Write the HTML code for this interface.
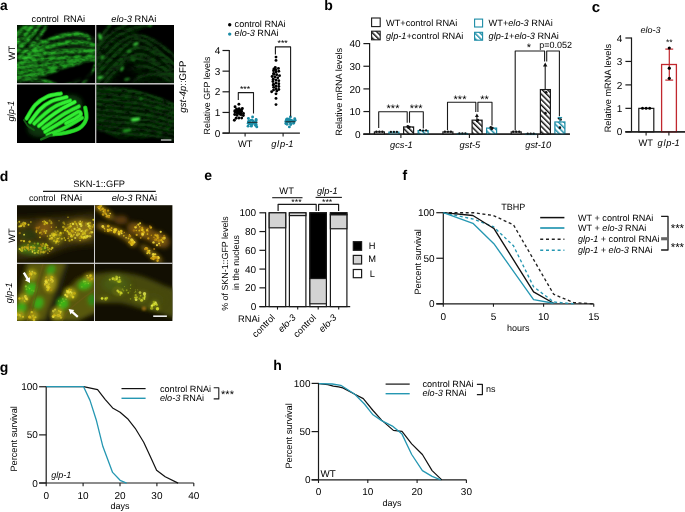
<!DOCTYPE html>
<html><head><meta charset="utf-8"><style>
html,body{margin:0;padding:0;width:685px;height:512px;overflow:hidden}
svg{display:block;will-change:transform}
text{font-family:"Liberation Sans", sans-serif;text-rendering:geometricPrecision}
</style></head><body>
<svg width="685" height="512" viewBox="0 0 685 512">
<rect x="0" y="0" width="685" height="512" fill="#fff"/>
<defs>
<pattern id="hatchK" patternUnits="userSpaceOnUse" width="3.8" height="3.8" patternTransform="rotate(-45)">
<rect width="3.8" height="3.8" fill="#fff"/><rect x="0" y="0" width="1.45" height="3.8" fill="#111"/></pattern>
<pattern id="hatchT" patternUnits="userSpaceOnUse" width="3.8" height="3.8" patternTransform="rotate(-45)">
<rect width="3.8" height="3.8" fill="#fff"/><rect x="0" y="0" width="1.45" height="3.8" fill="#1b8ca6"/></pattern>

<filter id="bl03" x="-20%" y="-20%" width="140%" height="140%"><feGaussianBlur stdDeviation="0.3"/></filter>
<filter id="speck" x="0" y="0" width="100%" height="100%" filterUnits="userSpaceOnUse">
<feTurbulence type="fractalNoise" baseFrequency="0.16 0.3" numOctaves="2" seed="5" result="n"/>
<feColorMatrix in="n" type="matrix" values="0 0 0 0 0  0 0 0 0 0  0 0 0 0 0  1.5 0 0 0 0.05" result="m"/>
<feComposite in="SourceGraphic" in2="m" operator="in" result="s"/>
<feGaussianBlur in="s" stdDeviation="0.35"/>
</filter>
<filter id="bl06" x="-20%" y="-20%" width="140%" height="140%"><feGaussianBlur stdDeviation="0.6"/></filter>
<filter id="bl08" x="-20%" y="-20%" width="140%" height="140%"><feGaussianBlur stdDeviation="0.75"/></filter>
<filter id="bl1" x="-20%" y="-20%" width="140%" height="140%"><feGaussianBlur stdDeviation="0.9"/></filter>
<filter id="bl2" x="-20%" y="-20%" width="140%" height="140%"><feGaussianBlur stdDeviation="2"/></filter>
<filter id="bl3" x="-30%" y="-30%" width="160%" height="160%"><feGaussianBlur stdDeviation="3"/></filter>
<clipPath id="cA1"><rect x="17" y="25" width="78.3" height="58.2"/></clipPath>
<clipPath id="cA2"><rect x="96.2" y="25" width="77.8" height="58.2"/></clipPath>
<clipPath id="cA3"><rect x="17" y="84.5" width="78.3" height="58.5"/></clipPath>
<clipPath id="cA4"><rect x="96.2" y="84.5" width="77.8" height="58.5"/></clipPath>
<clipPath id="cD1"><rect x="17" y="205.2" width="77.3" height="57.5"/></clipPath>
<clipPath id="cD2"><rect x="95" y="205.2" width="77.4" height="57.5"/></clipPath>
<clipPath id="cD3"><rect x="17" y="263.8" width="77.3" height="57.2"/></clipPath>
<clipPath id="cD4"><rect x="95" y="263.8" width="77.4" height="57.2"/></clipPath>

</defs>
<text x="0.10" y="10.10" font-size="13.8" font-weight="bold">a</text>
<text x="324.30" y="10.30" font-size="14" font-weight="bold">b</text>
<text x="591.80" y="11.50" font-size="15" font-weight="bold">c</text>
<text x="-0.30" y="180.60" font-size="14" font-weight="bold">d</text>
<text x="204.20" y="180.40" font-size="14" font-weight="bold">e</text>
<text x="402.40" y="180.20" font-size="14" font-weight="bold">f</text>
<text x="-0.20" y="371.60" font-size="14" font-weight="bold">g</text>
<text x="273.30" y="370.30" font-size="14" font-weight="bold">h</text>
<g id="micro_a"><rect x="17" y="25" width="157" height="118" fill="#000"/>
<g clip-path="url(#cA1)"><g filter="url(#speck)"><g filter="url(#bl1)">
<path d="M14,52 C30,46 45,36 70,33 C85,32 92,35 96,38 L96,60 C85,63 72,67 60,71 C50,74 40,78 30,80 L14,80 Z" fill="#072807"/>
<path d="M14,25 L44,25 C37,35 28,45 14,57 Z" fill="#062406"/>
<path d="M15.0,36.0 C16.2,35.0 19.8,31.8 22.0,30.0 C24.2,28.2 27.0,25.8 28.0,25.0" fill="none" stroke="#26a826" stroke-width="2.8" stroke-linecap="round" stroke-linejoin="round" opacity="1.0"/>
<path d="M15.0,44.0 C16.7,42.5 22.0,38.2 25.0,35.0 C28.0,31.8 31.7,26.7 33.0,25.0" fill="none" stroke="#26a826" stroke-width="2.8" stroke-linecap="round" stroke-linejoin="round" opacity="1.0"/>
<path d="M16.0,51.0 C17.8,49.3 23.7,44.5 27.0,41.0 C30.3,37.5 33.8,32.7 36.0,30.0 C38.2,27.3 39.3,25.8 40.0,25.0" fill="none" stroke="#26a826" stroke-width="2.8" stroke-linecap="round" stroke-linejoin="round" opacity="1.0"/>
<path d="M19.0,57.0 C20.8,55.3 26.7,50.3 30.0,47.0 C33.3,43.7 36.3,40.3 39.0,37.0 C41.7,33.7 44.8,28.7 46.0,27.0" fill="none" stroke="#26a826" stroke-width="2.8" stroke-linecap="round" stroke-linejoin="round" opacity="1.0"/>
<path d="M24.0,58.0 C25.7,56.7 31.0,52.8 34.0,50.0 C37.0,47.2 40.7,42.5 42.0,41.0" fill="none" stroke="#26a826" stroke-width="2.8" stroke-linecap="round" stroke-linejoin="round" opacity="1.0"/>
<path d="M33.0,52.0 C34.8,50.5 40.2,45.5 44.0,43.0 C47.8,40.5 51.7,38.5 56.0,37.0 C60.3,35.5 65.5,34.5 70.0,34.0 C74.5,33.5 79.8,33.3 83.0,34.0 C86.2,34.7 88.0,37.3 89.0,38.0" fill="none" stroke="#2cc02c" stroke-width="2.8" stroke-linecap="round" stroke-linejoin="round" opacity="1.0"/>
<path d="M26.0,56.0 C28.3,55.0 35.2,51.8 40.0,50.0 C44.8,48.2 49.7,46.3 55.0,45.0 C60.3,43.7 66.5,42.2 72.0,42.0 C77.5,41.8 83.8,43.3 88.0,44.0 C92.2,44.7 95.5,45.7 97.0,46.0" fill="none" stroke="#28b428" stroke-width="2.8" stroke-linecap="round" stroke-linejoin="round" opacity="1.0"/>
<path d="M21.0,60.0 C23.8,59.2 32.3,56.3 38.0,55.0 C43.7,53.7 48.8,52.7 55.0,52.0 C61.2,51.3 68.0,51.2 75.0,51.0 C82.0,50.8 93.3,51.0 97.0,51.0" fill="none" stroke="#2ec42e" stroke-width="2.8" stroke-linecap="round" stroke-linejoin="round" opacity="1.0"/>
<path d="M17.0,64.0 C20.5,63.3 31.2,61.0 38.0,60.0 C44.8,59.0 51.0,58.5 58.0,58.0 C65.0,57.5 73.5,57.3 80.0,57.0 C86.5,56.7 94.2,56.2 97.0,56.0" fill="none" stroke="#27b027" stroke-width="2.8" stroke-linecap="round" stroke-linejoin="round" opacity="1.0"/>
<path d="M17.0,68.0 C20.8,67.5 32.8,65.8 40.0,65.0 C47.2,64.2 53.7,63.8 60.0,63.0 C66.3,62.2 71.8,60.5 78.0,60.0 C84.2,59.5 93.8,60.0 97.0,60.0" fill="none" stroke="#25aa25" stroke-width="2.8" stroke-linecap="round" stroke-linejoin="round" opacity="1.0"/>
<path d="M17.0,72.0 C20.2,71.7 30.2,70.7 36.0,70.0 C41.8,69.3 47.0,68.7 52.0,68.0 C57.0,67.3 61.3,66.8 66.0,66.0 C70.7,65.2 77.7,63.5 80.0,63.0" fill="none" stroke="#24a624" stroke-width="2.8" stroke-linecap="round" stroke-linejoin="round" opacity="1.0"/>
<path d="M17.0,76.0 C19.5,75.8 27.2,75.5 32.0,75.0 C36.8,74.5 42.0,73.7 46.0,73.0 C50.0,72.3 54.3,71.3 56.0,71.0" fill="none" stroke="#26ac26" stroke-width="2.8" stroke-linecap="round" stroke-linejoin="round" opacity="1.0"/>
<path d="M17.0,80.0 C19.2,80.0 25.5,79.8 30.0,80.0 C34.5,80.2 39.7,80.3 44.0,81.0 C48.3,81.7 54.0,83.5 56.0,84.0" fill="none" stroke="#219e21" stroke-width="2.8" stroke-linecap="round" stroke-linejoin="round" opacity="1.0"/>
<path d="M97.0,63.0 C96.2,64.3 93.7,68.5 92.0,71.0 C90.3,73.5 88.7,75.5 87.0,78.0 C85.3,80.5 82.8,84.7 82.0,86.0" fill="none" stroke="#24a824" stroke-width="2.8" stroke-linecap="round" stroke-linejoin="round" opacity="1.0"/>
<path d="M64.0,86.0 C65.3,85.3 69.3,83.2 72.0,82.0 C74.7,80.8 78.7,79.5 80.0,79.0" fill="none" stroke="#1b801b" stroke-width="2.8" stroke-linecap="round" stroke-linejoin="round" opacity="1.0"/>
<circle cx="56.2" cy="35.5" r="1.03" fill="#2cb82c" opacity="0.9"/>
<circle cx="81.2" cy="33.4" r="0.83" fill="#2cb82c" opacity="0.9"/>
<circle cx="57.8" cy="36.3" r="1.01" fill="#3ee03e" opacity="0.9"/>
<circle cx="37.2" cy="48.2" r="1.27" fill="#2cb82c" opacity="0.9"/>
<circle cx="67.4" cy="34.0" r="1.02" fill="#2cb82c" opacity="0.9"/>
<circle cx="66.3" cy="34.4" r="0.81" fill="#3ee03e" opacity="0.9"/>
<circle cx="79.8" cy="34.2" r="1.32" fill="#2cb82c" opacity="0.9"/>
<circle cx="28.1" cy="55.2" r="1.02" fill="#34cc34" opacity="0.9"/>
<circle cx="67.3" cy="43.0" r="0.91" fill="#3ee03e" opacity="0.9"/>
<circle cx="72.4" cy="42.5" r="1.02" fill="#34cc34" opacity="0.9"/>
<circle cx="53.5" cy="43.9" r="0.76" fill="#34cc34" opacity="0.9"/>
<circle cx="47.4" cy="47.0" r="0.86" fill="#34cc34" opacity="0.9"/>
<circle cx="27.9" cy="54.9" r="0.78" fill="#34cc34" opacity="0.9"/>
<circle cx="52.5" cy="45.7" r="1.37" fill="#2cb82c" opacity="0.9"/>
<circle cx="21.1" cy="60.4" r="1.03" fill="#2cb82c" opacity="0.9"/>
<circle cx="50.9" cy="54.2" r="0.75" fill="#2cb82c" opacity="0.9"/>
<circle cx="35.6" cy="55.4" r="0.92" fill="#3ee03e" opacity="0.9"/>
<circle cx="94.2" cy="50.4" r="1.23" fill="#3ee03e" opacity="0.9"/>
<circle cx="30.9" cy="57.0" r="1.03" fill="#34cc34" opacity="0.9"/>
<circle cx="34.1" cy="56.0" r="1.09" fill="#34cc34" opacity="0.9"/>
<circle cx="59.3" cy="53.0" r="0.99" fill="#34cc34" opacity="0.9"/>
<circle cx="26.2" cy="62.1" r="0.99" fill="#3ee03e" opacity="0.9"/>
<circle cx="17.3" cy="65.2" r="1.11" fill="#3ee03e" opacity="0.9"/>
<circle cx="33.4" cy="59.4" r="0.98" fill="#2cb82c" opacity="0.9"/>
<circle cx="68.3" cy="59.2" r="0.85" fill="#34cc34" opacity="0.9"/>
<circle cx="18.0" cy="65.1" r="1.13" fill="#34cc34" opacity="0.9"/>
<circle cx="47.7" cy="59.5" r="1.15" fill="#3ee03e" opacity="0.9"/>
<circle cx="64.9" cy="57.9" r="0.96" fill="#34cc34" opacity="0.9"/>
<circle cx="27.0" cy="65.6" r="0.80" fill="#34cc34" opacity="0.9"/>
<circle cx="31.5" cy="65.4" r="0.81" fill="#3ee03e" opacity="0.9"/>
<circle cx="82.3" cy="60.0" r="1.22" fill="#2cb82c" opacity="0.9"/>
<circle cx="32.8" cy="66.4" r="1.37" fill="#34cc34" opacity="0.9"/>
<circle cx="65.2" cy="61.8" r="0.73" fill="#34cc34" opacity="0.9"/>
<circle cx="36.1" cy="65.7" r="1.19" fill="#34cc34" opacity="0.9"/>
<circle cx="50.7" cy="64.6" r="1.06" fill="#2cb82c" opacity="0.9"/>
<circle cx="78.5" cy="62.9" r="0.79" fill="#34cc34" opacity="0.9"/>
<circle cx="52.5" cy="68.5" r="0.90" fill="#3ee03e" opacity="0.9"/>
<circle cx="64.2" cy="65.5" r="0.75" fill="#34cc34" opacity="0.9"/>
<circle cx="45.3" cy="69.3" r="0.96" fill="#2cb82c" opacity="0.9"/>
<circle cx="78.4" cy="63.5" r="0.76" fill="#3ee03e" opacity="0.9"/>
<circle cx="73.4" cy="65.4" r="1.18" fill="#2cb82c" opacity="0.9"/>
<circle cx="76.7" cy="63.6" r="1.11" fill="#3ee03e" opacity="0.9"/>
<circle cx="35.6" cy="74.1" r="0.72" fill="#2cb82c" opacity="0.9"/>
<circle cx="42.0" cy="74.1" r="1.04" fill="#2cb82c" opacity="0.9"/>
<circle cx="29.2" cy="75.4" r="1.02" fill="#34cc34" opacity="0.9"/>
<circle cx="45.9" cy="73.2" r="1.33" fill="#2cb82c" opacity="0.9"/>
<circle cx="46.0" cy="74.2" r="0.94" fill="#3ee03e" opacity="0.9"/>
<circle cx="44.0" cy="74.6" r="1.33" fill="#34cc34" opacity="0.9"/>
<circle cx="54.0" cy="72.2" r="0.71" fill="#2cb82c" opacity="0.9"/>
<circle cx="32.0" cy="80.3" r="1.11" fill="#2cb82c" opacity="0.9"/>
<circle cx="19.8" cy="80.3" r="0.88" fill="#34cc34" opacity="0.9"/>
<circle cx="45.6" cy="81.6" r="0.97" fill="#2cb82c" opacity="0.9"/>
<circle cx="44.5" cy="80.3" r="1.08" fill="#2cb82c" opacity="0.9"/>
<circle cx="46.4" cy="81.8" r="0.72" fill="#2cb82c" opacity="0.9"/>
<circle cx="20.5" cy="81.7" r="0.78" fill="#2cb82c" opacity="0.9"/>
<circle cx="43.0" cy="81.2" r="1.04" fill="#3ee03e" opacity="0.9"/>
<circle cx="91.1" cy="71.2" r="1.06" fill="#34cc34" opacity="0.9"/>
<circle cx="86.3" cy="77.7" r="1.01" fill="#3ee03e" opacity="0.9"/>
<circle cx="92.4" cy="70.7" r="1.00" fill="#3ee03e" opacity="0.9"/>
<circle cx="84.1" cy="83.4" r="0.97" fill="#2cb82c" opacity="0.9"/>
<circle cx="83.1" cy="84.1" r="0.95" fill="#3ee03e" opacity="0.9"/>
<circle cx="85.9" cy="79.1" r="1.37" fill="#34cc34" opacity="0.9"/>
<circle cx="84.1" cy="81.5" r="1.35" fill="#34cc34" opacity="0.9"/>
<circle cx="20.3" cy="32.2" r="1.06" fill="#2cb82c" opacity="0.9"/>
<circle cx="19.8" cy="33.3" r="1.02" fill="#3ee03e" opacity="0.9"/>
<circle cx="24.7" cy="25.6" r="0.89" fill="#2cb82c" opacity="0.9"/>
<circle cx="15.4" cy="35.4" r="0.92" fill="#2cb82c" opacity="0.9"/>
<circle cx="14.7" cy="35.1" r="0.80" fill="#34cc34" opacity="0.9"/>
<circle cx="17.5" cy="33.9" r="1.25" fill="#3ee03e" opacity="0.9"/>
<circle cx="27.4" cy="24.8" r="0.78" fill="#3ee03e" opacity="0.9"/>
<circle cx="26.4" cy="32.1" r="1.37" fill="#2cb82c" opacity="0.9"/>
<circle cx="18.2" cy="39.7" r="1.28" fill="#34cc34" opacity="0.9"/>
<circle cx="19.0" cy="41.4" r="1.20" fill="#3ee03e" opacity="0.9"/>
<circle cx="19.5" cy="40.1" r="1.25" fill="#2cb82c" opacity="0.9"/>
<circle cx="27.3" cy="30.6" r="1.23" fill="#34cc34" opacity="0.9"/>
<circle cx="30.4" cy="28.0" r="1.19" fill="#3ee03e" opacity="0.9"/>
<circle cx="17.4" cy="43.2" r="0.79" fill="#34cc34" opacity="0.9"/>
<circle cx="20.9" cy="46.0" r="1.32" fill="#3ee03e" opacity="0.9"/>
<circle cx="25.0" cy="41.0" r="1.26" fill="#34cc34" opacity="0.9"/>
<circle cx="27.5" cy="39.4" r="1.16" fill="#3ee03e" opacity="0.9"/>
<circle cx="19.2" cy="49.3" r="1.35" fill="#3ee03e" opacity="0.9"/>
<circle cx="21.0" cy="45.2" r="1.33" fill="#3ee03e" opacity="0.9"/>
<circle cx="38.6" cy="24.9" r="0.92" fill="#2cb82c" opacity="0.9"/>
<circle cx="36.6" cy="28.8" r="0.94" fill="#3ee03e" opacity="0.9"/>
<circle cx="19.8" cy="55.7" r="0.89" fill="#3ee03e" opacity="0.9"/>
<circle cx="26.0" cy="51.5" r="1.31" fill="#34cc34" opacity="0.9"/>
<circle cx="41.6" cy="33.8" r="1.25" fill="#3ee03e" opacity="0.9"/>
<circle cx="33.2" cy="44.2" r="1.40" fill="#2cb82c" opacity="0.9"/>
<circle cx="33.9" cy="42.2" r="1.32" fill="#2cb82c" opacity="0.9"/>
<circle cx="44.3" cy="28.3" r="0.76" fill="#3ee03e" opacity="0.9"/>
<circle cx="31.1" cy="44.0" r="1.09" fill="#3ee03e" opacity="0.9"/>
<circle cx="33.8" cy="49.5" r="1.29" fill="#2cb82c" opacity="0.9"/>
<circle cx="28.5" cy="53.4" r="1.31" fill="#2cb82c" opacity="0.9"/>
<circle cx="27.1" cy="53.6" r="1.30" fill="#2cb82c" opacity="0.9"/>
<circle cx="33.8" cy="49.6" r="1.08" fill="#2cb82c" opacity="0.9"/>
<circle cx="24.0" cy="57.8" r="0.96" fill="#2cb82c" opacity="0.9"/>
<circle cx="41.0" cy="41.1" r="1.26" fill="#2cb82c" opacity="0.9"/>
<circle cx="26.3" cy="56.1" r="0.77" fill="#3ee03e" opacity="0.9"/>
</g></g>
<path d="M52,75 C65,70 80,66 92,63 L92,80 C85,81 70,82 58,84 Z" fill="#000" opacity="0.85" filter="url(#bl1)"/>
</g>
<g clip-path="url(#cA2)"><g filter="url(#speck)"><g filter="url(#bl1)">
<path d="M94,86 L94,40 C105,32 120,27 140,25 L152,25 C135,32 125,38 120,45 C132,40 145,48 160,60 C168,66 175,72 176,80 L176,86 Z" fill="#031403"/>
<path d="M94.0,78.0 C96.3,75.3 103.3,67.0 108.0,62.0 C112.7,57.0 117.7,51.7 122.0,48.0 C126.3,44.3 130.0,41.0 134.0,40.0 C138.0,39.0 141.7,40.0 146.0,42.0 C150.3,44.0 155.0,48.0 160.0,52.0 C165.0,56.0 173.3,63.7 176.0,66.0" fill="none" stroke="#0d480d" stroke-width="3.1" stroke-linecap="round" stroke-linejoin="round" opacity="1.0"/>
<path d="M94.0,72.0 C96.0,69.3 102.0,60.7 106.0,56.0 C110.0,51.3 113.7,47.3 118.0,44.0 C122.3,40.7 127.3,37.2 132.0,36.0 C136.7,34.8 141.0,35.3 146.0,37.0 C151.0,38.7 157.0,42.5 162.0,46.0 C167.0,49.5 173.7,56.0 176.0,58.0" fill="none" stroke="#0b420b" stroke-width="3.1" stroke-linecap="round" stroke-linejoin="round" opacity="1.0"/>
<path d="M96.0,84.0 C98.7,81.3 107.0,73.0 112.0,68.0 C117.0,63.0 121.7,57.5 126.0,54.0 C130.3,50.5 134.0,47.7 138.0,47.0 C142.0,46.3 145.7,47.8 150.0,50.0 C154.3,52.2 159.7,56.0 164.0,60.0 C168.3,64.0 174.0,71.7 176.0,74.0" fill="none" stroke="#0d460d" stroke-width="3.1" stroke-linecap="round" stroke-linejoin="round" opacity="1.0"/>
<path d="M102.0,86.0 C104.3,83.3 111.7,74.7 116.0,70.0 C120.3,65.3 124.0,60.7 128.0,58.0 C132.0,55.3 135.7,53.7 140.0,54.0 C144.3,54.3 149.7,57.3 154.0,60.0 C158.3,62.7 162.3,66.7 166.0,70.0 C169.7,73.3 174.3,78.3 176.0,80.0" fill="none" stroke="#0a3c0a" stroke-width="3.1" stroke-linecap="round" stroke-linejoin="round" opacity="1.0"/>
<path d="M94.0,64.0 C95.7,61.3 100.0,52.7 104.0,48.0 C108.0,43.3 113.0,39.3 118.0,36.0 C123.0,32.7 128.7,29.8 134.0,28.0 C139.3,26.2 147.3,25.5 150.0,25.0" fill="none" stroke="#0b400b" stroke-width="3.1" stroke-linecap="round" stroke-linejoin="round" opacity="1.0"/>
<path d="M94.0,56.0 C95.3,53.7 98.7,46.2 102.0,42.0 C105.3,37.8 110.0,33.8 114.0,31.0 C118.0,28.2 124.0,26.0 126.0,25.0" fill="none" stroke="#0a3a0a" stroke-width="3.1" stroke-linecap="round" stroke-linejoin="round" opacity="1.0"/>
<path d="M98.0,45.0 C99.0,43.0 102.0,36.3 104.0,33.0 C106.0,29.7 109.0,26.3 110.0,25.0" fill="none" stroke="#0c440c" stroke-width="3.1" stroke-linecap="round" stroke-linejoin="round" opacity="1.0"/>
<path d="M126.0,86.0 C128.0,84.7 134.0,80.0 138.0,78.0 C142.0,76.0 146.0,74.3 150.0,74.0 C154.0,73.7 157.7,74.3 162.0,76.0 C166.3,77.7 173.7,82.7 176.0,84.0" fill="none" stroke="#093409" stroke-width="3.1" stroke-linecap="round" stroke-linejoin="round" opacity="1.0"/>
<path d="M122.0,62.0 C124.7,61.3 132.3,57.7 138.0,58.0 C143.7,58.3 149.7,61.0 156.0,64.0 C162.3,67.0 172.7,74.0 176.0,76.0" fill="none" stroke="#0b400b" stroke-width="3.1" stroke-linecap="round" stroke-linejoin="round" opacity="1.0"/>
<path d="M128.0,70.0 C130.7,69.3 138.7,65.7 144.0,66.0 C149.3,66.3 154.7,69.3 160.0,72.0 C165.3,74.7 173.3,80.3 176.0,82.0" fill="none" stroke="#0a3a0a" stroke-width="3.1" stroke-linecap="round" stroke-linejoin="round" opacity="1.0"/>
<circle cx="98.2" cy="72.3" r="1.08" fill="#155a15" opacity="0.8"/>
<circle cx="113.1" cy="56.7" r="0.84" fill="#124f12" opacity="0.8"/>
<circle cx="119.3" cy="52.4" r="1.06" fill="#155a15" opacity="0.8"/>
<circle cx="101.0" cy="68.8" r="0.81" fill="#124f12" opacity="0.8"/>
<circle cx="169.6" cy="53.5" r="0.61" fill="#124f12" opacity="0.8"/>
<circle cx="104.3" cy="59.5" r="0.61" fill="#155a15" opacity="0.8"/>
<circle cx="115.2" cy="46.1" r="0.65" fill="#124f12" opacity="0.8"/>
<circle cx="163.9" cy="48.5" r="0.91" fill="#124f12" opacity="0.8"/>
<circle cx="153.6" cy="52.7" r="0.92" fill="#124f12" opacity="0.8"/>
<circle cx="137.8" cy="47.0" r="1.03" fill="#124f12" opacity="0.8"/>
<circle cx="137.3" cy="48.0" r="1.03" fill="#124f12" opacity="0.8"/>
<circle cx="170.7" cy="66.8" r="0.91" fill="#155a15" opacity="0.8"/>
<circle cx="169.6" cy="73.3" r="1.06" fill="#124f12" opacity="0.8"/>
<circle cx="160.2" cy="65.8" r="0.70" fill="#124f12" opacity="0.8"/>
<circle cx="110.5" cy="76.4" r="0.73" fill="#124f12" opacity="0.8"/>
<circle cx="131.6" cy="57.8" r="1.07" fill="#124f12" opacity="0.8"/>
<circle cx="101.0" cy="51.4" r="0.65" fill="#155a15" opacity="0.8"/>
<circle cx="143.6" cy="25.4" r="1.08" fill="#124f12" opacity="0.8"/>
<circle cx="129.5" cy="29.8" r="1.10" fill="#124f12" opacity="0.8"/>
<circle cx="136.1" cy="27.2" r="0.84" fill="#124f12" opacity="0.8"/>
<circle cx="94.3" cy="54.2" r="0.88" fill="#124f12" opacity="0.8"/>
<circle cx="98.1" cy="48.3" r="0.66" fill="#124f12" opacity="0.8"/>
<circle cx="120.1" cy="29.5" r="0.65" fill="#124f12" opacity="0.8"/>
<circle cx="97.0" cy="50.6" r="0.94" fill="#124f12" opacity="0.8"/>
<circle cx="106.4" cy="29.2" r="0.86" fill="#155a15" opacity="0.8"/>
<circle cx="100.7" cy="40.9" r="0.79" fill="#124f12" opacity="0.8"/>
<circle cx="108.0" cy="28.1" r="0.97" fill="#155a15" opacity="0.8"/>
<circle cx="109.4" cy="26.8" r="0.90" fill="#124f12" opacity="0.8"/>
<circle cx="151.1" cy="75.5" r="1.00" fill="#155a15" opacity="0.8"/>
<circle cx="154.4" cy="74.9" r="0.70" fill="#155a15" opacity="0.8"/>
<circle cx="166.7" cy="78.6" r="0.97" fill="#124f12" opacity="0.8"/>
<circle cx="166.4" cy="80.1" r="0.80" fill="#155a15" opacity="0.8"/>
<circle cx="170.1" cy="72.1" r="0.98" fill="#155a15" opacity="0.8"/>
<circle cx="133.6" cy="58.1" r="0.69" fill="#155a15" opacity="0.8"/>
<circle cx="138.9" cy="59.4" r="1.10" fill="#124f12" opacity="0.8"/>
<circle cx="135.4" cy="59.4" r="1.07" fill="#155a15" opacity="0.8"/>
<circle cx="145.3" cy="66.0" r="0.87" fill="#155a15" opacity="0.8"/>
<circle cx="154.1" cy="69.1" r="0.85" fill="#124f12" opacity="0.8"/>
<circle cx="162.6" cy="73.8" r="0.61" fill="#124f12" opacity="0.8"/>
<circle cx="165.3" cy="73.3" r="0.73" fill="#155a15" opacity="0.8"/>
</g></g>
<path d="M112,86 C118,75 124,66 130,62 C134,68 136,76 134,86 Z" fill="#000" opacity="0.8" filter="url(#bl2)"/>
<g filter="url(#bl1)">
<ellipse cx="100" cy="36.5" rx="1.5" ry="3.4" transform="rotate(-15 100 36.5)" fill="#3cd03c"/>
<ellipse cx="135.8" cy="44" rx="3.2" ry="1.5" transform="rotate(-20 135.8 44)" fill="#3ac83a"/>
<ellipse cx="129" cy="51" rx="2.4" ry="1.3" transform="rotate(-25 129 51)" fill="#2a9e2a"/>
<ellipse cx="102.3" cy="57.3" rx="1.6" ry="2.4" transform="rotate(30 102.3 57.3)" fill="#289a28"/>
<ellipse cx="122" cy="68.8" rx="1.3" ry="2.8" transform="rotate(30 122 68.8)" fill="#34b834"/>
<ellipse cx="100" cy="77.5" rx="2.8" ry="1.6" transform="rotate(-10 100 77.5)" fill="#3ac43a"/>
<ellipse cx="127" cy="79.2" rx="3" ry="1.3" transform="rotate(-10 127 79.2)" fill="#228822"/>
<ellipse cx="150.2" cy="25.6" rx="2" ry="1" transform="rotate(0 150.2 25.6)" fill="#289a28"/>
<ellipse cx="133" cy="60" rx="2" ry="1.3" transform="rotate(20 133 60)" fill="#1d701d"/>
</g></g>
<g clip-path="url(#cA3)">
<ellipse cx="55" cy="116" rx="31" ry="16" transform="rotate(-32 55 116)" fill="#0a360a" filter="url(#bl2)"/>
<g filter="url(#bl06)">
<path d="M26.5,118.6 C28.0,116.3 32.1,108.4 35.5,104.8 C38.9,101.2 42.8,98.6 47.0,96.7 C51.2,94.8 58.5,94.1 60.8,93.6" fill="none" stroke="#1aa81a" stroke-width="4.4" stroke-linecap="round" stroke-linejoin="round" opacity="1.0"/>
<path d="M30.0,122.1 C31.7,120.0 36.5,112.9 40.1,109.4 C43.7,105.9 47.2,103.3 51.6,101.3 C56.0,99.3 64.1,97.9 66.6,97.2" fill="none" stroke="#1aa81a" stroke-width="4.4" stroke-linecap="round" stroke-linejoin="round" opacity="1.0"/>
<path d="M34.3,123.6 C36.0,122.0 41.1,117.0 44.7,114.0 C48.4,111.0 52.0,108.1 56.2,105.9 C60.4,103.7 67.8,101.5 70.1,100.6" fill="none" stroke="#1aa81a" stroke-width="4.4" stroke-linecap="round" stroke-linejoin="round" opacity="1.0"/>
<path d="M38.9,126.0 C40.6,124.6 45.6,120.2 49.3,117.4 C52.9,114.6 56.6,112.0 60.8,109.4 C65.0,106.8 72.4,103.2 74.7,102.0" fill="none" stroke="#1aa81a" stroke-width="4.4" stroke-linecap="round" stroke-linejoin="round" opacity="1.0"/>
<path d="M43.2,128.4 C45.0,127.2 50.2,123.4 53.9,120.9 C57.6,118.4 61.3,115.6 65.4,113.2 C69.6,110.8 76.6,107.5 78.8,106.4" fill="none" stroke="#1aa81a" stroke-width="4.4" stroke-linecap="round" stroke-linejoin="round" opacity="1.0"/>
<path d="M45.2,131.8 C47.2,130.6 53.2,127.1 57.4,124.6 C61.5,122.1 66.6,118.7 70.1,116.6 C73.6,114.5 76.8,112.1 78.6,111.8 C80.3,111.5 81.2,113.4 80.6,114.6 C80.0,115.8 77.6,117.3 75.2,118.8 C72.8,120.3 67.5,122.6 66.0,123.4" fill="none" stroke="#1aa81a" stroke-width="4.4" stroke-linecap="round" stroke-linejoin="round" opacity="1.0"/>
<path d="M47.5,135.0 C49.5,134.2 55.6,132.2 59.7,130.3 C63.9,128.4 68.7,125.7 72.4,123.6 C76.1,121.5 80.4,118.8 82.0,117.8" fill="none" stroke="#1aa81a" stroke-width="4.4" stroke-linecap="round" stroke-linejoin="round" opacity="1.0"/>
<path d="M52.0,134.4 C54.2,134.1 60.9,133.8 65.4,132.8 C70.0,131.8 75.8,130.5 79.3,128.2 C82.8,125.9 85.2,122.4 86.2,119.0 C87.2,115.6 85.4,109.5 85.2,107.6" fill="none" stroke="#1aa81a" stroke-width="4.4" stroke-linecap="round" stroke-linejoin="round" opacity="1.0"/>
<path d="M26.5,118.6 C28.0,116.3 32.1,108.4 35.5,104.8 C38.9,101.2 42.8,98.6 47.0,96.7 C51.2,94.8 58.5,94.1 60.8,93.6" fill="none" stroke="#34f034" stroke-width="2.9" stroke-linecap="round" stroke-linejoin="round" opacity="1.0"/>
<path d="M30.0,122.1 C31.7,120.0 36.5,112.9 40.1,109.4 C43.7,105.9 47.2,103.3 51.6,101.3 C56.0,99.3 64.1,97.9 66.6,97.2" fill="none" stroke="#38f438" stroke-width="2.9" stroke-linecap="round" stroke-linejoin="round" opacity="1.0"/>
<path d="M34.3,123.6 C36.0,122.0 41.1,117.0 44.7,114.0 C48.4,111.0 52.0,108.1 56.2,105.9 C60.4,103.7 67.8,101.5 70.1,100.6" fill="none" stroke="#32ec32" stroke-width="2.9" stroke-linecap="round" stroke-linejoin="round" opacity="1.0"/>
<path d="M38.9,126.0 C40.6,124.6 45.6,120.2 49.3,117.4 C52.9,114.6 56.6,112.0 60.8,109.4 C65.0,106.8 72.4,103.2 74.7,102.0" fill="none" stroke="#38f638" stroke-width="2.9" stroke-linecap="round" stroke-linejoin="round" opacity="1.0"/>
<path d="M43.2,128.4 C45.0,127.2 50.2,123.4 53.9,120.9 C57.6,118.4 61.3,115.6 65.4,113.2 C69.6,110.8 76.6,107.5 78.8,106.4" fill="none" stroke="#30e830" stroke-width="2.9" stroke-linecap="round" stroke-linejoin="round" opacity="1.0"/>
<path d="M45.2,131.8 C47.2,130.6 53.2,127.1 57.4,124.6 C61.5,122.1 66.6,118.7 70.1,116.6 C73.6,114.5 76.8,112.1 78.6,111.8 C80.3,111.5 81.2,113.4 80.6,114.6 C80.0,115.8 77.6,117.3 75.2,118.8 C72.8,120.3 67.5,122.6 66.0,123.4" fill="none" stroke="#33ec33" stroke-width="2.9" stroke-linecap="round" stroke-linejoin="round" opacity="1.0"/>
<path d="M47.5,135.0 C49.5,134.2 55.6,132.2 59.7,130.3 C63.9,128.4 68.7,125.7 72.4,123.6 C76.1,121.5 80.4,118.8 82.0,117.8" fill="none" stroke="#2ee22e" stroke-width="2.9" stroke-linecap="round" stroke-linejoin="round" opacity="1.0"/>
<path d="M52.0,134.4 C54.2,134.1 60.9,133.8 65.4,132.8 C70.0,131.8 75.8,130.5 79.3,128.2 C82.8,125.9 85.2,122.4 86.2,119.0 C87.2,115.6 85.4,109.5 85.2,107.6" fill="none" stroke="#2cde2c" stroke-width="2.9" stroke-linecap="round" stroke-linejoin="round" opacity="1.0"/>
<path d="M41.2,139.4 L51.6,134.9" fill="none" stroke="#166a16" stroke-width="2.6" stroke-linecap="round" stroke-linejoin="round" opacity="1.0"/>
<path d="M24.0,120.0 C24.7,121.0 26.3,124.3 28.0,126.0 C29.7,127.7 33.0,129.3 34.0,130.0" fill="none" stroke="#125a12" stroke-width="2.0" stroke-linecap="round" stroke-linejoin="round" opacity="1.0"/>
</g></g>
<g clip-path="url(#cA4)"><g filter="url(#speck)"><g filter="url(#bl1)">
<path d="M94,85 L130,88 C145,92 160,98 176,106 L176,128 C165,135 150,138 140,139 L120,139 C112,137 104,132 94,127 Z" fill="#041e04"/>
<path d="M94.0,88.0 C97.5,88.2 108.2,88.8 115.0,89.5 C121.8,90.2 128.3,90.8 135.0,92.0 C141.7,93.2 148.2,94.8 155.0,97.0 C161.8,99.2 172.5,103.7 176.0,105.0" fill="none" stroke="#0d480d" stroke-width="2.5" stroke-linecap="round" stroke-linejoin="round" opacity="1.0"/>
<path d="M94.0,93.2 C97.5,93.5 108.2,94.2 115.0,94.9 C121.8,95.6 128.3,96.1 135.0,97.3 C141.7,98.5 148.2,99.9 155.0,101.9 C161.8,103.9 172.5,108.1 176.0,109.3" fill="none" stroke="#0b400b" stroke-width="2.5" stroke-linecap="round" stroke-linejoin="round" opacity="1.0"/>
<path d="M94.0,98.4 C97.5,98.7 108.2,99.6 115.0,100.3 C121.8,101.0 128.3,101.5 135.0,102.6 C141.7,103.7 148.2,105.0 155.0,106.8 C161.8,108.6 172.5,112.5 176.0,113.6" fill="none" stroke="#0e4a0e" stroke-width="2.5" stroke-linecap="round" stroke-linejoin="round" opacity="1.0"/>
<path d="M94.0,103.6 C97.5,103.9 108.2,105.0 115.0,105.7 C121.8,106.4 128.3,106.9 135.0,107.9 C141.7,108.9 148.2,110.0 155.0,111.7 C161.8,113.4 172.5,116.9 176.0,117.9" fill="none" stroke="#0a3a0a" stroke-width="2.5" stroke-linecap="round" stroke-linejoin="round" opacity="1.0"/>
<path d="M94.0,108.8 C97.5,109.2 108.2,110.4 115.0,111.1 C121.8,111.8 128.3,112.3 135.0,113.2 C141.7,114.1 148.2,115.1 155.0,116.6 C161.8,118.1 172.5,121.3 176.0,122.2" fill="none" stroke="#0d460d" stroke-width="2.5" stroke-linecap="round" stroke-linejoin="round" opacity="1.0"/>
<path d="M94.0,114.0 C97.5,114.4 108.2,115.8 115.0,116.5 C121.8,117.2 128.3,117.7 135.0,118.5 C141.7,119.3 148.2,120.2 155.0,121.5 C161.8,122.8 172.5,125.7 176.0,126.5" fill="none" stroke="#0b400b" stroke-width="2.5" stroke-linecap="round" stroke-linejoin="round" opacity="1.0"/>
<path d="M94.0,119.2 C97.5,119.7 108.2,121.1 115.0,121.9 C121.8,122.7 128.3,123.0 135.0,123.8 C141.7,124.5 148.2,125.2 155.0,126.4 C161.8,127.6 172.5,130.1 176.0,130.8" fill="none" stroke="#0c440c" stroke-width="2.5" stroke-linecap="round" stroke-linejoin="round" opacity="1.0"/>
<path d="M94.0,124.4 C97.5,124.9 108.2,126.5 115.0,127.3 C121.8,128.1 128.3,128.4 135.0,129.1 C141.7,129.8 148.2,130.3 155.0,131.3 C161.8,132.3 172.5,134.5 176.0,135.1" fill="none" stroke="#093609" stroke-width="2.5" stroke-linecap="round" stroke-linejoin="round" opacity="1.0"/>
<path d="M94.0,129.6 C97.5,130.1 108.2,131.9 115.0,132.7 C121.8,133.5 128.3,133.8 135.0,134.4 C141.7,135.0 148.2,135.4 155.0,136.2 C161.8,137.0 172.5,138.9 176.0,139.4" fill="none" stroke="#0b400b" stroke-width="2.5" stroke-linecap="round" stroke-linejoin="round" opacity="1.0"/>
<circle cx="136.3" cy="92.4" r="0.61" fill="#1c6c1c" opacity="0.8"/>
<circle cx="115.2" cy="88.7" r="1.23" fill="#1c6c1c" opacity="0.8"/>
<circle cx="174.0" cy="102.3" r="1.05" fill="#186218" opacity="0.8"/>
<circle cx="140.1" cy="92.5" r="1.07" fill="#186218" opacity="0.8"/>
<circle cx="126.2" cy="96.8" r="1.28" fill="#1c6c1c" opacity="0.8"/>
<circle cx="139.3" cy="98.0" r="1.02" fill="#1c6c1c" opacity="0.8"/>
<circle cx="171.9" cy="107.2" r="1.02" fill="#1c6c1c" opacity="0.8"/>
<circle cx="138.2" cy="98.4" r="0.94" fill="#1c6c1c" opacity="0.8"/>
<circle cx="140.6" cy="103.6" r="0.81" fill="#186218" opacity="0.8"/>
<circle cx="157.6" cy="108.6" r="1.01" fill="#186218" opacity="0.8"/>
<circle cx="128.1" cy="101.7" r="0.82" fill="#1c6c1c" opacity="0.8"/>
<circle cx="98.2" cy="98.6" r="1.29" fill="#1c6c1c" opacity="0.8"/>
<circle cx="100.1" cy="104.7" r="0.93" fill="#186218" opacity="0.8"/>
<circle cx="97.8" cy="103.6" r="0.67" fill="#1c6c1c" opacity="0.8"/>
<circle cx="105.9" cy="105.2" r="1.09" fill="#186218" opacity="0.8"/>
<circle cx="145.7" cy="109.8" r="0.92" fill="#186218" opacity="0.8"/>
<circle cx="164.9" cy="119.0" r="0.85" fill="#186218" opacity="0.8"/>
<circle cx="149.1" cy="115.9" r="0.92" fill="#1c6c1c" opacity="0.8"/>
<circle cx="146.9" cy="115.0" r="1.12" fill="#186218" opacity="0.8"/>
<circle cx="172.3" cy="120.7" r="1.11" fill="#186218" opacity="0.8"/>
<circle cx="133.8" cy="117.9" r="0.96" fill="#1c6c1c" opacity="0.8"/>
<circle cx="116.7" cy="116.7" r="1.03" fill="#186218" opacity="0.8"/>
<circle cx="146.2" cy="120.2" r="0.77" fill="#186218" opacity="0.8"/>
<circle cx="166.3" cy="123.8" r="0.63" fill="#186218" opacity="0.8"/>
<circle cx="94.8" cy="119.3" r="0.63" fill="#186218" opacity="0.8"/>
<circle cx="138.6" cy="124.4" r="0.65" fill="#186218" opacity="0.8"/>
<circle cx="168.9" cy="129.5" r="1.29" fill="#1c6c1c" opacity="0.8"/>
<circle cx="133.4" cy="124.0" r="0.75" fill="#1c6c1c" opacity="0.8"/>
<circle cx="134.6" cy="129.9" r="1.16" fill="#1c6c1c" opacity="0.8"/>
<circle cx="160.3" cy="133.2" r="1.04" fill="#186218" opacity="0.8"/>
<circle cx="130.5" cy="128.7" r="0.71" fill="#186218" opacity="0.8"/>
<circle cx="147.8" cy="129.9" r="1.29" fill="#1c6c1c" opacity="0.8"/>
<circle cx="117.8" cy="133.0" r="0.73" fill="#1c6c1c" opacity="0.8"/>
<circle cx="141.7" cy="133.9" r="0.92" fill="#1c6c1c" opacity="0.8"/>
<circle cx="100.3" cy="131.2" r="0.94" fill="#1c6c1c" opacity="0.8"/>
<circle cx="118.4" cy="133.4" r="1.14" fill="#186218" opacity="0.8"/>
</g></g><g filter="url(#bl1)">
<ellipse cx="135.5" cy="119.5" rx="5" ry="1.7" transform="rotate(-8 135.5 119.5)" fill="#46f046"/>
<ellipse cx="127" cy="130.5" rx="4.5" ry="1.5" transform="rotate(-8 127 130.5)" fill="#24a024"/>
<ellipse cx="141" cy="99" rx="1.6" ry="1.2" fill="#1f8a1f"/>
</g></g>
<g clip-path="url(#cA4)"><path d="M140,84 L176,84 L176,104 C165,97 152,91 140,86 Z" fill="#000" filter="url(#bl1)"/>
<path d="M94,128 C104,134 112,139 122,142 L94,144 Z" fill="#000" filter="url(#bl1)"/></g>
<rect x="95.1" y="25" width="1.2" height="118" fill="#d2d2d2"/>
<rect x="17" y="83.1" width="157" height="1.4" fill="#d2d2d2"/>
<rect x="160.9" y="139.3" width="10.5" height="1.4" fill="#c4c4c4"/></g>
<g id="micro_d"><rect x="17" y="205.2" width="155.4" height="115.8" fill="#120f02"/>
<g clip-path="url(#cD1)">
<path d="M14,219 C35,218 60,217 97,213 L97,244 C80,245 68,246 58,251 C45,257 30,259 14,260 Z" fill="#3a300a" filter="url(#bl3)"/>
<ellipse cx="45" cy="228" rx="9" ry="7" fill="#8a5a14" opacity="0.8" filter="url(#bl3)"/>
<ellipse cx="80" cy="230" rx="15" ry="10" fill="#8a6a14" opacity="0.85" filter="url(#bl3)"/>
<ellipse cx="32" cy="249" rx="14" ry="6" fill="#3a6a14" opacity="0.9" filter="url(#bl2)"/>
<ellipse cx="56" cy="238" rx="7" ry="7" fill="#7a7414" opacity="0.8" filter="url(#bl2)"/>
<ellipse cx="28" cy="235" rx="9" ry="5" fill="#2a3a0c" opacity="0.8" filter="url(#bl2)"/>
<g filter="url(#bl2)" opacity="0.55">
<circle cx="19.1" cy="226.5" r="1.02" fill="#d0c020" opacity="0.76"/>
<circle cx="23.6" cy="223.0" r="1.22" fill="#e8e040" opacity="0.71"/>
<circle cx="23.3" cy="223.2" r="0.68" fill="#a08812" opacity="0.79"/>
<circle cx="25.1" cy="223.6" r="1.16" fill="#d0c020" opacity="0.74"/>
<circle cx="23.3" cy="224.1" r="0.66" fill="#d8b818" opacity="0.58"/>
<circle cx="22.8" cy="224.5" r="1.16" fill="#d8b818" opacity="0.87"/>
<circle cx="21.4" cy="226.0" r="0.99" fill="#c8b010" opacity="0.60"/>
<circle cx="20.5" cy="226.1" r="1.17" fill="#e8e040" opacity="0.77"/>
<circle cx="21.4" cy="224.4" r="1.28" fill="#b09a14" opacity="0.59"/>
<circle cx="21.5" cy="225.7" r="0.66" fill="#d8c818" opacity="0.67"/>
<circle cx="17.1" cy="222.9" r="0.62" fill="#c8b010" opacity="0.61"/>
<circle cx="24.2" cy="223.5" r="1.10" fill="#a08812" opacity="0.86"/>
<circle cx="21.2" cy="225.6" r="0.88" fill="#d8b818" opacity="0.88"/>
<circle cx="19.3" cy="221.8" r="0.94" fill="#d8c818" opacity="0.84"/>
<circle cx="25.1" cy="223.5" r="1.18" fill="#d8b818" opacity="0.89"/>
<circle cx="24.1" cy="226.0" r="1.22" fill="#c0a818" opacity="0.81"/>
<circle cx="47.2" cy="223.4" r="1.08" fill="#b09a14" opacity="0.92"/>
<circle cx="51.2" cy="221.4" r="0.70" fill="#b09a14" opacity="0.83"/>
<circle cx="45.2" cy="222.0" r="0.92" fill="#d0c020" opacity="0.94"/>
<circle cx="42.6" cy="221.7" r="0.67" fill="#c8b010" opacity="0.86"/>
<circle cx="46.6" cy="222.9" r="1.15" fill="#e0d020" opacity="0.69"/>
<circle cx="44.0" cy="221.9" r="0.95" fill="#a08812" opacity="0.80"/>
<circle cx="44.2" cy="221.1" r="0.77" fill="#c8b010" opacity="0.92"/>
<circle cx="51.4" cy="223.1" r="1.17" fill="#c0a818" opacity="0.75"/>
<circle cx="44.6" cy="224.2" r="1.15" fill="#d8b818" opacity="0.82"/>
<circle cx="49.7" cy="220.7" r="1.12" fill="#b09a14" opacity="0.59"/>
<circle cx="76.8" cy="230.5" r="1.06" fill="#d0c020" opacity="0.87"/>
<circle cx="91.3" cy="229.1" r="0.82" fill="#b09a14" opacity="0.80"/>
<circle cx="70.4" cy="223.8" r="0.89" fill="#d0c020" opacity="0.92"/>
<circle cx="88.7" cy="223.4" r="1.27" fill="#e8e040" opacity="0.67"/>
<circle cx="81.0" cy="223.7" r="1.29" fill="#e0d020" opacity="0.65"/>
<circle cx="69.6" cy="227.3" r="1.15" fill="#c0a818" opacity="0.61"/>
<circle cx="79.4" cy="229.4" r="1.46" fill="#e8e040" opacity="0.78"/>
<circle cx="80.2" cy="221.3" r="0.77" fill="#e8e040" opacity="0.92"/>
<circle cx="71.8" cy="230.8" r="1.07" fill="#c8b010" opacity="0.93"/>
<circle cx="93.0" cy="226.7" r="0.96" fill="#c0a818" opacity="0.69"/>
<circle cx="79.1" cy="233.9" r="0.92" fill="#f0e848" opacity="0.62"/>
<circle cx="84.7" cy="233.2" r="1.27" fill="#d8c818" opacity="0.82"/>
<circle cx="85.9" cy="225.3" r="1.11" fill="#a08812" opacity="0.86"/>
<circle cx="90.0" cy="236.2" r="1.25" fill="#e8e040" opacity="0.63"/>
<circle cx="83.6" cy="237.9" r="1.27" fill="#d8b818" opacity="0.86"/>
<circle cx="81.6" cy="222.6" r="0.77" fill="#b09a14" opacity="0.85"/>
<circle cx="75.2" cy="238.0" r="1.11" fill="#f0e848" opacity="0.70"/>
<circle cx="85.0" cy="233.7" r="0.76" fill="#b09a14" opacity="0.58"/>
<circle cx="79.0" cy="233.7" r="0.69" fill="#e0d020" opacity="0.63"/>
<circle cx="69.5" cy="228.3" r="0.67" fill="#b09a14" opacity="0.92"/>
<circle cx="69.9" cy="224.7" r="0.73" fill="#b09a14" opacity="0.75"/>
<circle cx="91.8" cy="232.2" r="1.25" fill="#e8e040" opacity="0.84"/>
<circle cx="84.5" cy="232.0" r="0.62" fill="#d8b818" opacity="0.64"/>
<circle cx="74.6" cy="228.9" r="1.10" fill="#e8e040" opacity="0.76"/>
<circle cx="88.1" cy="235.9" r="1.15" fill="#c8b010" opacity="0.67"/>
<circle cx="81.1" cy="226.4" r="0.81" fill="#e8e040" opacity="0.76"/>
<circle cx="70.0" cy="233.8" r="1.49" fill="#c0a818" opacity="0.95"/>
<circle cx="85.8" cy="237.8" r="1.11" fill="#e0d020" opacity="0.81"/>
<circle cx="72.8" cy="231.4" r="1.23" fill="#d8b818" opacity="0.60"/>
<circle cx="90.4" cy="225.8" r="1.39" fill="#a08812" opacity="0.94"/>
<circle cx="81.2" cy="231.1" r="1.10" fill="#d0c020" opacity="0.63"/>
<circle cx="86.9" cy="237.1" r="0.90" fill="#c8b010" opacity="0.62"/>
<circle cx="89.1" cy="226.2" r="1.41" fill="#e8e040" opacity="0.86"/>
<circle cx="76.2" cy="224.0" r="1.14" fill="#d8c818" opacity="0.74"/>
<circle cx="77.3" cy="235.1" r="1.44" fill="#f0e848" opacity="0.62"/>
<circle cx="87.2" cy="236.3" r="1.42" fill="#e8e040" opacity="0.79"/>
<circle cx="71.6" cy="229.4" r="0.73" fill="#b09a14" opacity="0.61"/>
<circle cx="77.4" cy="227.1" r="0.72" fill="#e8e040" opacity="0.79"/>
<circle cx="75.3" cy="232.6" r="0.63" fill="#f0e848" opacity="0.87"/>
<circle cx="77.3" cy="230.0" r="0.69" fill="#d8b818" opacity="0.73"/>
<circle cx="83.5" cy="233.4" r="1.28" fill="#d0c020" opacity="0.75"/>
<circle cx="89.9" cy="228.4" r="0.99" fill="#e8e040" opacity="0.61"/>
<circle cx="92.3" cy="226.9" r="1.07" fill="#b09a14" opacity="0.91"/>
<circle cx="75.0" cy="222.0" r="1.25" fill="#b09a14" opacity="0.85"/>
<circle cx="82.7" cy="234.5" r="0.87" fill="#e8e040" opacity="0.90"/>
<circle cx="72.8" cy="236.2" r="0.82" fill="#b09a14" opacity="0.94"/>
<circle cx="79.3" cy="222.9" r="1.42" fill="#c0a818" opacity="0.69"/>
<circle cx="77.1" cy="225.2" r="0.66" fill="#f0e848" opacity="0.71"/>
<circle cx="81.3" cy="231.2" r="0.75" fill="#f0e848" opacity="0.85"/>
<circle cx="81.9" cy="237.3" r="0.69" fill="#c8b010" opacity="0.62"/>
<circle cx="81.1" cy="238.1" r="0.60" fill="#e8e040" opacity="0.85"/>
<circle cx="78.3" cy="229.1" r="1.08" fill="#c8b010" opacity="0.71"/>
<circle cx="82.4" cy="221.8" r="0.63" fill="#d8b818" opacity="0.69"/>
<circle cx="80.0" cy="237.8" r="1.48" fill="#a08812" opacity="0.90"/>
<circle cx="71.7" cy="236.5" r="1.22" fill="#e0d020" opacity="0.64"/>
<circle cx="89.5" cy="227.4" r="1.03" fill="#c8b010" opacity="0.81"/>
<circle cx="85.5" cy="231.1" r="1.08" fill="#e8e040" opacity="0.64"/>
<circle cx="69.0" cy="234.1" r="0.88" fill="#d0c020" opacity="0.90"/>
<circle cx="86.0" cy="223.4" r="1.23" fill="#a08812" opacity="0.73"/>
<circle cx="70.7" cy="236.5" r="0.71" fill="#e8e040" opacity="0.67"/>
<circle cx="86.2" cy="230.0" r="0.87" fill="#d0c020" opacity="0.71"/>
<circle cx="84.5" cy="236.9" r="1.13" fill="#e8e040" opacity="0.94"/>
<circle cx="72.3" cy="223.4" r="1.20" fill="#a08812" opacity="0.94"/>
<circle cx="78.3" cy="230.5" r="1.08" fill="#e0d020" opacity="0.57"/>
<circle cx="82.4" cy="230.7" r="0.98" fill="#e8e040" opacity="0.60"/>
<circle cx="74.0" cy="234.6" r="0.82" fill="#d0c020" opacity="0.85"/>
<circle cx="83.4" cy="237.5" r="1.13" fill="#e0d020" opacity="0.92"/>
<circle cx="80.0" cy="224.2" r="1.10" fill="#f0e848" opacity="0.92"/>
<circle cx="75.0" cy="229.7" r="0.63" fill="#d0c020" opacity="0.76"/>
<circle cx="89.7" cy="233.3" r="1.07" fill="#c0a818" opacity="0.64"/>
<circle cx="87.8" cy="224.0" r="1.15" fill="#e8e040" opacity="0.82"/>
<circle cx="81.3" cy="225.6" r="1.24" fill="#e8e040" opacity="0.67"/>
<circle cx="81.2" cy="236.3" r="1.14" fill="#d0c020" opacity="0.58"/>
<circle cx="82.7" cy="233.9" r="1.12" fill="#c8b010" opacity="0.69"/>
<circle cx="83.0" cy="232.0" r="1.33" fill="#c0a818" opacity="0.74"/>
<circle cx="73.4" cy="235.4" r="0.67" fill="#c8b010" opacity="0.79"/>
<circle cx="81.2" cy="235.2" r="0.81" fill="#c8b010" opacity="0.59"/>
<circle cx="77.9" cy="233.5" r="1.34" fill="#c0a818" opacity="0.87"/>
<circle cx="87.4" cy="230.0" r="1.19" fill="#c0a818" opacity="0.64"/>
<circle cx="73.1" cy="223.9" r="1.22" fill="#e8e040" opacity="0.87"/>
<circle cx="50.3" cy="235.7" r="0.93" fill="#e8e040" opacity="0.84"/>
<circle cx="59.3" cy="238.4" r="0.72" fill="#a08812" opacity="0.77"/>
<circle cx="54.8" cy="237.4" r="0.68" fill="#c0a818" opacity="0.68"/>
<circle cx="55.0" cy="231.1" r="0.63" fill="#e8e040" opacity="0.66"/>
<circle cx="52.8" cy="237.7" r="0.82" fill="#a08812" opacity="0.60"/>
<circle cx="52.5" cy="234.3" r="1.45" fill="#e8e040" opacity="0.65"/>
<circle cx="51.6" cy="238.2" r="1.50" fill="#d8b818" opacity="0.79"/>
<circle cx="52.3" cy="235.3" r="0.64" fill="#b09a14" opacity="0.70"/>
<circle cx="51.9" cy="237.7" r="0.75" fill="#e8e040" opacity="0.72"/>
<circle cx="57.2" cy="240.6" r="1.03" fill="#a08812" opacity="0.95"/>
<circle cx="58.3" cy="242.1" r="0.78" fill="#b09a14" opacity="0.73"/>
<circle cx="61.8" cy="238.7" r="1.07" fill="#d0c020" opacity="0.76"/>
<circle cx="56.9" cy="239.1" r="0.80" fill="#d8c818" opacity="0.71"/>
<circle cx="54.2" cy="240.7" r="1.25" fill="#d8c818" opacity="0.58"/>
<circle cx="53.7" cy="235.4" r="0.67" fill="#b09a14" opacity="0.69"/>
<circle cx="59.5" cy="237.3" r="0.65" fill="#b09a14" opacity="0.80"/>
<circle cx="55.8" cy="232.6" r="1.06" fill="#c8b010" opacity="0.58"/>
<circle cx="53.6" cy="235.9" r="1.09" fill="#c8b010" opacity="0.77"/>
<circle cx="56.6" cy="234.4" r="1.01" fill="#b09a14" opacity="0.63"/>
<circle cx="52.2" cy="233.9" r="1.24" fill="#b09a14" opacity="0.62"/>
<circle cx="56.2" cy="235.0" r="0.69" fill="#d8b818" opacity="0.70"/>
<circle cx="49.8" cy="238.8" r="1.11" fill="#d0c020" opacity="0.82"/>
<circle cx="56.8" cy="234.9" r="0.71" fill="#d8b818" opacity="0.66"/>
<circle cx="57.7" cy="231.3" r="0.98" fill="#b09a14" opacity="0.76"/>
<circle cx="55.9" cy="243.0" r="0.86" fill="#d0c020" opacity="0.65"/>
<circle cx="59.5" cy="234.9" r="1.24" fill="#c0a818" opacity="0.61"/>
<circle cx="53.9" cy="235.9" r="0.74" fill="#e8e040" opacity="0.67"/>
<circle cx="60.6" cy="234.3" r="1.42" fill="#b09a14" opacity="0.62"/>
<circle cx="53.0" cy="235.3" r="1.36" fill="#d0c020" opacity="0.75"/>
<circle cx="53.7" cy="233.5" r="0.62" fill="#d8b818" opacity="0.69"/>
<circle cx="54.4" cy="234.2" r="1.33" fill="#c8b010" opacity="0.81"/>
<circle cx="54.5" cy="234.8" r="1.41" fill="#e0d020" opacity="0.79"/>
<circle cx="57.7" cy="238.7" r="0.97" fill="#b09a14" opacity="0.59"/>
<circle cx="50.4" cy="236.5" r="1.00" fill="#b09a14" opacity="0.58"/>
<circle cx="24.6" cy="249.1" r="0.85" fill="#d8b818" opacity="0.75"/>
<circle cx="20.7" cy="250.2" r="0.82" fill="#d0c020" opacity="0.83"/>
<circle cx="38.5" cy="247.8" r="0.79" fill="#a08812" opacity="0.89"/>
<circle cx="46.0" cy="244.4" r="1.26" fill="#b0c818" opacity="0.94"/>
<circle cx="31.3" cy="247.3" r="1.31" fill="#d8b818" opacity="0.88"/>
<circle cx="27.1" cy="247.9" r="0.73" fill="#e8e040" opacity="0.88"/>
<circle cx="25.4" cy="250.3" r="0.99" fill="#70b020" opacity="0.68"/>
<circle cx="34.1" cy="247.5" r="1.13" fill="#a08812" opacity="0.66"/>
<circle cx="28.5" cy="247.1" r="0.74" fill="#c0a818" opacity="0.85"/>
<circle cx="47.8" cy="253.2" r="0.85" fill="#a08812" opacity="0.76"/>
<circle cx="43.1" cy="243.9" r="1.10" fill="#b09a14" opacity="0.90"/>
<circle cx="37.3" cy="252.3" r="0.91" fill="#b0c818" opacity="0.81"/>
<circle cx="32.5" cy="251.0" r="0.75" fill="#e8e040" opacity="0.89"/>
<circle cx="48.2" cy="249.7" r="0.94" fill="#b0c818" opacity="0.62"/>
<circle cx="45.2" cy="246.5" r="0.73" fill="#e8e040" opacity="0.71"/>
<circle cx="42.8" cy="246.0" r="0.75" fill="#e0d020" opacity="0.75"/>
<circle cx="43.6" cy="252.2" r="1.34" fill="#d0c020" opacity="0.83"/>
<circle cx="34.3" cy="250.4" r="0.92" fill="#90c020" opacity="0.95"/>
<circle cx="21.7" cy="251.3" r="0.69" fill="#e0d020" opacity="0.64"/>
<circle cx="32.1" cy="249.4" r="1.24" fill="#b09a14" opacity="0.70"/>
<circle cx="20.9" cy="249.5" r="0.99" fill="#d8b818" opacity="0.60"/>
<circle cx="34.9" cy="253.1" r="1.12" fill="#e8e040" opacity="0.72"/>
<circle cx="41.0" cy="251.9" r="1.38" fill="#b09a14" opacity="0.83"/>
<circle cx="27.4" cy="246.6" r="1.29" fill="#a08812" opacity="0.64"/>
<circle cx="28.5" cy="248.9" r="0.70" fill="#d8b818" opacity="0.91"/>
<circle cx="29.2" cy="249.8" r="0.82" fill="#b09a14" opacity="0.67"/>
<circle cx="27.7" cy="248.8" r="0.89" fill="#d0c020" opacity="0.78"/>
<circle cx="45.9" cy="250.9" r="0.60" fill="#d8b818" opacity="0.75"/>
<circle cx="49.5" cy="248.8" r="0.93" fill="#c0a818" opacity="0.72"/>
<circle cx="22.0" cy="249.6" r="1.13" fill="#70b020" opacity="0.67"/>
<circle cx="26.4" cy="246.7" r="0.80" fill="#a08812" opacity="0.79"/>
<circle cx="38.3" cy="250.9" r="0.82" fill="#e0d020" opacity="0.86"/>
<circle cx="30.5" cy="249.2" r="0.61" fill="#e8e040" opacity="0.59"/>
<circle cx="32.4" cy="251.9" r="0.81" fill="#e8e040" opacity="0.87"/>
<circle cx="45.0" cy="247.9" r="1.24" fill="#90c020" opacity="0.86"/>
<circle cx="52.3" cy="247.9" r="1.16" fill="#d0c020" opacity="0.91"/>
<circle cx="24.8" cy="247.1" r="1.18" fill="#c0a818" opacity="0.82"/>
<circle cx="47.6" cy="247.5" r="1.11" fill="#d8b818" opacity="0.69"/>
<circle cx="22.3" cy="250.7" r="1.08" fill="#d0c020" opacity="0.70"/>
<circle cx="45.2" cy="245.8" r="1.19" fill="#c0a818" opacity="0.69"/>
<circle cx="27.0" cy="247.3" r="0.72" fill="#d8b818" opacity="0.70"/>
<circle cx="34.6" cy="243.6" r="1.00" fill="#b09a14" opacity="0.61"/>
<circle cx="40.0" cy="249.9" r="0.86" fill="#a08812" opacity="0.94"/>
<circle cx="27.5" cy="248.0" r="1.16" fill="#c8b010" opacity="0.88"/>
<circle cx="22.4" cy="247.8" r="1.34" fill="#c8b010" opacity="0.87"/>
<circle cx="37.9" cy="243.6" r="1.18" fill="#90c020" opacity="0.71"/>
<circle cx="41.9" cy="245.8" r="1.09" fill="#a08812" opacity="0.90"/>
<circle cx="41.4" cy="249.1" r="1.05" fill="#d8c818" opacity="0.62"/>
<circle cx="45.1" cy="251.7" r="0.95" fill="#a08812" opacity="0.73"/>
<circle cx="33.1" cy="246.0" r="1.08" fill="#70b020" opacity="0.59"/>
<circle cx="51.3" cy="249.3" r="0.96" fill="#d0c020" opacity="0.80"/>
<circle cx="40.2" cy="253.7" r="0.72" fill="#a08812" opacity="0.69"/>
<circle cx="28.7" cy="250.4" r="0.75" fill="#a08812" opacity="0.95"/>
<circle cx="33.7" cy="253.0" r="0.70" fill="#a08812" opacity="0.61"/>
<circle cx="46.9" cy="245.1" r="0.69" fill="#d8c818" opacity="0.76"/>
<circle cx="49.6" cy="251.3" r="0.80" fill="#d8b818" opacity="0.74"/>
<circle cx="38.2" cy="253.0" r="0.76" fill="#d0c020" opacity="0.94"/>
<circle cx="28.1" cy="244.7" r="0.95" fill="#a08812" opacity="0.90"/>
<circle cx="22.5" cy="249.0" r="0.64" fill="#c0a818" opacity="0.94"/>
<circle cx="47.6" cy="245.5" r="0.87" fill="#d8b818" opacity="0.93"/>
<circle cx="36.6" cy="228.3" r="0.85" fill="#b08018" opacity="0.58"/>
<circle cx="42.2" cy="229.7" r="0.89" fill="#a07010" opacity="0.95"/>
<circle cx="36.5" cy="231.0" r="1.13" fill="#a07010" opacity="0.78"/>
<circle cx="43.8" cy="231.6" r="1.11" fill="#b08018" opacity="0.82"/>
<circle cx="36.5" cy="227.7" r="1.06" fill="#a07010" opacity="0.83"/>
<circle cx="39.6" cy="227.0" r="0.67" fill="#b08018" opacity="0.80"/>
<circle cx="38.3" cy="227.6" r="1.20" fill="#a07010" opacity="0.85"/>
<circle cx="38.3" cy="228.5" r="0.84" fill="#a07010" opacity="0.60"/>
<circle cx="36.7" cy="230.1" r="0.70" fill="#c8b010" opacity="0.95"/>
<circle cx="57.2" cy="241.1" r="1.16" fill="#d8b818" opacity="0.95"/>
<circle cx="56.2" cy="227.2" r="0.58" fill="#d8c818" opacity="0.95"/>
<circle cx="85.5" cy="235.1" r="0.70" fill="#d8c818" opacity="0.95"/>
<circle cx="68.0" cy="217.2" r="0.77" fill="#b09a14" opacity="0.95"/>
<circle cx="64.3" cy="238.0" r="0.81" fill="#d8c818" opacity="0.95"/>
<circle cx="44.9" cy="231.1" r="0.96" fill="#d0c020" opacity="0.95"/>
<circle cx="41.0" cy="244.5" r="0.99" fill="#907010" opacity="0.95"/>
<circle cx="65.3" cy="240.1" r="0.92" fill="#d0c020" opacity="0.95"/>
<circle cx="47.3" cy="236.1" r="0.69" fill="#d8c818" opacity="0.95"/>
<circle cx="81.6" cy="237.0" r="0.88" fill="#d8c818" opacity="0.95"/>
<circle cx="51.4" cy="227.2" r="0.65" fill="#d8b818" opacity="0.95"/>
<circle cx="19.6" cy="248.9" r="0.99" fill="#e0d020" opacity="0.95"/>
<circle cx="69.2" cy="234.6" r="0.61" fill="#d8c818" opacity="0.95"/>
<circle cx="44.2" cy="229.9" r="0.97" fill="#a08010" opacity="0.95"/>
<circle cx="21.9" cy="240.6" r="0.66" fill="#e0d020" opacity="0.95"/>
<circle cx="93.3" cy="219.7" r="0.95" fill="#d8c818" opacity="0.95"/>
<circle cx="95.7" cy="238.0" r="0.55" fill="#a08812" opacity="0.95"/>
<circle cx="68.6" cy="237.0" r="0.86" fill="#a08010" opacity="0.95"/>
<circle cx="30.9" cy="222.0" r="0.76" fill="#c8b010" opacity="0.95"/>
<circle cx="58.3" cy="244.4" r="0.50" fill="#907010" opacity="0.95"/>
<circle cx="72.0" cy="239.7" r="1.05" fill="#d0c020" opacity="0.95"/>
<circle cx="69.5" cy="240.7" r="1.12" fill="#b09a14" opacity="0.95"/>
<circle cx="53.3" cy="233.1" r="0.51" fill="#d8b818" opacity="0.95"/>
<circle cx="90.8" cy="231.7" r="0.75" fill="#c0a818" opacity="0.95"/>
<circle cx="60.6" cy="232.9" r="1.18" fill="#d8c818" opacity="0.95"/>
<circle cx="39.9" cy="232.9" r="0.90" fill="#c8b010" opacity="0.95"/>
<circle cx="68.6" cy="232.8" r="0.86" fill="#d0c020" opacity="0.95"/>
<circle cx="40.0" cy="237.4" r="0.79" fill="#e0d020" opacity="0.95"/>
<circle cx="93.6" cy="224.9" r="0.91" fill="#c8b010" opacity="0.95"/>
<circle cx="59.0" cy="220.7" r="0.57" fill="#c0a818" opacity="0.95"/>
<circle cx="29.6" cy="241.6" r="1.18" fill="#c0a818" opacity="0.95"/>
<circle cx="28.5" cy="224.8" r="1.00" fill="#d8c818" opacity="0.95"/>
<circle cx="47.3" cy="223.1" r="0.51" fill="#c8b010" opacity="0.95"/>
<circle cx="80.1" cy="240.5" r="0.76" fill="#d0c020" opacity="0.95"/>
<circle cx="59.1" cy="241.3" r="0.52" fill="#d8c818" opacity="0.95"/>
<circle cx="56.2" cy="241.8" r="1.03" fill="#e0d020" opacity="0.95"/>
<circle cx="46.6" cy="230.9" r="0.71" fill="#e8e040" opacity="0.95"/>
<circle cx="39.1" cy="248.8" r="0.73" fill="#a08812" opacity="0.95"/>
<circle cx="34.4" cy="247.6" r="1.20" fill="#c0a818" opacity="0.95"/>
<circle cx="90.0" cy="223.0" r="1.13" fill="#b09a14" opacity="0.95"/>
<circle cx="65.4" cy="229.9" r="0.69" fill="#a08010" opacity="0.95"/>
<circle cx="36.3" cy="232.0" r="0.83" fill="#d8b818" opacity="0.95"/>
<circle cx="68.1" cy="238.5" r="0.73" fill="#d8c818" opacity="0.95"/>
<circle cx="21.0" cy="240.7" r="0.87" fill="#c0a818" opacity="0.95"/>
<circle cx="41.8" cy="234.1" r="1.07" fill="#907010" opacity="0.95"/>
<circle cx="24.1" cy="234.7" r="0.84" fill="#e8e040" opacity="0.95"/>
<circle cx="58.0" cy="238.5" r="0.87" fill="#e0d020" opacity="0.95"/>
<circle cx="45.6" cy="232.9" r="0.98" fill="#d8b818" opacity="0.95"/>
<circle cx="91.7" cy="228.5" r="0.76" fill="#a08010" opacity="0.95"/>
<circle cx="71.3" cy="235.2" r="1.03" fill="#e0d020" opacity="0.95"/>
<circle cx="40.9" cy="232.3" r="0.85" fill="#c0a818" opacity="0.95"/>
<circle cx="75.3" cy="224.4" r="0.65" fill="#a08010" opacity="0.95"/>
<circle cx="39.7" cy="248.1" r="1.06" fill="#b09a14" opacity="0.95"/>
<circle cx="67.2" cy="231.0" r="0.90" fill="#d8c818" opacity="0.95"/>
<circle cx="24.0" cy="241.1" r="1.19" fill="#d0c020" opacity="0.95"/>
<circle cx="41.7" cy="230.9" r="1.05" fill="#907010" opacity="0.95"/>
<circle cx="40.7" cy="248.3" r="1.20" fill="#a08812" opacity="0.95"/>
<circle cx="19.8" cy="233.2" r="1.15" fill="#907010" opacity="0.95"/>
<circle cx="72.2" cy="226.2" r="0.93" fill="#907010" opacity="0.95"/>
<circle cx="68.5" cy="229.0" r="0.60" fill="#a08812" opacity="0.73"/>
<circle cx="68.8" cy="227.3" r="1.13" fill="#b09a14" opacity="0.86"/>
<circle cx="67.8" cy="231.6" r="0.91" fill="#d8c818" opacity="0.89"/>
<circle cx="70.6" cy="226.3" r="1.18" fill="#d8c818" opacity="0.84"/>
<circle cx="65.0" cy="230.3" r="1.06" fill="#d8c818" opacity="0.92"/>
<circle cx="63.1" cy="227.0" r="0.98" fill="#d8c818" opacity="0.63"/>
<circle cx="63.7" cy="226.9" r="1.23" fill="#b09a14" opacity="0.65"/>
<circle cx="68.0" cy="227.9" r="0.91" fill="#b09a14" opacity="0.76"/>
<circle cx="65.8" cy="228.6" r="1.20" fill="#d8b818" opacity="0.65"/>
<circle cx="64.5" cy="224.0" r="0.84" fill="#c0a818" opacity="0.83"/>
<circle cx="65.5" cy="229.1" r="0.92" fill="#c8b010" opacity="0.75"/>
<circle cx="68.0" cy="224.8" r="0.78" fill="#b09a14" opacity="0.79"/>
<circle cx="63.6" cy="222.8" r="1.18" fill="#b09a14" opacity="0.66"/>
<circle cx="63.1" cy="232.9" r="0.65" fill="#c8b010" opacity="0.94"/>
</g>
<g filter="url(#bl08)">
<circle cx="19.1" cy="226.5" r="1.02" fill="#d0c020" opacity="0.76"/>
<circle cx="23.6" cy="223.0" r="1.22" fill="#e8e040" opacity="0.71"/>
<circle cx="23.3" cy="223.2" r="0.68" fill="#a08812" opacity="0.79"/>
<circle cx="25.1" cy="223.6" r="1.16" fill="#d0c020" opacity="0.74"/>
<circle cx="23.3" cy="224.1" r="0.66" fill="#d8b818" opacity="0.58"/>
<circle cx="22.8" cy="224.5" r="1.16" fill="#d8b818" opacity="0.87"/>
<circle cx="21.4" cy="226.0" r="0.99" fill="#c8b010" opacity="0.60"/>
<circle cx="20.5" cy="226.1" r="1.17" fill="#e8e040" opacity="0.77"/>
<circle cx="21.4" cy="224.4" r="1.28" fill="#b09a14" opacity="0.59"/>
<circle cx="21.5" cy="225.7" r="0.66" fill="#d8c818" opacity="0.67"/>
<circle cx="17.1" cy="222.9" r="0.62" fill="#c8b010" opacity="0.61"/>
<circle cx="24.2" cy="223.5" r="1.10" fill="#a08812" opacity="0.86"/>
<circle cx="21.2" cy="225.6" r="0.88" fill="#d8b818" opacity="0.88"/>
<circle cx="19.3" cy="221.8" r="0.94" fill="#d8c818" opacity="0.84"/>
<circle cx="25.1" cy="223.5" r="1.18" fill="#d8b818" opacity="0.89"/>
<circle cx="24.1" cy="226.0" r="1.22" fill="#c0a818" opacity="0.81"/>
<circle cx="47.2" cy="223.4" r="1.08" fill="#b09a14" opacity="0.92"/>
<circle cx="51.2" cy="221.4" r="0.70" fill="#b09a14" opacity="0.83"/>
<circle cx="45.2" cy="222.0" r="0.92" fill="#d0c020" opacity="0.94"/>
<circle cx="42.6" cy="221.7" r="0.67" fill="#c8b010" opacity="0.86"/>
<circle cx="46.6" cy="222.9" r="1.15" fill="#e0d020" opacity="0.69"/>
<circle cx="44.0" cy="221.9" r="0.95" fill="#a08812" opacity="0.80"/>
<circle cx="44.2" cy="221.1" r="0.77" fill="#c8b010" opacity="0.92"/>
<circle cx="51.4" cy="223.1" r="1.17" fill="#c0a818" opacity="0.75"/>
<circle cx="44.6" cy="224.2" r="1.15" fill="#d8b818" opacity="0.82"/>
<circle cx="49.7" cy="220.7" r="1.12" fill="#b09a14" opacity="0.59"/>
<circle cx="76.8" cy="230.5" r="1.06" fill="#d0c020" opacity="0.87"/>
<circle cx="91.3" cy="229.1" r="0.82" fill="#b09a14" opacity="0.80"/>
<circle cx="70.4" cy="223.8" r="0.89" fill="#d0c020" opacity="0.92"/>
<circle cx="88.7" cy="223.4" r="1.27" fill="#e8e040" opacity="0.67"/>
<circle cx="81.0" cy="223.7" r="1.29" fill="#e0d020" opacity="0.65"/>
<circle cx="69.6" cy="227.3" r="1.15" fill="#c0a818" opacity="0.61"/>
<circle cx="79.4" cy="229.4" r="1.46" fill="#e8e040" opacity="0.78"/>
<circle cx="80.2" cy="221.3" r="0.77" fill="#e8e040" opacity="0.92"/>
<circle cx="71.8" cy="230.8" r="1.07" fill="#c8b010" opacity="0.93"/>
<circle cx="93.0" cy="226.7" r="0.96" fill="#c0a818" opacity="0.69"/>
<circle cx="79.1" cy="233.9" r="0.92" fill="#f0e848" opacity="0.62"/>
<circle cx="84.7" cy="233.2" r="1.27" fill="#d8c818" opacity="0.82"/>
<circle cx="85.9" cy="225.3" r="1.11" fill="#a08812" opacity="0.86"/>
<circle cx="90.0" cy="236.2" r="1.25" fill="#e8e040" opacity="0.63"/>
<circle cx="83.6" cy="237.9" r="1.27" fill="#d8b818" opacity="0.86"/>
<circle cx="81.6" cy="222.6" r="0.77" fill="#b09a14" opacity="0.85"/>
<circle cx="75.2" cy="238.0" r="1.11" fill="#f0e848" opacity="0.70"/>
<circle cx="85.0" cy="233.7" r="0.76" fill="#b09a14" opacity="0.58"/>
<circle cx="79.0" cy="233.7" r="0.69" fill="#e0d020" opacity="0.63"/>
<circle cx="69.5" cy="228.3" r="0.67" fill="#b09a14" opacity="0.92"/>
<circle cx="69.9" cy="224.7" r="0.73" fill="#b09a14" opacity="0.75"/>
<circle cx="91.8" cy="232.2" r="1.25" fill="#e8e040" opacity="0.84"/>
<circle cx="84.5" cy="232.0" r="0.62" fill="#d8b818" opacity="0.64"/>
<circle cx="74.6" cy="228.9" r="1.10" fill="#e8e040" opacity="0.76"/>
<circle cx="88.1" cy="235.9" r="1.15" fill="#c8b010" opacity="0.67"/>
<circle cx="81.1" cy="226.4" r="0.81" fill="#e8e040" opacity="0.76"/>
<circle cx="70.0" cy="233.8" r="1.49" fill="#c0a818" opacity="0.95"/>
<circle cx="85.8" cy="237.8" r="1.11" fill="#e0d020" opacity="0.81"/>
<circle cx="72.8" cy="231.4" r="1.23" fill="#d8b818" opacity="0.60"/>
<circle cx="90.4" cy="225.8" r="1.39" fill="#a08812" opacity="0.94"/>
<circle cx="81.2" cy="231.1" r="1.10" fill="#d0c020" opacity="0.63"/>
<circle cx="86.9" cy="237.1" r="0.90" fill="#c8b010" opacity="0.62"/>
<circle cx="89.1" cy="226.2" r="1.41" fill="#e8e040" opacity="0.86"/>
<circle cx="76.2" cy="224.0" r="1.14" fill="#d8c818" opacity="0.74"/>
<circle cx="77.3" cy="235.1" r="1.44" fill="#f0e848" opacity="0.62"/>
<circle cx="87.2" cy="236.3" r="1.42" fill="#e8e040" opacity="0.79"/>
<circle cx="71.6" cy="229.4" r="0.73" fill="#b09a14" opacity="0.61"/>
<circle cx="77.4" cy="227.1" r="0.72" fill="#e8e040" opacity="0.79"/>
<circle cx="75.3" cy="232.6" r="0.63" fill="#f0e848" opacity="0.87"/>
<circle cx="77.3" cy="230.0" r="0.69" fill="#d8b818" opacity="0.73"/>
<circle cx="83.5" cy="233.4" r="1.28" fill="#d0c020" opacity="0.75"/>
<circle cx="89.9" cy="228.4" r="0.99" fill="#e8e040" opacity="0.61"/>
<circle cx="92.3" cy="226.9" r="1.07" fill="#b09a14" opacity="0.91"/>
<circle cx="75.0" cy="222.0" r="1.25" fill="#b09a14" opacity="0.85"/>
<circle cx="82.7" cy="234.5" r="0.87" fill="#e8e040" opacity="0.90"/>
<circle cx="72.8" cy="236.2" r="0.82" fill="#b09a14" opacity="0.94"/>
<circle cx="79.3" cy="222.9" r="1.42" fill="#c0a818" opacity="0.69"/>
<circle cx="77.1" cy="225.2" r="0.66" fill="#f0e848" opacity="0.71"/>
<circle cx="81.3" cy="231.2" r="0.75" fill="#f0e848" opacity="0.85"/>
<circle cx="81.9" cy="237.3" r="0.69" fill="#c8b010" opacity="0.62"/>
<circle cx="81.1" cy="238.1" r="0.60" fill="#e8e040" opacity="0.85"/>
<circle cx="78.3" cy="229.1" r="1.08" fill="#c8b010" opacity="0.71"/>
<circle cx="82.4" cy="221.8" r="0.63" fill="#d8b818" opacity="0.69"/>
<circle cx="80.0" cy="237.8" r="1.48" fill="#a08812" opacity="0.90"/>
<circle cx="71.7" cy="236.5" r="1.22" fill="#e0d020" opacity="0.64"/>
<circle cx="89.5" cy="227.4" r="1.03" fill="#c8b010" opacity="0.81"/>
<circle cx="85.5" cy="231.1" r="1.08" fill="#e8e040" opacity="0.64"/>
<circle cx="69.0" cy="234.1" r="0.88" fill="#d0c020" opacity="0.90"/>
<circle cx="86.0" cy="223.4" r="1.23" fill="#a08812" opacity="0.73"/>
<circle cx="70.7" cy="236.5" r="0.71" fill="#e8e040" opacity="0.67"/>
<circle cx="86.2" cy="230.0" r="0.87" fill="#d0c020" opacity="0.71"/>
<circle cx="84.5" cy="236.9" r="1.13" fill="#e8e040" opacity="0.94"/>
<circle cx="72.3" cy="223.4" r="1.20" fill="#a08812" opacity="0.94"/>
<circle cx="78.3" cy="230.5" r="1.08" fill="#e0d020" opacity="0.57"/>
<circle cx="82.4" cy="230.7" r="0.98" fill="#e8e040" opacity="0.60"/>
<circle cx="74.0" cy="234.6" r="0.82" fill="#d0c020" opacity="0.85"/>
<circle cx="83.4" cy="237.5" r="1.13" fill="#e0d020" opacity="0.92"/>
<circle cx="80.0" cy="224.2" r="1.10" fill="#f0e848" opacity="0.92"/>
<circle cx="75.0" cy="229.7" r="0.63" fill="#d0c020" opacity="0.76"/>
<circle cx="89.7" cy="233.3" r="1.07" fill="#c0a818" opacity="0.64"/>
<circle cx="87.8" cy="224.0" r="1.15" fill="#e8e040" opacity="0.82"/>
<circle cx="81.3" cy="225.6" r="1.24" fill="#e8e040" opacity="0.67"/>
<circle cx="81.2" cy="236.3" r="1.14" fill="#d0c020" opacity="0.58"/>
<circle cx="82.7" cy="233.9" r="1.12" fill="#c8b010" opacity="0.69"/>
<circle cx="83.0" cy="232.0" r="1.33" fill="#c0a818" opacity="0.74"/>
<circle cx="73.4" cy="235.4" r="0.67" fill="#c8b010" opacity="0.79"/>
<circle cx="81.2" cy="235.2" r="0.81" fill="#c8b010" opacity="0.59"/>
<circle cx="77.9" cy="233.5" r="1.34" fill="#c0a818" opacity="0.87"/>
<circle cx="87.4" cy="230.0" r="1.19" fill="#c0a818" opacity="0.64"/>
<circle cx="73.1" cy="223.9" r="1.22" fill="#e8e040" opacity="0.87"/>
<circle cx="50.3" cy="235.7" r="0.93" fill="#e8e040" opacity="0.84"/>
<circle cx="59.3" cy="238.4" r="0.72" fill="#a08812" opacity="0.77"/>
<circle cx="54.8" cy="237.4" r="0.68" fill="#c0a818" opacity="0.68"/>
<circle cx="55.0" cy="231.1" r="0.63" fill="#e8e040" opacity="0.66"/>
<circle cx="52.8" cy="237.7" r="0.82" fill="#a08812" opacity="0.60"/>
<circle cx="52.5" cy="234.3" r="1.45" fill="#e8e040" opacity="0.65"/>
<circle cx="51.6" cy="238.2" r="1.50" fill="#d8b818" opacity="0.79"/>
<circle cx="52.3" cy="235.3" r="0.64" fill="#b09a14" opacity="0.70"/>
<circle cx="51.9" cy="237.7" r="0.75" fill="#e8e040" opacity="0.72"/>
<circle cx="57.2" cy="240.6" r="1.03" fill="#a08812" opacity="0.95"/>
<circle cx="58.3" cy="242.1" r="0.78" fill="#b09a14" opacity="0.73"/>
<circle cx="61.8" cy="238.7" r="1.07" fill="#d0c020" opacity="0.76"/>
<circle cx="56.9" cy="239.1" r="0.80" fill="#d8c818" opacity="0.71"/>
<circle cx="54.2" cy="240.7" r="1.25" fill="#d8c818" opacity="0.58"/>
<circle cx="53.7" cy="235.4" r="0.67" fill="#b09a14" opacity="0.69"/>
<circle cx="59.5" cy="237.3" r="0.65" fill="#b09a14" opacity="0.80"/>
<circle cx="55.8" cy="232.6" r="1.06" fill="#c8b010" opacity="0.58"/>
<circle cx="53.6" cy="235.9" r="1.09" fill="#c8b010" opacity="0.77"/>
<circle cx="56.6" cy="234.4" r="1.01" fill="#b09a14" opacity="0.63"/>
<circle cx="52.2" cy="233.9" r="1.24" fill="#b09a14" opacity="0.62"/>
<circle cx="56.2" cy="235.0" r="0.69" fill="#d8b818" opacity="0.70"/>
<circle cx="49.8" cy="238.8" r="1.11" fill="#d0c020" opacity="0.82"/>
<circle cx="56.8" cy="234.9" r="0.71" fill="#d8b818" opacity="0.66"/>
<circle cx="57.7" cy="231.3" r="0.98" fill="#b09a14" opacity="0.76"/>
<circle cx="55.9" cy="243.0" r="0.86" fill="#d0c020" opacity="0.65"/>
<circle cx="59.5" cy="234.9" r="1.24" fill="#c0a818" opacity="0.61"/>
<circle cx="53.9" cy="235.9" r="0.74" fill="#e8e040" opacity="0.67"/>
<circle cx="60.6" cy="234.3" r="1.42" fill="#b09a14" opacity="0.62"/>
<circle cx="53.0" cy="235.3" r="1.36" fill="#d0c020" opacity="0.75"/>
<circle cx="53.7" cy="233.5" r="0.62" fill="#d8b818" opacity="0.69"/>
<circle cx="54.4" cy="234.2" r="1.33" fill="#c8b010" opacity="0.81"/>
<circle cx="54.5" cy="234.8" r="1.41" fill="#e0d020" opacity="0.79"/>
<circle cx="57.7" cy="238.7" r="0.97" fill="#b09a14" opacity="0.59"/>
<circle cx="50.4" cy="236.5" r="1.00" fill="#b09a14" opacity="0.58"/>
<circle cx="24.6" cy="249.1" r="0.85" fill="#d8b818" opacity="0.75"/>
<circle cx="20.7" cy="250.2" r="0.82" fill="#d0c020" opacity="0.83"/>
<circle cx="38.5" cy="247.8" r="0.79" fill="#a08812" opacity="0.89"/>
<circle cx="46.0" cy="244.4" r="1.26" fill="#b0c818" opacity="0.94"/>
<circle cx="31.3" cy="247.3" r="1.31" fill="#d8b818" opacity="0.88"/>
<circle cx="27.1" cy="247.9" r="0.73" fill="#e8e040" opacity="0.88"/>
<circle cx="25.4" cy="250.3" r="0.99" fill="#70b020" opacity="0.68"/>
<circle cx="34.1" cy="247.5" r="1.13" fill="#a08812" opacity="0.66"/>
<circle cx="28.5" cy="247.1" r="0.74" fill="#c0a818" opacity="0.85"/>
<circle cx="47.8" cy="253.2" r="0.85" fill="#a08812" opacity="0.76"/>
<circle cx="43.1" cy="243.9" r="1.10" fill="#b09a14" opacity="0.90"/>
<circle cx="37.3" cy="252.3" r="0.91" fill="#b0c818" opacity="0.81"/>
<circle cx="32.5" cy="251.0" r="0.75" fill="#e8e040" opacity="0.89"/>
<circle cx="48.2" cy="249.7" r="0.94" fill="#b0c818" opacity="0.62"/>
<circle cx="45.2" cy="246.5" r="0.73" fill="#e8e040" opacity="0.71"/>
<circle cx="42.8" cy="246.0" r="0.75" fill="#e0d020" opacity="0.75"/>
<circle cx="43.6" cy="252.2" r="1.34" fill="#d0c020" opacity="0.83"/>
<circle cx="34.3" cy="250.4" r="0.92" fill="#90c020" opacity="0.95"/>
<circle cx="21.7" cy="251.3" r="0.69" fill="#e0d020" opacity="0.64"/>
<circle cx="32.1" cy="249.4" r="1.24" fill="#b09a14" opacity="0.70"/>
<circle cx="20.9" cy="249.5" r="0.99" fill="#d8b818" opacity="0.60"/>
<circle cx="34.9" cy="253.1" r="1.12" fill="#e8e040" opacity="0.72"/>
<circle cx="41.0" cy="251.9" r="1.38" fill="#b09a14" opacity="0.83"/>
<circle cx="27.4" cy="246.6" r="1.29" fill="#a08812" opacity="0.64"/>
<circle cx="28.5" cy="248.9" r="0.70" fill="#d8b818" opacity="0.91"/>
<circle cx="29.2" cy="249.8" r="0.82" fill="#b09a14" opacity="0.67"/>
<circle cx="27.7" cy="248.8" r="0.89" fill="#d0c020" opacity="0.78"/>
<circle cx="45.9" cy="250.9" r="0.60" fill="#d8b818" opacity="0.75"/>
<circle cx="49.5" cy="248.8" r="0.93" fill="#c0a818" opacity="0.72"/>
<circle cx="22.0" cy="249.6" r="1.13" fill="#70b020" opacity="0.67"/>
<circle cx="26.4" cy="246.7" r="0.80" fill="#a08812" opacity="0.79"/>
<circle cx="38.3" cy="250.9" r="0.82" fill="#e0d020" opacity="0.86"/>
<circle cx="30.5" cy="249.2" r="0.61" fill="#e8e040" opacity="0.59"/>
<circle cx="32.4" cy="251.9" r="0.81" fill="#e8e040" opacity="0.87"/>
<circle cx="45.0" cy="247.9" r="1.24" fill="#90c020" opacity="0.86"/>
<circle cx="52.3" cy="247.9" r="1.16" fill="#d0c020" opacity="0.91"/>
<circle cx="24.8" cy="247.1" r="1.18" fill="#c0a818" opacity="0.82"/>
<circle cx="47.6" cy="247.5" r="1.11" fill="#d8b818" opacity="0.69"/>
<circle cx="22.3" cy="250.7" r="1.08" fill="#d0c020" opacity="0.70"/>
<circle cx="45.2" cy="245.8" r="1.19" fill="#c0a818" opacity="0.69"/>
<circle cx="27.0" cy="247.3" r="0.72" fill="#d8b818" opacity="0.70"/>
<circle cx="34.6" cy="243.6" r="1.00" fill="#b09a14" opacity="0.61"/>
<circle cx="40.0" cy="249.9" r="0.86" fill="#a08812" opacity="0.94"/>
<circle cx="27.5" cy="248.0" r="1.16" fill="#c8b010" opacity="0.88"/>
<circle cx="22.4" cy="247.8" r="1.34" fill="#c8b010" opacity="0.87"/>
<circle cx="37.9" cy="243.6" r="1.18" fill="#90c020" opacity="0.71"/>
<circle cx="41.9" cy="245.8" r="1.09" fill="#a08812" opacity="0.90"/>
<circle cx="41.4" cy="249.1" r="1.05" fill="#d8c818" opacity="0.62"/>
<circle cx="45.1" cy="251.7" r="0.95" fill="#a08812" opacity="0.73"/>
<circle cx="33.1" cy="246.0" r="1.08" fill="#70b020" opacity="0.59"/>
<circle cx="51.3" cy="249.3" r="0.96" fill="#d0c020" opacity="0.80"/>
<circle cx="40.2" cy="253.7" r="0.72" fill="#a08812" opacity="0.69"/>
<circle cx="28.7" cy="250.4" r="0.75" fill="#a08812" opacity="0.95"/>
<circle cx="33.7" cy="253.0" r="0.70" fill="#a08812" opacity="0.61"/>
<circle cx="46.9" cy="245.1" r="0.69" fill="#d8c818" opacity="0.76"/>
<circle cx="49.6" cy="251.3" r="0.80" fill="#d8b818" opacity="0.74"/>
<circle cx="38.2" cy="253.0" r="0.76" fill="#d0c020" opacity="0.94"/>
<circle cx="28.1" cy="244.7" r="0.95" fill="#a08812" opacity="0.90"/>
<circle cx="22.5" cy="249.0" r="0.64" fill="#c0a818" opacity="0.94"/>
<circle cx="47.6" cy="245.5" r="0.87" fill="#d8b818" opacity="0.93"/>
<circle cx="36.6" cy="228.3" r="0.85" fill="#b08018" opacity="0.58"/>
<circle cx="42.2" cy="229.7" r="0.89" fill="#a07010" opacity="0.95"/>
<circle cx="36.5" cy="231.0" r="1.13" fill="#a07010" opacity="0.78"/>
<circle cx="43.8" cy="231.6" r="1.11" fill="#b08018" opacity="0.82"/>
<circle cx="36.5" cy="227.7" r="1.06" fill="#a07010" opacity="0.83"/>
<circle cx="39.6" cy="227.0" r="0.67" fill="#b08018" opacity="0.80"/>
<circle cx="38.3" cy="227.6" r="1.20" fill="#a07010" opacity="0.85"/>
<circle cx="38.3" cy="228.5" r="0.84" fill="#a07010" opacity="0.60"/>
<circle cx="36.7" cy="230.1" r="0.70" fill="#c8b010" opacity="0.95"/>
<circle cx="57.2" cy="241.1" r="1.16" fill="#d8b818" opacity="0.95"/>
<circle cx="56.2" cy="227.2" r="0.58" fill="#d8c818" opacity="0.95"/>
<circle cx="85.5" cy="235.1" r="0.70" fill="#d8c818" opacity="0.95"/>
<circle cx="68.0" cy="217.2" r="0.77" fill="#b09a14" opacity="0.95"/>
<circle cx="64.3" cy="238.0" r="0.81" fill="#d8c818" opacity="0.95"/>
<circle cx="44.9" cy="231.1" r="0.96" fill="#d0c020" opacity="0.95"/>
<circle cx="41.0" cy="244.5" r="0.99" fill="#907010" opacity="0.95"/>
<circle cx="65.3" cy="240.1" r="0.92" fill="#d0c020" opacity="0.95"/>
<circle cx="47.3" cy="236.1" r="0.69" fill="#d8c818" opacity="0.95"/>
<circle cx="81.6" cy="237.0" r="0.88" fill="#d8c818" opacity="0.95"/>
<circle cx="51.4" cy="227.2" r="0.65" fill="#d8b818" opacity="0.95"/>
<circle cx="19.6" cy="248.9" r="0.99" fill="#e0d020" opacity="0.95"/>
<circle cx="69.2" cy="234.6" r="0.61" fill="#d8c818" opacity="0.95"/>
<circle cx="44.2" cy="229.9" r="0.97" fill="#a08010" opacity="0.95"/>
<circle cx="21.9" cy="240.6" r="0.66" fill="#e0d020" opacity="0.95"/>
<circle cx="93.3" cy="219.7" r="0.95" fill="#d8c818" opacity="0.95"/>
<circle cx="95.7" cy="238.0" r="0.55" fill="#a08812" opacity="0.95"/>
<circle cx="68.6" cy="237.0" r="0.86" fill="#a08010" opacity="0.95"/>
<circle cx="30.9" cy="222.0" r="0.76" fill="#c8b010" opacity="0.95"/>
<circle cx="58.3" cy="244.4" r="0.50" fill="#907010" opacity="0.95"/>
<circle cx="72.0" cy="239.7" r="1.05" fill="#d0c020" opacity="0.95"/>
<circle cx="69.5" cy="240.7" r="1.12" fill="#b09a14" opacity="0.95"/>
<circle cx="53.3" cy="233.1" r="0.51" fill="#d8b818" opacity="0.95"/>
<circle cx="90.8" cy="231.7" r="0.75" fill="#c0a818" opacity="0.95"/>
<circle cx="60.6" cy="232.9" r="1.18" fill="#d8c818" opacity="0.95"/>
<circle cx="39.9" cy="232.9" r="0.90" fill="#c8b010" opacity="0.95"/>
<circle cx="68.6" cy="232.8" r="0.86" fill="#d0c020" opacity="0.95"/>
<circle cx="40.0" cy="237.4" r="0.79" fill="#e0d020" opacity="0.95"/>
<circle cx="93.6" cy="224.9" r="0.91" fill="#c8b010" opacity="0.95"/>
<circle cx="59.0" cy="220.7" r="0.57" fill="#c0a818" opacity="0.95"/>
<circle cx="29.6" cy="241.6" r="1.18" fill="#c0a818" opacity="0.95"/>
<circle cx="28.5" cy="224.8" r="1.00" fill="#d8c818" opacity="0.95"/>
<circle cx="47.3" cy="223.1" r="0.51" fill="#c8b010" opacity="0.95"/>
<circle cx="80.1" cy="240.5" r="0.76" fill="#d0c020" opacity="0.95"/>
<circle cx="59.1" cy="241.3" r="0.52" fill="#d8c818" opacity="0.95"/>
<circle cx="56.2" cy="241.8" r="1.03" fill="#e0d020" opacity="0.95"/>
<circle cx="46.6" cy="230.9" r="0.71" fill="#e8e040" opacity="0.95"/>
<circle cx="39.1" cy="248.8" r="0.73" fill="#a08812" opacity="0.95"/>
<circle cx="34.4" cy="247.6" r="1.20" fill="#c0a818" opacity="0.95"/>
<circle cx="90.0" cy="223.0" r="1.13" fill="#b09a14" opacity="0.95"/>
<circle cx="65.4" cy="229.9" r="0.69" fill="#a08010" opacity="0.95"/>
<circle cx="36.3" cy="232.0" r="0.83" fill="#d8b818" opacity="0.95"/>
<circle cx="68.1" cy="238.5" r="0.73" fill="#d8c818" opacity="0.95"/>
<circle cx="21.0" cy="240.7" r="0.87" fill="#c0a818" opacity="0.95"/>
<circle cx="41.8" cy="234.1" r="1.07" fill="#907010" opacity="0.95"/>
<circle cx="24.1" cy="234.7" r="0.84" fill="#e8e040" opacity="0.95"/>
<circle cx="58.0" cy="238.5" r="0.87" fill="#e0d020" opacity="0.95"/>
<circle cx="45.6" cy="232.9" r="0.98" fill="#d8b818" opacity="0.95"/>
<circle cx="91.7" cy="228.5" r="0.76" fill="#a08010" opacity="0.95"/>
<circle cx="71.3" cy="235.2" r="1.03" fill="#e0d020" opacity="0.95"/>
<circle cx="40.9" cy="232.3" r="0.85" fill="#c0a818" opacity="0.95"/>
<circle cx="75.3" cy="224.4" r="0.65" fill="#a08010" opacity="0.95"/>
<circle cx="39.7" cy="248.1" r="1.06" fill="#b09a14" opacity="0.95"/>
<circle cx="67.2" cy="231.0" r="0.90" fill="#d8c818" opacity="0.95"/>
<circle cx="24.0" cy="241.1" r="1.19" fill="#d0c020" opacity="0.95"/>
<circle cx="41.7" cy="230.9" r="1.05" fill="#907010" opacity="0.95"/>
<circle cx="40.7" cy="248.3" r="1.20" fill="#a08812" opacity="0.95"/>
<circle cx="19.8" cy="233.2" r="1.15" fill="#907010" opacity="0.95"/>
<circle cx="72.2" cy="226.2" r="0.93" fill="#907010" opacity="0.95"/>
<circle cx="68.5" cy="229.0" r="0.60" fill="#a08812" opacity="0.73"/>
<circle cx="68.8" cy="227.3" r="1.13" fill="#b09a14" opacity="0.86"/>
<circle cx="67.8" cy="231.6" r="0.91" fill="#d8c818" opacity="0.89"/>
<circle cx="70.6" cy="226.3" r="1.18" fill="#d8c818" opacity="0.84"/>
<circle cx="65.0" cy="230.3" r="1.06" fill="#d8c818" opacity="0.92"/>
<circle cx="63.1" cy="227.0" r="0.98" fill="#d8c818" opacity="0.63"/>
<circle cx="63.7" cy="226.9" r="1.23" fill="#b09a14" opacity="0.65"/>
<circle cx="68.0" cy="227.9" r="0.91" fill="#b09a14" opacity="0.76"/>
<circle cx="65.8" cy="228.6" r="1.20" fill="#d8b818" opacity="0.65"/>
<circle cx="64.5" cy="224.0" r="0.84" fill="#c0a818" opacity="0.83"/>
<circle cx="65.5" cy="229.1" r="0.92" fill="#c8b010" opacity="0.75"/>
<circle cx="68.0" cy="224.8" r="0.78" fill="#b09a14" opacity="0.79"/>
<circle cx="63.6" cy="222.8" r="1.18" fill="#b09a14" opacity="0.66"/>
<circle cx="63.1" cy="232.9" r="0.65" fill="#c8b010" opacity="0.94"/>
</g>
</g>
<g clip-path="url(#cD2)">
<g filter="url(#bl2)">
<path d="M100.0,226.0 C103.0,227.0 112.3,229.2 118.0,232.0 C123.7,234.8 131.3,241.2 134.0,243.0" fill="none" stroke="#6a500c" stroke-width="7" stroke-linecap="round" stroke-linejoin="round" opacity="1.0"/>
<path d="M133.0,228.0 C135.5,229.0 142.8,231.7 148.0,234.0 C153.2,236.3 161.3,240.7 164.0,242.0" fill="none" stroke="#6a4a0e" stroke-width="12" stroke-linecap="round" stroke-linejoin="round" opacity="1.0"/>
<path d="M96.0,206.0 C97.3,206.8 101.5,209.2 104.0,211.0 C106.5,212.8 109.8,216.0 111.0,217.0" fill="none" stroke="#6a520c" stroke-width="7" stroke-linecap="round" stroke-linejoin="round" opacity="1.0"/>
<path d="M143.0,247.0 C144.5,248.2 149.2,251.7 152.0,254.0 C154.8,256.3 158.7,259.8 160.0,261.0" fill="none" stroke="#5a460a" stroke-width="6" stroke-linecap="round" stroke-linejoin="round" opacity="1.0"/>
<ellipse cx="121" cy="220" rx="7" ry="4.5" fill="#5a3a0c"/>
</g>
<g filter="url(#bl2)" opacity="0.55">
<circle cx="110.2" cy="213.5" r="0.79" fill="#f0d838" opacity="0.9"/>
<circle cx="105.0" cy="212.6" r="1.14" fill="#b88810" opacity="0.9"/>
<circle cx="106.4" cy="216.5" r="1.05" fill="#b88810" opacity="0.9"/>
<circle cx="103.5" cy="211.4" r="0.99" fill="#e8d030" opacity="0.9"/>
<circle cx="109.2" cy="215.7" r="0.68" fill="#f0d838" opacity="0.9"/>
<circle cx="100.8" cy="205.4" r="1.39" fill="#f0d838" opacity="0.9"/>
<circle cx="104.8" cy="210.7" r="1.21" fill="#b88810" opacity="0.9"/>
<circle cx="99.6" cy="207.8" r="1.40" fill="#c89810" opacity="0.9"/>
<circle cx="108.1" cy="210.6" r="1.17" fill="#c89810" opacity="0.9"/>
<circle cx="103.1" cy="214.6" r="1.26" fill="#c89810" opacity="0.9"/>
<circle cx="98.9" cy="207.3" r="1.31" fill="#d0a818" opacity="0.9"/>
<circle cx="100.6" cy="210.1" r="0.80" fill="#d8b010" opacity="0.9"/>
<circle cx="100.4" cy="209.4" r="1.23" fill="#b88810" opacity="0.9"/>
<circle cx="99.0" cy="208.4" r="0.91" fill="#f0d838" opacity="0.9"/>
<circle cx="107.3" cy="215.7" r="1.04" fill="#d0a818" opacity="0.9"/>
<circle cx="100.2" cy="206.6" r="1.20" fill="#d0a818" opacity="0.9"/>
<circle cx="108.9" cy="215.3" r="0.64" fill="#f0d838" opacity="0.9"/>
<circle cx="102.7" cy="208.7" r="1.23" fill="#d8b010" opacity="0.9"/>
<circle cx="103.9" cy="210.2" r="0.77" fill="#d0a818" opacity="0.9"/>
<circle cx="104.7" cy="209.7" r="1.05" fill="#c89810" opacity="0.9"/>
<circle cx="107.3" cy="216.4" r="1.06" fill="#d0a818" opacity="0.9"/>
<circle cx="106.2" cy="214.2" r="0.84" fill="#e0c018" opacity="0.9"/>
<circle cx="98.8" cy="207.1" r="1.39" fill="#c89810" opacity="0.9"/>
<circle cx="102.1" cy="209.5" r="0.71" fill="#d0a818" opacity="0.9"/>
<circle cx="105.2" cy="213.5" r="0.71" fill="#d0a818" opacity="0.9"/>
<circle cx="108.8" cy="216.8" r="1.38" fill="#b88810" opacity="0.9"/>
<circle cx="121.8" cy="231.6" r="0.68" fill="#d0a818" opacity="0.9"/>
<circle cx="113.9" cy="231.8" r="1.05" fill="#d8b010" opacity="0.9"/>
<circle cx="130.0" cy="241.2" r="0.77" fill="#d0a818" opacity="0.9"/>
<circle cx="118.4" cy="233.0" r="1.10" fill="#b88810" opacity="0.9"/>
<circle cx="104.7" cy="229.0" r="0.80" fill="#c89810" opacity="0.9"/>
<circle cx="132.6" cy="241.1" r="1.48" fill="#f0d838" opacity="0.9"/>
<circle cx="130.3" cy="243.7" r="0.62" fill="#e8d030" opacity="0.9"/>
<circle cx="129.8" cy="236.1" r="1.50" fill="#b88810" opacity="0.9"/>
<circle cx="124.3" cy="232.4" r="0.68" fill="#b88810" opacity="0.9"/>
<circle cx="108.2" cy="226.1" r="1.42" fill="#e0c018" opacity="0.9"/>
<circle cx="104.9" cy="231.1" r="0.62" fill="#e0c018" opacity="0.9"/>
<circle cx="108.1" cy="225.4" r="0.77" fill="#b88810" opacity="0.9"/>
<circle cx="121.2" cy="231.0" r="1.33" fill="#e0c018" opacity="0.9"/>
<circle cx="115.3" cy="229.6" r="1.46" fill="#d8b010" opacity="0.9"/>
<circle cx="132.7" cy="243.3" r="0.90" fill="#c89810" opacity="0.9"/>
<circle cx="116.0" cy="229.7" r="1.41" fill="#d8b010" opacity="0.9"/>
<circle cx="111.6" cy="228.0" r="0.90" fill="#d0a818" opacity="0.9"/>
<circle cx="114.5" cy="229.7" r="1.19" fill="#e8d030" opacity="0.9"/>
<circle cx="107.8" cy="229.7" r="1.03" fill="#f0d838" opacity="0.9"/>
<circle cx="130.9" cy="242.3" r="0.77" fill="#d0a818" opacity="0.9"/>
<circle cx="123.8" cy="235.8" r="0.83" fill="#e0c018" opacity="0.9"/>
<circle cx="107.7" cy="231.1" r="0.81" fill="#c89810" opacity="0.9"/>
<circle cx="119.4" cy="232.9" r="0.63" fill="#d8b010" opacity="0.9"/>
<circle cx="121.0" cy="232.6" r="0.67" fill="#f0d838" opacity="0.9"/>
<circle cx="119.5" cy="232.4" r="1.10" fill="#d8b010" opacity="0.9"/>
<circle cx="114.7" cy="231.2" r="0.92" fill="#e0c018" opacity="0.9"/>
<circle cx="134.1" cy="242.2" r="1.31" fill="#f0d838" opacity="0.9"/>
<circle cx="109.8" cy="230.1" r="1.49" fill="#d8b010" opacity="0.9"/>
<circle cx="115.3" cy="230.6" r="1.27" fill="#e8d030" opacity="0.9"/>
<circle cx="131.9" cy="244.4" r="1.42" fill="#e0c018" opacity="0.9"/>
<circle cx="119.3" cy="232.3" r="1.42" fill="#d8b010" opacity="0.9"/>
<circle cx="104.2" cy="228.2" r="0.74" fill="#e8d030" opacity="0.9"/>
<circle cx="132.0" cy="243.4" r="1.44" fill="#d8b010" opacity="0.9"/>
<circle cx="128.5" cy="238.4" r="0.89" fill="#e0c018" opacity="0.9"/>
<circle cx="108.1" cy="230.8" r="1.39" fill="#d0a818" opacity="0.9"/>
<circle cx="129.4" cy="242.3" r="1.20" fill="#c89810" opacity="0.9"/>
<circle cx="114.5" cy="232.0" r="1.44" fill="#e0c018" opacity="0.9"/>
<circle cx="132.9" cy="243.5" r="1.25" fill="#d0a818" opacity="0.9"/>
<circle cx="103.8" cy="227.1" r="0.71" fill="#b88810" opacity="0.9"/>
<circle cx="119.1" cy="234.1" r="1.33" fill="#e8d030" opacity="0.9"/>
<circle cx="129.4" cy="234.6" r="0.67" fill="#d8b010" opacity="0.9"/>
<circle cx="102.8" cy="226.5" r="1.43" fill="#f0d838" opacity="0.9"/>
<circle cx="132.3" cy="241.2" r="1.47" fill="#d0a818" opacity="0.9"/>
<circle cx="121.7" cy="233.3" r="0.86" fill="#f0d838" opacity="0.9"/>
<circle cx="131.6" cy="239.7" r="1.50" fill="#e8d030" opacity="0.9"/>
<circle cx="118.6" cy="231.2" r="0.77" fill="#e8d030" opacity="0.9"/>
<circle cx="131.6" cy="245.0" r="0.96" fill="#e0c018" opacity="0.9"/>
<circle cx="111.6" cy="230.5" r="0.64" fill="#e8d030" opacity="0.9"/>
<circle cx="126.1" cy="237.7" r="0.80" fill="#f0d838" opacity="0.9"/>
<circle cx="132.7" cy="242.5" r="1.15" fill="#e0c018" opacity="0.9"/>
<circle cx="147.5" cy="234.0" r="0.87" fill="#e0c018" opacity="0.9"/>
<circle cx="143.6" cy="232.4" r="1.36" fill="#d0a818" opacity="0.9"/>
<circle cx="154.0" cy="237.2" r="0.75" fill="#c89810" opacity="0.9"/>
<circle cx="157.0" cy="245.2" r="1.12" fill="#f0d838" opacity="0.9"/>
<circle cx="147.5" cy="231.3" r="1.45" fill="#a07010" opacity="0.9"/>
<circle cx="141.4" cy="229.2" r="1.44" fill="#c89810" opacity="0.9"/>
<circle cx="150.8" cy="227.5" r="1.29" fill="#d0a818" opacity="0.9"/>
<circle cx="142.2" cy="227.9" r="1.13" fill="#c89810" opacity="0.9"/>
<circle cx="155.6" cy="235.1" r="1.17" fill="#e0c018" opacity="0.9"/>
<circle cx="142.3" cy="235.7" r="1.10" fill="#a07010" opacity="0.9"/>
<circle cx="154.9" cy="239.4" r="1.22" fill="#a07010" opacity="0.9"/>
<circle cx="147.8" cy="228.7" r="1.05" fill="#a07010" opacity="0.9"/>
<circle cx="136.6" cy="226.0" r="0.66" fill="#c89810" opacity="0.9"/>
<circle cx="160.1" cy="245.4" r="0.85" fill="#a07010" opacity="0.9"/>
<circle cx="135.6" cy="227.5" r="1.12" fill="#f0d838" opacity="0.9"/>
<circle cx="156.7" cy="239.8" r="0.83" fill="#d8b010" opacity="0.9"/>
<circle cx="149.9" cy="226.3" r="1.04" fill="#a07010" opacity="0.9"/>
<circle cx="139.7" cy="226.7" r="0.88" fill="#d0a818" opacity="0.9"/>
<circle cx="162.4" cy="238.1" r="1.00" fill="#b88810" opacity="0.9"/>
<circle cx="164.3" cy="238.0" r="1.43" fill="#e8d030" opacity="0.9"/>
<circle cx="157.9" cy="237.6" r="1.32" fill="#c89810" opacity="0.9"/>
<circle cx="140.1" cy="223.3" r="1.03" fill="#e8d030" opacity="0.9"/>
<circle cx="133.9" cy="230.4" r="1.19" fill="#a07010" opacity="0.9"/>
<circle cx="160.7" cy="231.8" r="1.15" fill="#f0d838" opacity="0.9"/>
<circle cx="161.4" cy="240.3" r="1.20" fill="#d8b010" opacity="0.9"/>
<circle cx="142.0" cy="229.9" r="0.86" fill="#f0d838" opacity="0.9"/>
<circle cx="142.2" cy="233.4" r="1.28" fill="#c89810" opacity="0.9"/>
<circle cx="153.5" cy="242.4" r="1.20" fill="#f0d838" opacity="0.9"/>
<circle cx="158.9" cy="240.6" r="1.39" fill="#b88810" opacity="0.9"/>
<circle cx="164.2" cy="235.9" r="1.18" fill="#a07010" opacity="0.9"/>
<circle cx="140.7" cy="230.1" r="1.40" fill="#a07010" opacity="0.9"/>
<circle cx="157.6" cy="238.0" r="0.81" fill="#d8b010" opacity="0.9"/>
<circle cx="155.6" cy="234.7" r="0.85" fill="#c89810" opacity="0.9"/>
<circle cx="134.9" cy="227.1" r="0.84" fill="#d8b010" opacity="0.9"/>
<circle cx="140.7" cy="237.8" r="0.86" fill="#b88810" opacity="0.9"/>
<circle cx="163.5" cy="238.5" r="1.30" fill="#d0a818" opacity="0.9"/>
<circle cx="136.2" cy="230.5" r="0.66" fill="#d8b010" opacity="0.9"/>
<circle cx="154.2" cy="249.0" r="1.08" fill="#a07010" opacity="0.9"/>
<circle cx="157.3" cy="235.8" r="1.44" fill="#d0a818" opacity="0.9"/>
<circle cx="141.3" cy="230.1" r="0.89" fill="#d8b010" opacity="0.9"/>
<circle cx="142.7" cy="234.4" r="1.37" fill="#f0d838" opacity="0.9"/>
<circle cx="140.6" cy="229.5" r="1.43" fill="#a07010" opacity="0.9"/>
<circle cx="159.1" cy="243.5" r="1.03" fill="#f0d838" opacity="0.9"/>
<circle cx="155.3" cy="239.9" r="1.10" fill="#b88810" opacity="0.9"/>
<circle cx="151.3" cy="235.2" r="0.68" fill="#c89810" opacity="0.9"/>
<circle cx="156.1" cy="238.6" r="0.65" fill="#c89810" opacity="0.9"/>
<circle cx="136.7" cy="234.9" r="1.13" fill="#d0a818" opacity="0.9"/>
<circle cx="142.4" cy="229.9" r="1.32" fill="#e0c018" opacity="0.9"/>
<circle cx="156.2" cy="234.4" r="0.70" fill="#a07010" opacity="0.9"/>
<circle cx="139.2" cy="230.7" r="0.83" fill="#e0c018" opacity="0.9"/>
<circle cx="148.3" cy="238.4" r="1.15" fill="#c89810" opacity="0.9"/>
<circle cx="162.8" cy="242.0" r="1.05" fill="#e8d030" opacity="0.9"/>
<circle cx="147.1" cy="230.2" r="1.15" fill="#e0c018" opacity="0.9"/>
<circle cx="138.4" cy="224.6" r="1.11" fill="#e8d030" opacity="0.9"/>
<circle cx="135.9" cy="227.2" r="0.67" fill="#f0d838" opacity="0.9"/>
<circle cx="155.0" cy="256.7" r="1.20" fill="#d8b010" opacity="0.9"/>
<circle cx="157.7" cy="260.2" r="1.17" fill="#c89810" opacity="0.9"/>
<circle cx="158.8" cy="258.1" r="1.21" fill="#c89810" opacity="0.9"/>
<circle cx="148.4" cy="251.9" r="1.11" fill="#e8d030" opacity="0.9"/>
<circle cx="153.4" cy="258.8" r="1.40" fill="#d8b010" opacity="0.9"/>
<circle cx="147.6" cy="251.4" r="1.06" fill="#c89810" opacity="0.9"/>
<circle cx="155.5" cy="254.2" r="0.86" fill="#e8d030" opacity="0.9"/>
<circle cx="149.5" cy="250.8" r="0.94" fill="#f0d838" opacity="0.9"/>
<circle cx="146.0" cy="248.2" r="1.29" fill="#d0a818" opacity="0.9"/>
<circle cx="158.1" cy="257.5" r="1.42" fill="#f0d838" opacity="0.9"/>
<circle cx="155.6" cy="257.6" r="1.02" fill="#d0a818" opacity="0.9"/>
<circle cx="145.1" cy="249.0" r="1.18" fill="#b88810" opacity="0.9"/>
<circle cx="153.3" cy="256.5" r="1.24" fill="#e8d030" opacity="0.9"/>
<circle cx="147.6" cy="250.0" r="0.77" fill="#b88810" opacity="0.9"/>
<circle cx="157.5" cy="261.1" r="0.97" fill="#d0a818" opacity="0.9"/>
<circle cx="149.6" cy="253.1" r="1.04" fill="#e0c018" opacity="0.9"/>
<circle cx="154.1" cy="254.3" r="0.88" fill="#e8d030" opacity="0.9"/>
<circle cx="147.3" cy="253.2" r="1.05" fill="#e8d030" opacity="0.9"/>
<circle cx="153.3" cy="254.3" r="1.36" fill="#f0d838" opacity="0.9"/>
<circle cx="151.6" cy="258.3" r="1.27" fill="#c89810" opacity="0.9"/>
<circle cx="154.3" cy="258.0" r="1.16" fill="#c89810" opacity="0.9"/>
<circle cx="148.3" cy="250.5" r="0.83" fill="#e0c018" opacity="0.9"/>
<circle cx="146.9" cy="248.5" r="1.32" fill="#c89810" opacity="0.9"/>
<circle cx="156.4" cy="257.4" r="1.31" fill="#c89810" opacity="0.9"/>
</g>
<g filter="url(#bl08)">
<circle cx="110.2" cy="213.5" r="0.79" fill="#f0d838" opacity="0.9"/>
<circle cx="105.0" cy="212.6" r="1.14" fill="#b88810" opacity="0.9"/>
<circle cx="106.4" cy="216.5" r="1.05" fill="#b88810" opacity="0.9"/>
<circle cx="103.5" cy="211.4" r="0.99" fill="#e8d030" opacity="0.9"/>
<circle cx="109.2" cy="215.7" r="0.68" fill="#f0d838" opacity="0.9"/>
<circle cx="100.8" cy="205.4" r="1.39" fill="#f0d838" opacity="0.9"/>
<circle cx="104.8" cy="210.7" r="1.21" fill="#b88810" opacity="0.9"/>
<circle cx="99.6" cy="207.8" r="1.40" fill="#c89810" opacity="0.9"/>
<circle cx="108.1" cy="210.6" r="1.17" fill="#c89810" opacity="0.9"/>
<circle cx="103.1" cy="214.6" r="1.26" fill="#c89810" opacity="0.9"/>
<circle cx="98.9" cy="207.3" r="1.31" fill="#d0a818" opacity="0.9"/>
<circle cx="100.6" cy="210.1" r="0.80" fill="#d8b010" opacity="0.9"/>
<circle cx="100.4" cy="209.4" r="1.23" fill="#b88810" opacity="0.9"/>
<circle cx="99.0" cy="208.4" r="0.91" fill="#f0d838" opacity="0.9"/>
<circle cx="107.3" cy="215.7" r="1.04" fill="#d0a818" opacity="0.9"/>
<circle cx="100.2" cy="206.6" r="1.20" fill="#d0a818" opacity="0.9"/>
<circle cx="108.9" cy="215.3" r="0.64" fill="#f0d838" opacity="0.9"/>
<circle cx="102.7" cy="208.7" r="1.23" fill="#d8b010" opacity="0.9"/>
<circle cx="103.9" cy="210.2" r="0.77" fill="#d0a818" opacity="0.9"/>
<circle cx="104.7" cy="209.7" r="1.05" fill="#c89810" opacity="0.9"/>
<circle cx="107.3" cy="216.4" r="1.06" fill="#d0a818" opacity="0.9"/>
<circle cx="106.2" cy="214.2" r="0.84" fill="#e0c018" opacity="0.9"/>
<circle cx="98.8" cy="207.1" r="1.39" fill="#c89810" opacity="0.9"/>
<circle cx="102.1" cy="209.5" r="0.71" fill="#d0a818" opacity="0.9"/>
<circle cx="105.2" cy="213.5" r="0.71" fill="#d0a818" opacity="0.9"/>
<circle cx="108.8" cy="216.8" r="1.38" fill="#b88810" opacity="0.9"/>
<circle cx="121.8" cy="231.6" r="0.68" fill="#d0a818" opacity="0.9"/>
<circle cx="113.9" cy="231.8" r="1.05" fill="#d8b010" opacity="0.9"/>
<circle cx="130.0" cy="241.2" r="0.77" fill="#d0a818" opacity="0.9"/>
<circle cx="118.4" cy="233.0" r="1.10" fill="#b88810" opacity="0.9"/>
<circle cx="104.7" cy="229.0" r="0.80" fill="#c89810" opacity="0.9"/>
<circle cx="132.6" cy="241.1" r="1.48" fill="#f0d838" opacity="0.9"/>
<circle cx="130.3" cy="243.7" r="0.62" fill="#e8d030" opacity="0.9"/>
<circle cx="129.8" cy="236.1" r="1.50" fill="#b88810" opacity="0.9"/>
<circle cx="124.3" cy="232.4" r="0.68" fill="#b88810" opacity="0.9"/>
<circle cx="108.2" cy="226.1" r="1.42" fill="#e0c018" opacity="0.9"/>
<circle cx="104.9" cy="231.1" r="0.62" fill="#e0c018" opacity="0.9"/>
<circle cx="108.1" cy="225.4" r="0.77" fill="#b88810" opacity="0.9"/>
<circle cx="121.2" cy="231.0" r="1.33" fill="#e0c018" opacity="0.9"/>
<circle cx="115.3" cy="229.6" r="1.46" fill="#d8b010" opacity="0.9"/>
<circle cx="132.7" cy="243.3" r="0.90" fill="#c89810" opacity="0.9"/>
<circle cx="116.0" cy="229.7" r="1.41" fill="#d8b010" opacity="0.9"/>
<circle cx="111.6" cy="228.0" r="0.90" fill="#d0a818" opacity="0.9"/>
<circle cx="114.5" cy="229.7" r="1.19" fill="#e8d030" opacity="0.9"/>
<circle cx="107.8" cy="229.7" r="1.03" fill="#f0d838" opacity="0.9"/>
<circle cx="130.9" cy="242.3" r="0.77" fill="#d0a818" opacity="0.9"/>
<circle cx="123.8" cy="235.8" r="0.83" fill="#e0c018" opacity="0.9"/>
<circle cx="107.7" cy="231.1" r="0.81" fill="#c89810" opacity="0.9"/>
<circle cx="119.4" cy="232.9" r="0.63" fill="#d8b010" opacity="0.9"/>
<circle cx="121.0" cy="232.6" r="0.67" fill="#f0d838" opacity="0.9"/>
<circle cx="119.5" cy="232.4" r="1.10" fill="#d8b010" opacity="0.9"/>
<circle cx="114.7" cy="231.2" r="0.92" fill="#e0c018" opacity="0.9"/>
<circle cx="134.1" cy="242.2" r="1.31" fill="#f0d838" opacity="0.9"/>
<circle cx="109.8" cy="230.1" r="1.49" fill="#d8b010" opacity="0.9"/>
<circle cx="115.3" cy="230.6" r="1.27" fill="#e8d030" opacity="0.9"/>
<circle cx="131.9" cy="244.4" r="1.42" fill="#e0c018" opacity="0.9"/>
<circle cx="119.3" cy="232.3" r="1.42" fill="#d8b010" opacity="0.9"/>
<circle cx="104.2" cy="228.2" r="0.74" fill="#e8d030" opacity="0.9"/>
<circle cx="132.0" cy="243.4" r="1.44" fill="#d8b010" opacity="0.9"/>
<circle cx="128.5" cy="238.4" r="0.89" fill="#e0c018" opacity="0.9"/>
<circle cx="108.1" cy="230.8" r="1.39" fill="#d0a818" opacity="0.9"/>
<circle cx="129.4" cy="242.3" r="1.20" fill="#c89810" opacity="0.9"/>
<circle cx="114.5" cy="232.0" r="1.44" fill="#e0c018" opacity="0.9"/>
<circle cx="132.9" cy="243.5" r="1.25" fill="#d0a818" opacity="0.9"/>
<circle cx="103.8" cy="227.1" r="0.71" fill="#b88810" opacity="0.9"/>
<circle cx="119.1" cy="234.1" r="1.33" fill="#e8d030" opacity="0.9"/>
<circle cx="129.4" cy="234.6" r="0.67" fill="#d8b010" opacity="0.9"/>
<circle cx="102.8" cy="226.5" r="1.43" fill="#f0d838" opacity="0.9"/>
<circle cx="132.3" cy="241.2" r="1.47" fill="#d0a818" opacity="0.9"/>
<circle cx="121.7" cy="233.3" r="0.86" fill="#f0d838" opacity="0.9"/>
<circle cx="131.6" cy="239.7" r="1.50" fill="#e8d030" opacity="0.9"/>
<circle cx="118.6" cy="231.2" r="0.77" fill="#e8d030" opacity="0.9"/>
<circle cx="131.6" cy="245.0" r="0.96" fill="#e0c018" opacity="0.9"/>
<circle cx="111.6" cy="230.5" r="0.64" fill="#e8d030" opacity="0.9"/>
<circle cx="126.1" cy="237.7" r="0.80" fill="#f0d838" opacity="0.9"/>
<circle cx="132.7" cy="242.5" r="1.15" fill="#e0c018" opacity="0.9"/>
<circle cx="147.5" cy="234.0" r="0.87" fill="#e0c018" opacity="0.9"/>
<circle cx="143.6" cy="232.4" r="1.36" fill="#d0a818" opacity="0.9"/>
<circle cx="154.0" cy="237.2" r="0.75" fill="#c89810" opacity="0.9"/>
<circle cx="157.0" cy="245.2" r="1.12" fill="#f0d838" opacity="0.9"/>
<circle cx="147.5" cy="231.3" r="1.45" fill="#a07010" opacity="0.9"/>
<circle cx="141.4" cy="229.2" r="1.44" fill="#c89810" opacity="0.9"/>
<circle cx="150.8" cy="227.5" r="1.29" fill="#d0a818" opacity="0.9"/>
<circle cx="142.2" cy="227.9" r="1.13" fill="#c89810" opacity="0.9"/>
<circle cx="155.6" cy="235.1" r="1.17" fill="#e0c018" opacity="0.9"/>
<circle cx="142.3" cy="235.7" r="1.10" fill="#a07010" opacity="0.9"/>
<circle cx="154.9" cy="239.4" r="1.22" fill="#a07010" opacity="0.9"/>
<circle cx="147.8" cy="228.7" r="1.05" fill="#a07010" opacity="0.9"/>
<circle cx="136.6" cy="226.0" r="0.66" fill="#c89810" opacity="0.9"/>
<circle cx="160.1" cy="245.4" r="0.85" fill="#a07010" opacity="0.9"/>
<circle cx="135.6" cy="227.5" r="1.12" fill="#f0d838" opacity="0.9"/>
<circle cx="156.7" cy="239.8" r="0.83" fill="#d8b010" opacity="0.9"/>
<circle cx="149.9" cy="226.3" r="1.04" fill="#a07010" opacity="0.9"/>
<circle cx="139.7" cy="226.7" r="0.88" fill="#d0a818" opacity="0.9"/>
<circle cx="162.4" cy="238.1" r="1.00" fill="#b88810" opacity="0.9"/>
<circle cx="164.3" cy="238.0" r="1.43" fill="#e8d030" opacity="0.9"/>
<circle cx="157.9" cy="237.6" r="1.32" fill="#c89810" opacity="0.9"/>
<circle cx="140.1" cy="223.3" r="1.03" fill="#e8d030" opacity="0.9"/>
<circle cx="133.9" cy="230.4" r="1.19" fill="#a07010" opacity="0.9"/>
<circle cx="160.7" cy="231.8" r="1.15" fill="#f0d838" opacity="0.9"/>
<circle cx="161.4" cy="240.3" r="1.20" fill="#d8b010" opacity="0.9"/>
<circle cx="142.0" cy="229.9" r="0.86" fill="#f0d838" opacity="0.9"/>
<circle cx="142.2" cy="233.4" r="1.28" fill="#c89810" opacity="0.9"/>
<circle cx="153.5" cy="242.4" r="1.20" fill="#f0d838" opacity="0.9"/>
<circle cx="158.9" cy="240.6" r="1.39" fill="#b88810" opacity="0.9"/>
<circle cx="164.2" cy="235.9" r="1.18" fill="#a07010" opacity="0.9"/>
<circle cx="140.7" cy="230.1" r="1.40" fill="#a07010" opacity="0.9"/>
<circle cx="157.6" cy="238.0" r="0.81" fill="#d8b010" opacity="0.9"/>
<circle cx="155.6" cy="234.7" r="0.85" fill="#c89810" opacity="0.9"/>
<circle cx="134.9" cy="227.1" r="0.84" fill="#d8b010" opacity="0.9"/>
<circle cx="140.7" cy="237.8" r="0.86" fill="#b88810" opacity="0.9"/>
<circle cx="163.5" cy="238.5" r="1.30" fill="#d0a818" opacity="0.9"/>
<circle cx="136.2" cy="230.5" r="0.66" fill="#d8b010" opacity="0.9"/>
<circle cx="154.2" cy="249.0" r="1.08" fill="#a07010" opacity="0.9"/>
<circle cx="157.3" cy="235.8" r="1.44" fill="#d0a818" opacity="0.9"/>
<circle cx="141.3" cy="230.1" r="0.89" fill="#d8b010" opacity="0.9"/>
<circle cx="142.7" cy="234.4" r="1.37" fill="#f0d838" opacity="0.9"/>
<circle cx="140.6" cy="229.5" r="1.43" fill="#a07010" opacity="0.9"/>
<circle cx="159.1" cy="243.5" r="1.03" fill="#f0d838" opacity="0.9"/>
<circle cx="155.3" cy="239.9" r="1.10" fill="#b88810" opacity="0.9"/>
<circle cx="151.3" cy="235.2" r="0.68" fill="#c89810" opacity="0.9"/>
<circle cx="156.1" cy="238.6" r="0.65" fill="#c89810" opacity="0.9"/>
<circle cx="136.7" cy="234.9" r="1.13" fill="#d0a818" opacity="0.9"/>
<circle cx="142.4" cy="229.9" r="1.32" fill="#e0c018" opacity="0.9"/>
<circle cx="156.2" cy="234.4" r="0.70" fill="#a07010" opacity="0.9"/>
<circle cx="139.2" cy="230.7" r="0.83" fill="#e0c018" opacity="0.9"/>
<circle cx="148.3" cy="238.4" r="1.15" fill="#c89810" opacity="0.9"/>
<circle cx="162.8" cy="242.0" r="1.05" fill="#e8d030" opacity="0.9"/>
<circle cx="147.1" cy="230.2" r="1.15" fill="#e0c018" opacity="0.9"/>
<circle cx="138.4" cy="224.6" r="1.11" fill="#e8d030" opacity="0.9"/>
<circle cx="135.9" cy="227.2" r="0.67" fill="#f0d838" opacity="0.9"/>
<circle cx="155.0" cy="256.7" r="1.20" fill="#d8b010" opacity="0.9"/>
<circle cx="157.7" cy="260.2" r="1.17" fill="#c89810" opacity="0.9"/>
<circle cx="158.8" cy="258.1" r="1.21" fill="#c89810" opacity="0.9"/>
<circle cx="148.4" cy="251.9" r="1.11" fill="#e8d030" opacity="0.9"/>
<circle cx="153.4" cy="258.8" r="1.40" fill="#d8b010" opacity="0.9"/>
<circle cx="147.6" cy="251.4" r="1.06" fill="#c89810" opacity="0.9"/>
<circle cx="155.5" cy="254.2" r="0.86" fill="#e8d030" opacity="0.9"/>
<circle cx="149.5" cy="250.8" r="0.94" fill="#f0d838" opacity="0.9"/>
<circle cx="146.0" cy="248.2" r="1.29" fill="#d0a818" opacity="0.9"/>
<circle cx="158.1" cy="257.5" r="1.42" fill="#f0d838" opacity="0.9"/>
<circle cx="155.6" cy="257.6" r="1.02" fill="#d0a818" opacity="0.9"/>
<circle cx="145.1" cy="249.0" r="1.18" fill="#b88810" opacity="0.9"/>
<circle cx="153.3" cy="256.5" r="1.24" fill="#e8d030" opacity="0.9"/>
<circle cx="147.6" cy="250.0" r="0.77" fill="#b88810" opacity="0.9"/>
<circle cx="157.5" cy="261.1" r="0.97" fill="#d0a818" opacity="0.9"/>
<circle cx="149.6" cy="253.1" r="1.04" fill="#e0c018" opacity="0.9"/>
<circle cx="154.1" cy="254.3" r="0.88" fill="#e8d030" opacity="0.9"/>
<circle cx="147.3" cy="253.2" r="1.05" fill="#e8d030" opacity="0.9"/>
<circle cx="153.3" cy="254.3" r="1.36" fill="#f0d838" opacity="0.9"/>
<circle cx="151.6" cy="258.3" r="1.27" fill="#c89810" opacity="0.9"/>
<circle cx="154.3" cy="258.0" r="1.16" fill="#c89810" opacity="0.9"/>
<circle cx="148.3" cy="250.5" r="0.83" fill="#e0c018" opacity="0.9"/>
<circle cx="146.9" cy="248.5" r="1.32" fill="#c89810" opacity="0.9"/>
<circle cx="156.4" cy="257.4" r="1.31" fill="#c89810" opacity="0.9"/>
</g>
</g>
<g clip-path="url(#cD3)">
<g filter="url(#bl2)">
<path d="M10,321 L28,262 L66,262 L44,321 Z" fill="#5a580f"/>
<path d="M50,321 C56,305 64,292 78,279 L97,270 L97,312 L78,321 Z" fill="#58580f"/>
<path d="M44,321 L66,262 L72,262 L52,321 Z" fill="#24220a"/>
<path d="M70,262 L97,262 L97,272 L78,279 C66,290 58,302 52,321 Z" fill="#1a1804"/>
<path d="M10,300 L10,262 L27,262 Z" fill="#1a1604"/>
<ellipse cx="31" cy="289" rx="5" ry="6.5" transform="rotate(25 31 289)" fill="#38b418"/>
<ellipse cx="21.5" cy="307.5" rx="4.5" ry="5" transform="rotate(25 21.5 307.5)" fill="#36ae18"/>
<ellipse cx="51" cy="270" rx="3.6" ry="5.5" transform="rotate(25 51 270)" fill="#34a418"/>
<ellipse cx="38.5" cy="303" rx="4.5" ry="6" transform="rotate(25 38.5 303)" fill="#36ae18"/>
<ellipse cx="63" cy="303.5" rx="5" ry="5.5" transform="rotate(35 63 303.5)" fill="#38b818"/>
<ellipse cx="85" cy="284.5" rx="7" ry="4.5" transform="rotate(-20 85 284.5)" fill="#38b418"/>
<ellipse cx="92" cy="300" rx="4" ry="6" transform="rotate(0 92 300)" fill="#288a14"/>
<ellipse cx="32" cy="275" rx="4.5" ry="5.5" fill="#9a9a16"/>
<ellipse cx="23.5" cy="298.5" rx="5" ry="4" fill="#9a9a16"/>
<ellipse cx="20" cy="316" rx="4.5" ry="5.5" fill="#9a9a16"/>
<ellipse cx="50" cy="283" rx="6" ry="9" fill="#9a9016"/>
<ellipse cx="33" cy="316" rx="5" ry="5.5" fill="#9a9416"/>
<ellipse cx="70.5" cy="293.5" rx="6" ry="5" fill="#9a9a16"/>
<ellipse cx="57.5" cy="314" rx="5.5" ry="6.5" fill="#9a9416"/>
<ellipse cx="90" cy="278" rx="5.5" ry="3.5" fill="#9a9016"/>
</g>
<path d="M43.2,263.0 C41.8,267.8 37.7,282.3 35.0,292.0 C32.3,301.7 28.5,316.2 27.2,321.0" fill="none" stroke="#6a5a18" stroke-width="1.3" stroke-linecap="round" stroke-linejoin="round" opacity="0.6"/>
<path d="M45.5,263.0 C44.1,267.8 40.0,282.3 37.3,292.0 C34.6,301.7 30.8,316.2 29.5,321.0" fill="none" stroke="#5a5014" stroke-width="1.0" stroke-linecap="round" stroke-linejoin="round" opacity="0.5"/>
<path d="M97.0,288.0 C94.5,289.8 86.8,295.2 82.0,299.0 C77.2,302.8 71.6,307.3 68.3,311.0 C65.0,314.7 63.0,319.3 62.0,321.0" fill="none" stroke="#6a5a18" stroke-width="1.3" stroke-linecap="round" stroke-linejoin="round" opacity="0.6"/>
<g filter="url(#bl2)" opacity="0.55">
<circle cx="32.2" cy="275.0" r="0.75" fill="#a08812" opacity="0.82"/>
<circle cx="30.5" cy="278.1" r="0.98" fill="#c8b010" opacity="0.61"/>
<circle cx="28.8" cy="274.6" r="1.10" fill="#a08812" opacity="0.79"/>
<circle cx="35.2" cy="273.5" r="1.28" fill="#d8c818" opacity="0.57"/>
<circle cx="32.3" cy="271.7" r="0.93" fill="#e8e040" opacity="0.71"/>
<circle cx="30.4" cy="273.6" r="1.08" fill="#e0d020" opacity="0.78"/>
<circle cx="31.3" cy="274.0" r="1.31" fill="#e8e040" opacity="0.66"/>
<circle cx="29.7" cy="271.2" r="0.68" fill="#e0d020" opacity="0.85"/>
<circle cx="30.4" cy="274.9" r="1.23" fill="#e0d020" opacity="0.82"/>
<circle cx="30.5" cy="273.3" r="1.16" fill="#d8b818" opacity="0.84"/>
<circle cx="30.9" cy="278.8" r="0.80" fill="#a08812" opacity="0.84"/>
<circle cx="34.0" cy="272.8" r="1.05" fill="#d8b818" opacity="0.65"/>
<circle cx="30.1" cy="276.2" r="0.74" fill="#d8b818" opacity="0.87"/>
<circle cx="29.8" cy="275.9" r="1.29" fill="#a08812" opacity="0.70"/>
<circle cx="25.4" cy="296.5" r="1.39" fill="#e8e040" opacity="0.75"/>
<circle cx="19.5" cy="298.5" r="1.20" fill="#d8c818" opacity="0.86"/>
<circle cx="25.1" cy="301.6" r="0.62" fill="#d8b818" opacity="0.59"/>
<circle cx="24.4" cy="301.0" r="0.66" fill="#d8c818" opacity="0.73"/>
<circle cx="27.2" cy="299.3" r="1.10" fill="#e0d020" opacity="0.82"/>
<circle cx="25.3" cy="297.3" r="1.02" fill="#d0c020" opacity="0.65"/>
<circle cx="22.3" cy="297.9" r="0.76" fill="#c8b010" opacity="0.61"/>
<circle cx="26.6" cy="298.3" r="1.06" fill="#d0c020" opacity="0.78"/>
<circle cx="26.2" cy="298.1" r="1.25" fill="#e8e040" opacity="0.73"/>
<circle cx="22.5" cy="298.5" r="1.02" fill="#c0a818" opacity="0.79"/>
<circle cx="26.6" cy="297.0" r="0.87" fill="#b09a14" opacity="0.58"/>
<circle cx="26.2" cy="299.3" r="0.86" fill="#e8e040" opacity="0.71"/>
<circle cx="23.0" cy="316.6" r="0.97" fill="#d8b818" opacity="0.85"/>
<circle cx="19.7" cy="315.0" r="1.04" fill="#e8e040" opacity="0.60"/>
<circle cx="20.3" cy="316.1" r="0.85" fill="#d0c020" opacity="0.77"/>
<circle cx="17.5" cy="314.9" r="1.11" fill="#d8c818" opacity="0.74"/>
<circle cx="20.6" cy="316.5" r="0.64" fill="#c8b010" opacity="0.60"/>
<circle cx="21.7" cy="313.4" r="1.00" fill="#a08812" opacity="0.82"/>
<circle cx="23.0" cy="317.1" r="0.61" fill="#e8e040" opacity="0.80"/>
<circle cx="18.2" cy="314.1" r="0.74" fill="#c0a818" opacity="0.77"/>
<circle cx="17.8" cy="319.0" r="0.78" fill="#c8b010" opacity="0.59"/>
<circle cx="17.5" cy="313.0" r="0.62" fill="#c8b010" opacity="0.91"/>
<circle cx="52.7" cy="279.9" r="0.72" fill="#e0d020" opacity="0.93"/>
<circle cx="45.0" cy="284.1" r="0.98" fill="#f0e040" opacity="0.67"/>
<circle cx="52.4" cy="277.6" r="1.10" fill="#e0d020" opacity="0.66"/>
<circle cx="47.6" cy="290.1" r="1.27" fill="#d8c818" opacity="0.67"/>
<circle cx="52.1" cy="281.0" r="1.54" fill="#f0e040" opacity="0.84"/>
<circle cx="51.4" cy="281.0" r="1.32" fill="#a08812" opacity="0.57"/>
<circle cx="49.0" cy="284.5" r="0.72" fill="#d0c020" opacity="0.59"/>
<circle cx="48.6" cy="280.1" r="0.75" fill="#e8e040" opacity="0.81"/>
<circle cx="51.2" cy="278.0" r="0.61" fill="#f0e040" opacity="0.86"/>
<circle cx="50.7" cy="278.6" r="0.79" fill="#e0d020" opacity="0.60"/>
<circle cx="46.6" cy="282.5" r="1.44" fill="#e8e040" opacity="0.71"/>
<circle cx="46.3" cy="280.7" r="1.48" fill="#d8b818" opacity="0.88"/>
<circle cx="46.1" cy="277.3" r="0.64" fill="#e0d020" opacity="0.66"/>
<circle cx="51.6" cy="277.0" r="1.31" fill="#c8b010" opacity="0.89"/>
<circle cx="51.1" cy="290.1" r="0.64" fill="#d8c818" opacity="0.66"/>
<circle cx="46.5" cy="282.2" r="1.04" fill="#d8c818" opacity="0.81"/>
<circle cx="46.3" cy="277.4" r="1.14" fill="#b09a14" opacity="0.73"/>
<circle cx="48.7" cy="287.2" r="0.70" fill="#e0d020" opacity="0.75"/>
<circle cx="44.9" cy="285.0" r="0.79" fill="#d8b818" opacity="0.93"/>
<circle cx="49.2" cy="287.9" r="1.45" fill="#d0c020" opacity="0.78"/>
<circle cx="48.7" cy="286.5" r="0.97" fill="#d8c818" opacity="0.92"/>
<circle cx="47.7" cy="287.3" r="1.38" fill="#f0e040" opacity="0.64"/>
<circle cx="48.8" cy="289.0" r="1.37" fill="#d8c818" opacity="0.78"/>
<circle cx="45.8" cy="281.6" r="1.28" fill="#e8e040" opacity="0.80"/>
<circle cx="50.8" cy="289.6" r="1.60" fill="#a08812" opacity="0.82"/>
<circle cx="48.9" cy="284.1" r="0.73" fill="#f0e040" opacity="0.59"/>
<circle cx="51.4" cy="279.3" r="0.92" fill="#e8e040" opacity="0.72"/>
<circle cx="47.4" cy="285.9" r="1.46" fill="#e0d020" opacity="0.67"/>
<circle cx="48.5" cy="286.3" r="0.79" fill="#d0c020" opacity="0.65"/>
<circle cx="50.6" cy="280.3" r="0.60" fill="#e0d020" opacity="0.83"/>
<circle cx="34.1" cy="317.4" r="1.02" fill="#c0a818" opacity="0.81"/>
<circle cx="29.1" cy="318.2" r="0.81" fill="#a08812" opacity="0.64"/>
<circle cx="32.7" cy="315.7" r="1.21" fill="#d0c020" opacity="0.69"/>
<circle cx="32.1" cy="314.1" r="1.27" fill="#a08812" opacity="0.77"/>
<circle cx="34.1" cy="320.1" r="1.19" fill="#e8e040" opacity="0.62"/>
<circle cx="33.9" cy="317.9" r="0.98" fill="#c8b010" opacity="0.78"/>
<circle cx="30.3" cy="317.7" r="0.92" fill="#e0d020" opacity="0.71"/>
<circle cx="34.6" cy="313.6" r="0.83" fill="#a08812" opacity="0.90"/>
<circle cx="31.8" cy="312.1" r="1.18" fill="#e0d020" opacity="0.75"/>
<circle cx="29.4" cy="316.9" r="1.37" fill="#c8b010" opacity="0.77"/>
<circle cx="29.7" cy="317.0" r="1.34" fill="#d8b818" opacity="0.92"/>
<circle cx="31.9" cy="317.5" r="0.93" fill="#b09a14" opacity="0.78"/>
<circle cx="33.7" cy="319.6" r="1.21" fill="#d8b818" opacity="0.68"/>
<circle cx="35.5" cy="317.3" r="1.02" fill="#e0d020" opacity="0.74"/>
<circle cx="74.4" cy="293.3" r="1.51" fill="#c8b010" opacity="0.76"/>
<circle cx="71.7" cy="295.1" r="1.59" fill="#d0c020" opacity="0.60"/>
<circle cx="71.7" cy="292.8" r="0.88" fill="#f0e848" opacity="0.75"/>
<circle cx="69.4" cy="293.3" r="0.96" fill="#d8c818" opacity="0.59"/>
<circle cx="69.4" cy="289.7" r="1.28" fill="#c8b010" opacity="0.74"/>
<circle cx="71.3" cy="289.9" r="0.83" fill="#c8b010" opacity="0.74"/>
<circle cx="68.2" cy="292.3" r="1.49" fill="#e8e040" opacity="0.85"/>
<circle cx="66.6" cy="290.5" r="0.71" fill="#d8c818" opacity="0.79"/>
<circle cx="66.7" cy="292.0" r="0.78" fill="#e0d020" opacity="0.68"/>
<circle cx="65.5" cy="295.3" r="1.02" fill="#d8c818" opacity="0.61"/>
<circle cx="65.4" cy="294.9" r="1.07" fill="#e8e040" opacity="0.88"/>
<circle cx="70.4" cy="291.8" r="1.02" fill="#f0e848" opacity="0.93"/>
<circle cx="69.6" cy="290.4" r="1.06" fill="#c8b010" opacity="0.69"/>
<circle cx="73.0" cy="297.1" r="1.39" fill="#e0d020" opacity="0.88"/>
<circle cx="67.6" cy="296.6" r="1.11" fill="#c0a818" opacity="0.90"/>
<circle cx="67.7" cy="294.0" r="0.92" fill="#c8b010" opacity="0.80"/>
<circle cx="67.9" cy="291.2" r="1.27" fill="#e8e040" opacity="0.75"/>
<circle cx="66.9" cy="296.4" r="1.10" fill="#f0e848" opacity="0.75"/>
<circle cx="54.8" cy="315.3" r="0.82" fill="#d8c818" opacity="0.84"/>
<circle cx="58.5" cy="315.4" r="1.29" fill="#e8e040" opacity="0.87"/>
<circle cx="60.3" cy="313.2" r="0.81" fill="#d8b818" opacity="0.92"/>
<circle cx="60.3" cy="309.5" r="0.83" fill="#a08812" opacity="0.70"/>
<circle cx="61.0" cy="317.6" r="1.21" fill="#d0c020" opacity="0.72"/>
<circle cx="58.9" cy="311.0" r="0.88" fill="#d8c818" opacity="0.94"/>
<circle cx="58.4" cy="315.6" r="1.23" fill="#c0a818" opacity="0.91"/>
<circle cx="53.3" cy="311.1" r="1.28" fill="#e8e040" opacity="0.61"/>
<circle cx="53.2" cy="316.4" r="1.45" fill="#d0c020" opacity="0.92"/>
<circle cx="60.6" cy="311.7" r="1.03" fill="#e8e040" opacity="0.81"/>
<circle cx="60.5" cy="311.9" r="0.77" fill="#d8c818" opacity="0.73"/>
<circle cx="53.3" cy="317.0" r="1.10" fill="#e8e040" opacity="0.74"/>
<circle cx="58.5" cy="311.8" r="0.63" fill="#b09a14" opacity="0.74"/>
<circle cx="55.1" cy="309.6" r="1.16" fill="#e8e040" opacity="0.62"/>
<circle cx="55.9" cy="315.6" r="0.76" fill="#d8c818" opacity="0.76"/>
<circle cx="54.3" cy="315.4" r="0.87" fill="#d8b818" opacity="0.79"/>
<circle cx="60.1" cy="315.7" r="1.03" fill="#d8b818" opacity="0.82"/>
<circle cx="54.1" cy="314.4" r="0.97" fill="#c0a818" opacity="0.85"/>
<circle cx="94.0" cy="278.6" r="1.26" fill="#a08812" opacity="0.61"/>
<circle cx="88.1" cy="277.6" r="0.97" fill="#d0c020" opacity="0.81"/>
<circle cx="91.1" cy="275.6" r="0.87" fill="#b09a14" opacity="0.57"/>
<circle cx="90.5" cy="275.6" r="1.31" fill="#d8c818" opacity="0.70"/>
<circle cx="91.5" cy="279.0" r="1.21" fill="#c8b010" opacity="0.73"/>
<circle cx="90.2" cy="276.2" r="0.97" fill="#d0c020" opacity="0.59"/>
<circle cx="89.7" cy="278.3" r="1.08" fill="#c0a818" opacity="0.77"/>
<circle cx="89.9" cy="280.8" r="0.77" fill="#b09a14" opacity="0.81"/>
<circle cx="89.8" cy="279.0" r="0.95" fill="#a08812" opacity="0.93"/>
<circle cx="87.1" cy="275.7" r="0.73" fill="#e8e040" opacity="0.92"/>
<circle cx="25.9" cy="286.4" r="1.11" fill="#90d030" opacity="0.74"/>
<circle cx="29.6" cy="288.6" r="0.82" fill="#90d030" opacity="0.76"/>
<circle cx="26.5" cy="289.3" r="0.94" fill="#70c020" opacity="0.78"/>
<circle cx="33.9" cy="291.0" r="0.73" fill="#90d030" opacity="0.58"/>
<circle cx="28.2" cy="287.4" r="0.79" fill="#70c020" opacity="0.59"/>
<circle cx="31.9" cy="290.4" r="0.80" fill="#70c020" opacity="0.61"/>
<circle cx="60.3" cy="305.2" r="1.07" fill="#70c020" opacity="0.65"/>
<circle cx="61.8" cy="302.7" r="0.65" fill="#90d030" opacity="0.59"/>
<circle cx="62.9" cy="298.9" r="0.66" fill="#90d030" opacity="0.92"/>
<circle cx="58.6" cy="301.0" r="0.81" fill="#70c020" opacity="0.64"/>
<circle cx="66.0" cy="299.2" r="0.78" fill="#90d030" opacity="0.60"/>
<circle cx="63.9" cy="301.2" r="0.65" fill="#90d030" opacity="0.90"/>
<circle cx="85.1" cy="281.4" r="0.77" fill="#90d030" opacity="0.88"/>
<circle cx="83.8" cy="281.6" r="1.11" fill="#90d030" opacity="0.60"/>
<circle cx="81.9" cy="286.9" r="0.80" fill="#70c020" opacity="0.76"/>
<circle cx="88.3" cy="283.5" r="0.76" fill="#90d030" opacity="0.72"/>
<circle cx="85.8" cy="283.3" r="0.61" fill="#70c020" opacity="0.70"/>
<circle cx="84.9" cy="284.0" r="0.76" fill="#70c020" opacity="0.57"/>
</g>
<g filter="url(#bl08)">
<circle cx="32.2" cy="275.0" r="0.75" fill="#a08812" opacity="0.82"/>
<circle cx="30.5" cy="278.1" r="0.98" fill="#c8b010" opacity="0.61"/>
<circle cx="28.8" cy="274.6" r="1.10" fill="#a08812" opacity="0.79"/>
<circle cx="35.2" cy="273.5" r="1.28" fill="#d8c818" opacity="0.57"/>
<circle cx="32.3" cy="271.7" r="0.93" fill="#e8e040" opacity="0.71"/>
<circle cx="30.4" cy="273.6" r="1.08" fill="#e0d020" opacity="0.78"/>
<circle cx="31.3" cy="274.0" r="1.31" fill="#e8e040" opacity="0.66"/>
<circle cx="29.7" cy="271.2" r="0.68" fill="#e0d020" opacity="0.85"/>
<circle cx="30.4" cy="274.9" r="1.23" fill="#e0d020" opacity="0.82"/>
<circle cx="30.5" cy="273.3" r="1.16" fill="#d8b818" opacity="0.84"/>
<circle cx="30.9" cy="278.8" r="0.80" fill="#a08812" opacity="0.84"/>
<circle cx="34.0" cy="272.8" r="1.05" fill="#d8b818" opacity="0.65"/>
<circle cx="30.1" cy="276.2" r="0.74" fill="#d8b818" opacity="0.87"/>
<circle cx="29.8" cy="275.9" r="1.29" fill="#a08812" opacity="0.70"/>
<circle cx="25.4" cy="296.5" r="1.39" fill="#e8e040" opacity="0.75"/>
<circle cx="19.5" cy="298.5" r="1.20" fill="#d8c818" opacity="0.86"/>
<circle cx="25.1" cy="301.6" r="0.62" fill="#d8b818" opacity="0.59"/>
<circle cx="24.4" cy="301.0" r="0.66" fill="#d8c818" opacity="0.73"/>
<circle cx="27.2" cy="299.3" r="1.10" fill="#e0d020" opacity="0.82"/>
<circle cx="25.3" cy="297.3" r="1.02" fill="#d0c020" opacity="0.65"/>
<circle cx="22.3" cy="297.9" r="0.76" fill="#c8b010" opacity="0.61"/>
<circle cx="26.6" cy="298.3" r="1.06" fill="#d0c020" opacity="0.78"/>
<circle cx="26.2" cy="298.1" r="1.25" fill="#e8e040" opacity="0.73"/>
<circle cx="22.5" cy="298.5" r="1.02" fill="#c0a818" opacity="0.79"/>
<circle cx="26.6" cy="297.0" r="0.87" fill="#b09a14" opacity="0.58"/>
<circle cx="26.2" cy="299.3" r="0.86" fill="#e8e040" opacity="0.71"/>
<circle cx="23.0" cy="316.6" r="0.97" fill="#d8b818" opacity="0.85"/>
<circle cx="19.7" cy="315.0" r="1.04" fill="#e8e040" opacity="0.60"/>
<circle cx="20.3" cy="316.1" r="0.85" fill="#d0c020" opacity="0.77"/>
<circle cx="17.5" cy="314.9" r="1.11" fill="#d8c818" opacity="0.74"/>
<circle cx="20.6" cy="316.5" r="0.64" fill="#c8b010" opacity="0.60"/>
<circle cx="21.7" cy="313.4" r="1.00" fill="#a08812" opacity="0.82"/>
<circle cx="23.0" cy="317.1" r="0.61" fill="#e8e040" opacity="0.80"/>
<circle cx="18.2" cy="314.1" r="0.74" fill="#c0a818" opacity="0.77"/>
<circle cx="17.8" cy="319.0" r="0.78" fill="#c8b010" opacity="0.59"/>
<circle cx="17.5" cy="313.0" r="0.62" fill="#c8b010" opacity="0.91"/>
<circle cx="52.7" cy="279.9" r="0.72" fill="#e0d020" opacity="0.93"/>
<circle cx="45.0" cy="284.1" r="0.98" fill="#f0e040" opacity="0.67"/>
<circle cx="52.4" cy="277.6" r="1.10" fill="#e0d020" opacity="0.66"/>
<circle cx="47.6" cy="290.1" r="1.27" fill="#d8c818" opacity="0.67"/>
<circle cx="52.1" cy="281.0" r="1.54" fill="#f0e040" opacity="0.84"/>
<circle cx="51.4" cy="281.0" r="1.32" fill="#a08812" opacity="0.57"/>
<circle cx="49.0" cy="284.5" r="0.72" fill="#d0c020" opacity="0.59"/>
<circle cx="48.6" cy="280.1" r="0.75" fill="#e8e040" opacity="0.81"/>
<circle cx="51.2" cy="278.0" r="0.61" fill="#f0e040" opacity="0.86"/>
<circle cx="50.7" cy="278.6" r="0.79" fill="#e0d020" opacity="0.60"/>
<circle cx="46.6" cy="282.5" r="1.44" fill="#e8e040" opacity="0.71"/>
<circle cx="46.3" cy="280.7" r="1.48" fill="#d8b818" opacity="0.88"/>
<circle cx="46.1" cy="277.3" r="0.64" fill="#e0d020" opacity="0.66"/>
<circle cx="51.6" cy="277.0" r="1.31" fill="#c8b010" opacity="0.89"/>
<circle cx="51.1" cy="290.1" r="0.64" fill="#d8c818" opacity="0.66"/>
<circle cx="46.5" cy="282.2" r="1.04" fill="#d8c818" opacity="0.81"/>
<circle cx="46.3" cy="277.4" r="1.14" fill="#b09a14" opacity="0.73"/>
<circle cx="48.7" cy="287.2" r="0.70" fill="#e0d020" opacity="0.75"/>
<circle cx="44.9" cy="285.0" r="0.79" fill="#d8b818" opacity="0.93"/>
<circle cx="49.2" cy="287.9" r="1.45" fill="#d0c020" opacity="0.78"/>
<circle cx="48.7" cy="286.5" r="0.97" fill="#d8c818" opacity="0.92"/>
<circle cx="47.7" cy="287.3" r="1.38" fill="#f0e040" opacity="0.64"/>
<circle cx="48.8" cy="289.0" r="1.37" fill="#d8c818" opacity="0.78"/>
<circle cx="45.8" cy="281.6" r="1.28" fill="#e8e040" opacity="0.80"/>
<circle cx="50.8" cy="289.6" r="1.60" fill="#a08812" opacity="0.82"/>
<circle cx="48.9" cy="284.1" r="0.73" fill="#f0e040" opacity="0.59"/>
<circle cx="51.4" cy="279.3" r="0.92" fill="#e8e040" opacity="0.72"/>
<circle cx="47.4" cy="285.9" r="1.46" fill="#e0d020" opacity="0.67"/>
<circle cx="48.5" cy="286.3" r="0.79" fill="#d0c020" opacity="0.65"/>
<circle cx="50.6" cy="280.3" r="0.60" fill="#e0d020" opacity="0.83"/>
<circle cx="34.1" cy="317.4" r="1.02" fill="#c0a818" opacity="0.81"/>
<circle cx="29.1" cy="318.2" r="0.81" fill="#a08812" opacity="0.64"/>
<circle cx="32.7" cy="315.7" r="1.21" fill="#d0c020" opacity="0.69"/>
<circle cx="32.1" cy="314.1" r="1.27" fill="#a08812" opacity="0.77"/>
<circle cx="34.1" cy="320.1" r="1.19" fill="#e8e040" opacity="0.62"/>
<circle cx="33.9" cy="317.9" r="0.98" fill="#c8b010" opacity="0.78"/>
<circle cx="30.3" cy="317.7" r="0.92" fill="#e0d020" opacity="0.71"/>
<circle cx="34.6" cy="313.6" r="0.83" fill="#a08812" opacity="0.90"/>
<circle cx="31.8" cy="312.1" r="1.18" fill="#e0d020" opacity="0.75"/>
<circle cx="29.4" cy="316.9" r="1.37" fill="#c8b010" opacity="0.77"/>
<circle cx="29.7" cy="317.0" r="1.34" fill="#d8b818" opacity="0.92"/>
<circle cx="31.9" cy="317.5" r="0.93" fill="#b09a14" opacity="0.78"/>
<circle cx="33.7" cy="319.6" r="1.21" fill="#d8b818" opacity="0.68"/>
<circle cx="35.5" cy="317.3" r="1.02" fill="#e0d020" opacity="0.74"/>
<circle cx="74.4" cy="293.3" r="1.51" fill="#c8b010" opacity="0.76"/>
<circle cx="71.7" cy="295.1" r="1.59" fill="#d0c020" opacity="0.60"/>
<circle cx="71.7" cy="292.8" r="0.88" fill="#f0e848" opacity="0.75"/>
<circle cx="69.4" cy="293.3" r="0.96" fill="#d8c818" opacity="0.59"/>
<circle cx="69.4" cy="289.7" r="1.28" fill="#c8b010" opacity="0.74"/>
<circle cx="71.3" cy="289.9" r="0.83" fill="#c8b010" opacity="0.74"/>
<circle cx="68.2" cy="292.3" r="1.49" fill="#e8e040" opacity="0.85"/>
<circle cx="66.6" cy="290.5" r="0.71" fill="#d8c818" opacity="0.79"/>
<circle cx="66.7" cy="292.0" r="0.78" fill="#e0d020" opacity="0.68"/>
<circle cx="65.5" cy="295.3" r="1.02" fill="#d8c818" opacity="0.61"/>
<circle cx="65.4" cy="294.9" r="1.07" fill="#e8e040" opacity="0.88"/>
<circle cx="70.4" cy="291.8" r="1.02" fill="#f0e848" opacity="0.93"/>
<circle cx="69.6" cy="290.4" r="1.06" fill="#c8b010" opacity="0.69"/>
<circle cx="73.0" cy="297.1" r="1.39" fill="#e0d020" opacity="0.88"/>
<circle cx="67.6" cy="296.6" r="1.11" fill="#c0a818" opacity="0.90"/>
<circle cx="67.7" cy="294.0" r="0.92" fill="#c8b010" opacity="0.80"/>
<circle cx="67.9" cy="291.2" r="1.27" fill="#e8e040" opacity="0.75"/>
<circle cx="66.9" cy="296.4" r="1.10" fill="#f0e848" opacity="0.75"/>
<circle cx="54.8" cy="315.3" r="0.82" fill="#d8c818" opacity="0.84"/>
<circle cx="58.5" cy="315.4" r="1.29" fill="#e8e040" opacity="0.87"/>
<circle cx="60.3" cy="313.2" r="0.81" fill="#d8b818" opacity="0.92"/>
<circle cx="60.3" cy="309.5" r="0.83" fill="#a08812" opacity="0.70"/>
<circle cx="61.0" cy="317.6" r="1.21" fill="#d0c020" opacity="0.72"/>
<circle cx="58.9" cy="311.0" r="0.88" fill="#d8c818" opacity="0.94"/>
<circle cx="58.4" cy="315.6" r="1.23" fill="#c0a818" opacity="0.91"/>
<circle cx="53.3" cy="311.1" r="1.28" fill="#e8e040" opacity="0.61"/>
<circle cx="53.2" cy="316.4" r="1.45" fill="#d0c020" opacity="0.92"/>
<circle cx="60.6" cy="311.7" r="1.03" fill="#e8e040" opacity="0.81"/>
<circle cx="60.5" cy="311.9" r="0.77" fill="#d8c818" opacity="0.73"/>
<circle cx="53.3" cy="317.0" r="1.10" fill="#e8e040" opacity="0.74"/>
<circle cx="58.5" cy="311.8" r="0.63" fill="#b09a14" opacity="0.74"/>
<circle cx="55.1" cy="309.6" r="1.16" fill="#e8e040" opacity="0.62"/>
<circle cx="55.9" cy="315.6" r="0.76" fill="#d8c818" opacity="0.76"/>
<circle cx="54.3" cy="315.4" r="0.87" fill="#d8b818" opacity="0.79"/>
<circle cx="60.1" cy="315.7" r="1.03" fill="#d8b818" opacity="0.82"/>
<circle cx="54.1" cy="314.4" r="0.97" fill="#c0a818" opacity="0.85"/>
<circle cx="94.0" cy="278.6" r="1.26" fill="#a08812" opacity="0.61"/>
<circle cx="88.1" cy="277.6" r="0.97" fill="#d0c020" opacity="0.81"/>
<circle cx="91.1" cy="275.6" r="0.87" fill="#b09a14" opacity="0.57"/>
<circle cx="90.5" cy="275.6" r="1.31" fill="#d8c818" opacity="0.70"/>
<circle cx="91.5" cy="279.0" r="1.21" fill="#c8b010" opacity="0.73"/>
<circle cx="90.2" cy="276.2" r="0.97" fill="#d0c020" opacity="0.59"/>
<circle cx="89.7" cy="278.3" r="1.08" fill="#c0a818" opacity="0.77"/>
<circle cx="89.9" cy="280.8" r="0.77" fill="#b09a14" opacity="0.81"/>
<circle cx="89.8" cy="279.0" r="0.95" fill="#a08812" opacity="0.93"/>
<circle cx="87.1" cy="275.7" r="0.73" fill="#e8e040" opacity="0.92"/>
<circle cx="25.9" cy="286.4" r="1.11" fill="#90d030" opacity="0.74"/>
<circle cx="29.6" cy="288.6" r="0.82" fill="#90d030" opacity="0.76"/>
<circle cx="26.5" cy="289.3" r="0.94" fill="#70c020" opacity="0.78"/>
<circle cx="33.9" cy="291.0" r="0.73" fill="#90d030" opacity="0.58"/>
<circle cx="28.2" cy="287.4" r="0.79" fill="#70c020" opacity="0.59"/>
<circle cx="31.9" cy="290.4" r="0.80" fill="#70c020" opacity="0.61"/>
<circle cx="60.3" cy="305.2" r="1.07" fill="#70c020" opacity="0.65"/>
<circle cx="61.8" cy="302.7" r="0.65" fill="#90d030" opacity="0.59"/>
<circle cx="62.9" cy="298.9" r="0.66" fill="#90d030" opacity="0.92"/>
<circle cx="58.6" cy="301.0" r="0.81" fill="#70c020" opacity="0.64"/>
<circle cx="66.0" cy="299.2" r="0.78" fill="#90d030" opacity="0.60"/>
<circle cx="63.9" cy="301.2" r="0.65" fill="#90d030" opacity="0.90"/>
<circle cx="85.1" cy="281.4" r="0.77" fill="#90d030" opacity="0.88"/>
<circle cx="83.8" cy="281.6" r="1.11" fill="#90d030" opacity="0.60"/>
<circle cx="81.9" cy="286.9" r="0.80" fill="#70c020" opacity="0.76"/>
<circle cx="88.3" cy="283.5" r="0.76" fill="#90d030" opacity="0.72"/>
<circle cx="85.8" cy="283.3" r="0.61" fill="#70c020" opacity="0.70"/>
<circle cx="84.9" cy="284.0" r="0.76" fill="#70c020" opacity="0.57"/>
</g>
</g>
<g clip-path="url(#cD4)">
<path d="M92,274.4 C100,273 106,272 112.1,272.1 C120,272 128,273 134.9,274.4 C145,277 150,279 157.6,282.4 C163,285 168,287 176,289.2 L176,318 C170,317 167,316 163.3,314.3 C155,312 148,310 140.6,308.6 C132,306 125,303 117.8,302.9 L92,302.9 Z" fill="#46480e" filter="url(#bl2)"/>
<ellipse cx="116" cy="284" rx="14" ry="9" fill="#4a6412" opacity="0.7" filter="url(#bl3)"/>
<ellipse cx="150" cy="300" rx="14" ry="7" fill="#4a5010" opacity="0.6" filter="url(#bl3)"/>
<ellipse cx="144" cy="308.6" rx="2" ry="2" fill="#a07014" filter="url(#bl1)"/>
<ellipse cx="117" cy="291" rx="4" ry="4" fill="#55580f" stroke="#707814" stroke-width="1.2" opacity="0.7" filter="url(#bl1)"/>
<g filter="url(#bl2)" opacity="0.55">
<circle cx="119.4" cy="277.4" r="0.89" fill="#e0e840" opacity="0.80"/>
<circle cx="109.6" cy="279.7" r="0.83" fill="#e0e840" opacity="0.61"/>
<circle cx="119.7" cy="279.8" r="1.09" fill="#b0c018" opacity="0.72"/>
<circle cx="113.0" cy="278.8" r="1.47" fill="#d8e030" opacity="0.83"/>
<circle cx="115.5" cy="279.7" r="1.16" fill="#a8b018" opacity="0.77"/>
<circle cx="120.3" cy="281.5" r="1.13" fill="#a8b018" opacity="0.92"/>
<circle cx="110.1" cy="279.4" r="1.00" fill="#a8b018" opacity="0.63"/>
<circle cx="116.8" cy="277.4" r="1.30" fill="#e0e840" opacity="0.61"/>
<circle cx="117.7" cy="281.4" r="1.05" fill="#b0c018" opacity="0.66"/>
<circle cx="119.0" cy="281.8" r="1.32" fill="#b0c018" opacity="0.94"/>
<circle cx="114.8" cy="279.3" r="1.44" fill="#a8b018" opacity="0.93"/>
<circle cx="116.4" cy="276.7" r="1.08" fill="#b0c018" opacity="0.63"/>
<circle cx="117.0" cy="278.8" r="1.07" fill="#e0e840" opacity="0.62"/>
<circle cx="116.7" cy="279.5" r="0.85" fill="#e0e840" opacity="0.73"/>
<circle cx="118.9" cy="292.0" r="1.28" fill="#c8d020" opacity="0.92"/>
<circle cx="117.6" cy="290.7" r="1.17" fill="#e0e840" opacity="0.80"/>
<circle cx="120.2" cy="294.9" r="0.83" fill="#d8e030" opacity="0.61"/>
<circle cx="120.9" cy="292.8" r="1.16" fill="#b0c018" opacity="0.94"/>
<circle cx="120.1" cy="292.3" r="1.40" fill="#a8b018" opacity="0.86"/>
<circle cx="121.3" cy="293.2" r="1.36" fill="#d8e030" opacity="0.63"/>
<circle cx="105.7" cy="299.3" r="1.37" fill="#a8b018" opacity="0.83"/>
<circle cx="102.1" cy="298.3" r="1.33" fill="#c8d020" opacity="0.91"/>
<circle cx="106.9" cy="298.1" r="1.27" fill="#b0c018" opacity="0.83"/>
<circle cx="101.9" cy="298.7" r="0.85" fill="#e0e840" opacity="0.84"/>
<circle cx="105.4" cy="298.2" r="0.94" fill="#e0e840" opacity="0.74"/>
<circle cx="144.4" cy="298.9" r="0.94" fill="#e0e840" opacity="0.92"/>
<circle cx="144.5" cy="293.7" r="1.67" fill="#e8f050" opacity="0.79"/>
<circle cx="136.1" cy="299.7" r="1.40" fill="#e8f050" opacity="0.80"/>
<circle cx="143.3" cy="298.0" r="1.12" fill="#b0c018" opacity="0.81"/>
<circle cx="144.7" cy="297.4" r="0.85" fill="#e0e840" opacity="0.80"/>
<circle cx="140.0" cy="292.6" r="1.35" fill="#e8f050" opacity="0.63"/>
<circle cx="144.5" cy="295.8" r="0.86" fill="#e8f050" opacity="0.89"/>
<circle cx="141.6" cy="300.2" r="1.50" fill="#d8e030" opacity="0.75"/>
<circle cx="145.3" cy="296.1" r="0.81" fill="#b0c018" opacity="0.92"/>
<circle cx="135.2" cy="297.6" r="1.08" fill="#c8d020" opacity="0.83"/>
<circle cx="135.7" cy="295.2" r="1.16" fill="#c8d020" opacity="0.60"/>
<circle cx="140.6" cy="295.7" r="0.84" fill="#a8b018" opacity="0.94"/>
<circle cx="136.8" cy="297.3" r="1.00" fill="#c8d020" opacity="0.77"/>
<circle cx="139.5" cy="298.7" r="1.11" fill="#a8b018" opacity="0.80"/>
<circle cx="156.8" cy="304.7" r="1.17" fill="#b0c018" opacity="0.93"/>
<circle cx="157.5" cy="308.7" r="1.70" fill="#d8e030" opacity="0.90"/>
<circle cx="151.7" cy="308.2" r="1.56" fill="#a8b018" opacity="0.86"/>
<circle cx="151.9" cy="306.6" r="1.36" fill="#a8b018" opacity="0.75"/>
<circle cx="153.9" cy="304.3" r="1.67" fill="#c8d020" opacity="0.94"/>
<circle cx="154.0" cy="302.1" r="1.40" fill="#b0c018" opacity="0.61"/>
<circle cx="152.0" cy="305.6" r="1.18" fill="#e8f050" opacity="0.94"/>
<circle cx="155.6" cy="303.4" r="1.47" fill="#e8f050" opacity="0.67"/>
<circle cx="155.7" cy="302.2" r="0.89" fill="#e8f050" opacity="0.62"/>
<circle cx="134.3" cy="292.4" r="0.50" fill="#8a9a18" opacity="0.59"/>
<circle cx="129.9" cy="291.1" r="0.51" fill="#9aa818" opacity="0.58"/>
<circle cx="130.5" cy="298.8" r="0.84" fill="#8a9a18" opacity="0.69"/>
<circle cx="123.5" cy="290.6" r="0.86" fill="#8a9a18" opacity="0.73"/>
<circle cx="130.5" cy="288.4" r="0.64" fill="#9aa818" opacity="0.70"/>
<circle cx="135.4" cy="289.9" r="0.60" fill="#8a9a18" opacity="0.61"/>
<circle cx="135.5" cy="291.8" r="0.74" fill="#8a9a18" opacity="0.84"/>
<circle cx="126.7" cy="290.2" r="1.00" fill="#9aa818" opacity="0.66"/>
<circle cx="124.4" cy="286.4" r="0.51" fill="#9aa818" opacity="0.79"/>
<circle cx="128.3" cy="292.8" r="0.94" fill="#9aa818" opacity="0.88"/>
<circle cx="130.6" cy="285.6" r="0.51" fill="#8a9a18" opacity="0.66"/>
<circle cx="122.5" cy="289.2" r="0.93" fill="#8a9a18" opacity="0.66"/>
<circle cx="130.8" cy="284.8" r="0.68" fill="#8a9a18" opacity="0.60"/>
<circle cx="137.6" cy="289.7" r="0.54" fill="#9aa818" opacity="0.59"/>
</g>
<g filter="url(#bl08)">
<circle cx="119.4" cy="277.4" r="0.89" fill="#e0e840" opacity="0.80"/>
<circle cx="109.6" cy="279.7" r="0.83" fill="#e0e840" opacity="0.61"/>
<circle cx="119.7" cy="279.8" r="1.09" fill="#b0c018" opacity="0.72"/>
<circle cx="113.0" cy="278.8" r="1.47" fill="#d8e030" opacity="0.83"/>
<circle cx="115.5" cy="279.7" r="1.16" fill="#a8b018" opacity="0.77"/>
<circle cx="120.3" cy="281.5" r="1.13" fill="#a8b018" opacity="0.92"/>
<circle cx="110.1" cy="279.4" r="1.00" fill="#a8b018" opacity="0.63"/>
<circle cx="116.8" cy="277.4" r="1.30" fill="#e0e840" opacity="0.61"/>
<circle cx="117.7" cy="281.4" r="1.05" fill="#b0c018" opacity="0.66"/>
<circle cx="119.0" cy="281.8" r="1.32" fill="#b0c018" opacity="0.94"/>
<circle cx="114.8" cy="279.3" r="1.44" fill="#a8b018" opacity="0.93"/>
<circle cx="116.4" cy="276.7" r="1.08" fill="#b0c018" opacity="0.63"/>
<circle cx="117.0" cy="278.8" r="1.07" fill="#e0e840" opacity="0.62"/>
<circle cx="116.7" cy="279.5" r="0.85" fill="#e0e840" opacity="0.73"/>
<circle cx="118.9" cy="292.0" r="1.28" fill="#c8d020" opacity="0.92"/>
<circle cx="117.6" cy="290.7" r="1.17" fill="#e0e840" opacity="0.80"/>
<circle cx="120.2" cy="294.9" r="0.83" fill="#d8e030" opacity="0.61"/>
<circle cx="120.9" cy="292.8" r="1.16" fill="#b0c018" opacity="0.94"/>
<circle cx="120.1" cy="292.3" r="1.40" fill="#a8b018" opacity="0.86"/>
<circle cx="121.3" cy="293.2" r="1.36" fill="#d8e030" opacity="0.63"/>
<circle cx="105.7" cy="299.3" r="1.37" fill="#a8b018" opacity="0.83"/>
<circle cx="102.1" cy="298.3" r="1.33" fill="#c8d020" opacity="0.91"/>
<circle cx="106.9" cy="298.1" r="1.27" fill="#b0c018" opacity="0.83"/>
<circle cx="101.9" cy="298.7" r="0.85" fill="#e0e840" opacity="0.84"/>
<circle cx="105.4" cy="298.2" r="0.94" fill="#e0e840" opacity="0.74"/>
<circle cx="144.4" cy="298.9" r="0.94" fill="#e0e840" opacity="0.92"/>
<circle cx="144.5" cy="293.7" r="1.67" fill="#e8f050" opacity="0.79"/>
<circle cx="136.1" cy="299.7" r="1.40" fill="#e8f050" opacity="0.80"/>
<circle cx="143.3" cy="298.0" r="1.12" fill="#b0c018" opacity="0.81"/>
<circle cx="144.7" cy="297.4" r="0.85" fill="#e0e840" opacity="0.80"/>
<circle cx="140.0" cy="292.6" r="1.35" fill="#e8f050" opacity="0.63"/>
<circle cx="144.5" cy="295.8" r="0.86" fill="#e8f050" opacity="0.89"/>
<circle cx="141.6" cy="300.2" r="1.50" fill="#d8e030" opacity="0.75"/>
<circle cx="145.3" cy="296.1" r="0.81" fill="#b0c018" opacity="0.92"/>
<circle cx="135.2" cy="297.6" r="1.08" fill="#c8d020" opacity="0.83"/>
<circle cx="135.7" cy="295.2" r="1.16" fill="#c8d020" opacity="0.60"/>
<circle cx="140.6" cy="295.7" r="0.84" fill="#a8b018" opacity="0.94"/>
<circle cx="136.8" cy="297.3" r="1.00" fill="#c8d020" opacity="0.77"/>
<circle cx="139.5" cy="298.7" r="1.11" fill="#a8b018" opacity="0.80"/>
<circle cx="156.8" cy="304.7" r="1.17" fill="#b0c018" opacity="0.93"/>
<circle cx="157.5" cy="308.7" r="1.70" fill="#d8e030" opacity="0.90"/>
<circle cx="151.7" cy="308.2" r="1.56" fill="#a8b018" opacity="0.86"/>
<circle cx="151.9" cy="306.6" r="1.36" fill="#a8b018" opacity="0.75"/>
<circle cx="153.9" cy="304.3" r="1.67" fill="#c8d020" opacity="0.94"/>
<circle cx="154.0" cy="302.1" r="1.40" fill="#b0c018" opacity="0.61"/>
<circle cx="152.0" cy="305.6" r="1.18" fill="#e8f050" opacity="0.94"/>
<circle cx="155.6" cy="303.4" r="1.47" fill="#e8f050" opacity="0.67"/>
<circle cx="155.7" cy="302.2" r="0.89" fill="#e8f050" opacity="0.62"/>
<circle cx="134.3" cy="292.4" r="0.50" fill="#8a9a18" opacity="0.59"/>
<circle cx="129.9" cy="291.1" r="0.51" fill="#9aa818" opacity="0.58"/>
<circle cx="130.5" cy="298.8" r="0.84" fill="#8a9a18" opacity="0.69"/>
<circle cx="123.5" cy="290.6" r="0.86" fill="#8a9a18" opacity="0.73"/>
<circle cx="130.5" cy="288.4" r="0.64" fill="#9aa818" opacity="0.70"/>
<circle cx="135.4" cy="289.9" r="0.60" fill="#8a9a18" opacity="0.61"/>
<circle cx="135.5" cy="291.8" r="0.74" fill="#8a9a18" opacity="0.84"/>
<circle cx="126.7" cy="290.2" r="1.00" fill="#9aa818" opacity="0.66"/>
<circle cx="124.4" cy="286.4" r="0.51" fill="#9aa818" opacity="0.79"/>
<circle cx="128.3" cy="292.8" r="0.94" fill="#9aa818" opacity="0.88"/>
<circle cx="130.6" cy="285.6" r="0.51" fill="#8a9a18" opacity="0.66"/>
<circle cx="122.5" cy="289.2" r="0.93" fill="#8a9a18" opacity="0.66"/>
<circle cx="130.8" cy="284.8" r="0.68" fill="#8a9a18" opacity="0.60"/>
<circle cx="137.6" cy="289.7" r="0.54" fill="#9aa818" opacity="0.59"/>
</g>
</g>
<rect x="94" y="205.2" width="1" height="115.8" fill="#d0d0d0"/>
<rect x="17" y="262.7" width="155.4" height="1.2" fill="#d6d6d6"/>
<rect x="153.2" y="315.4" width="13.7" height="1.6" fill="#ececec"/>
<path d="M24.79,272.01 L28.43,278.12 L29.93,277.22 L30.00,283.00 L24.95,280.19 L26.45,279.29 L22.81,273.19 Z" fill="#fff" filter="url(#bl03)"/>
<path d="M77.06,317.68 L71.67,313.11 L70.54,314.45 L68.60,309.00 L74.29,310.02 L73.16,311.36 L78.54,315.92 Z" fill="#fff" filter="url(#bl03)"/></g>
<text x="31.60" y="22.30" font-size="9.1">control</text>
<text x="63.40" y="22.30" font-size="9.3">RNAi</text>
<text x="111.30" y="22.30" font-size="9.3"><tspan font-style="italic">elo-3</tspan></text>
<text x="134.60" y="22.30" font-size="9.3">RNAi</text>
<text x="14.90" y="53.00" font-size="9.3" text-anchor="middle" transform="rotate(-90 14.90 53.00)">WT</text>
<text x="14.10" y="111.20" font-size="9.3" text-anchor="middle" transform="rotate(-90 14.10 111.20)"><tspan font-style="italic">glp-1</tspan></text>
<text x="185.90" y="86.60" font-size="9.7" text-anchor="middle" transform="rotate(-90 185.90 86.60)"><tspan font-style="italic">gst-4p</tspan>::GFP</text>
<line x1="229.30" y1="50.00" x2="229.30" y2="133.10" stroke="#1a1a1a" stroke-width="1.2"/>
<line x1="222.50" y1="133.10" x2="299.90" y2="133.10" stroke="#1a1a1a" stroke-width="1.2"/>
<line x1="222.50" y1="133.10" x2="229.30" y2="133.10" stroke="#1a1a1a" stroke-width="1.2"/>
<text x="220.40" y="136.70" font-size="10" text-anchor="end">0</text>
<line x1="222.50" y1="112.45" x2="229.30" y2="112.45" stroke="#1a1a1a" stroke-width="1.2"/>
<text x="220.40" y="116.05" font-size="10" text-anchor="end">1</text>
<line x1="222.50" y1="91.80" x2="229.30" y2="91.80" stroke="#1a1a1a" stroke-width="1.2"/>
<text x="220.40" y="95.40" font-size="10" text-anchor="end">2</text>
<line x1="222.50" y1="71.15" x2="229.30" y2="71.15" stroke="#1a1a1a" stroke-width="1.2"/>
<text x="220.40" y="74.75" font-size="10" text-anchor="end">3</text>
<line x1="222.50" y1="50.50" x2="229.30" y2="50.50" stroke="#1a1a1a" stroke-width="1.2"/>
<text x="220.40" y="54.10" font-size="10" text-anchor="end">4</text>
<line x1="245.10" y1="133.10" x2="245.10" y2="136.40" stroke="#1a1a1a" stroke-width="1.1"/>
<line x1="283.10" y1="133.10" x2="283.10" y2="136.40" stroke="#1a1a1a" stroke-width="1.1"/>
<text x="210.20" y="95.50" font-size="8.9" text-anchor="middle" transform="rotate(-90 210.20 95.50)">Relative GFP levels</text>
<text x="245.20" y="147.40" font-size="9.3" text-anchor="middle">WT</text>
<text x="282.30" y="147.40" font-size="9.3" text-anchor="middle"><tspan font-style="italic">g<tspan dx="0.8">l</tspan><tspan dx="0.8">p</tspan>-1</tspan></text>
<circle cx="229.70" cy="24.80" r="1.7" fill="#000"/>
<circle cx="229.70" cy="34.10" r="1.7" fill="#1b8ca6"/>
<text x="234.60" y="27.00" font-size="9.1">control RNAi</text>
<text x="234.60" y="36.40" font-size="9.1"><tspan font-style="italic">elo-3</tspan> RNAi</text>
<circle cx="238.90" cy="111.44" r="1.45" fill="#000"/>
<circle cx="241.70" cy="111.43" r="1.45" fill="#000"/>
<circle cx="236.10" cy="111.63" r="1.45" fill="#000"/>
<circle cx="240.18" cy="111.15" r="1.45" fill="#000"/>
<circle cx="237.73" cy="111.15" r="1.45" fill="#000"/>
<circle cx="239.34" cy="111.05" r="1.45" fill="#000"/>
<circle cx="234.88" cy="111.84" r="1.45" fill="#000"/>
<circle cx="234.85" cy="110.80" r="1.45" fill="#000"/>
<circle cx="236.19" cy="110.78" r="1.45" fill="#000"/>
<circle cx="240.56" cy="110.76" r="1.45" fill="#000"/>
<circle cx="238.23" cy="110.73" r="1.45" fill="#000"/>
<circle cx="237.19" cy="110.61" r="1.45" fill="#000"/>
<circle cx="239.69" cy="112.60" r="1.45" fill="#000"/>
<circle cx="238.47" cy="113.15" r="1.45" fill="#000"/>
<circle cx="237.06" cy="113.20" r="1.45" fill="#000"/>
<circle cx="241.61" cy="109.62" r="1.45" fill="#000"/>
<circle cx="240.73" cy="113.30" r="1.45" fill="#000"/>
<circle cx="243.45" cy="113.49" r="1.45" fill="#000"/>
<circle cx="236.55" cy="109.02" r="1.45" fill="#000"/>
<circle cx="239.58" cy="114.00" r="1.45" fill="#000"/>
<circle cx="239.13" cy="108.78" r="1.45" fill="#000"/>
<circle cx="242.35" cy="108.50" r="1.45" fill="#000"/>
<circle cx="234.70" cy="114.57" r="1.45" fill="#000"/>
<circle cx="241.01" cy="114.63" r="1.45" fill="#000"/>
<circle cx="236.95" cy="115.39" r="1.45" fill="#000"/>
<circle cx="243.32" cy="115.52" r="1.45" fill="#000"/>
<circle cx="235.05" cy="106.78" r="1.45" fill="#000"/>
<circle cx="238.90" cy="117.95" r="1.45" fill="#000"/>
<circle cx="241.70" cy="118.04" r="1.45" fill="#000"/>
<circle cx="236.10" cy="118.21" r="1.45" fill="#000"/>
<circle cx="238.90" cy="104.19" r="1.45" fill="#000"/>
<circle cx="234.35" cy="120.30" r="1.45" fill="#000"/>
<circle cx="252.60" cy="122.94" r="1.45" fill="#1b8ca6"/>
<circle cx="255.40" cy="122.99" r="1.45" fill="#1b8ca6"/>
<circle cx="249.80" cy="122.80" r="1.45" fill="#1b8ca6"/>
<circle cx="254.15" cy="122.74" r="1.45" fill="#1b8ca6"/>
<circle cx="248.21" cy="123.16" r="1.45" fill="#1b8ca6"/>
<circle cx="252.25" cy="123.26" r="1.45" fill="#1b8ca6"/>
<circle cx="249.55" cy="122.53" r="1.45" fill="#1b8ca6"/>
<circle cx="249.08" cy="123.55" r="1.45" fill="#1b8ca6"/>
<circle cx="248.54" cy="122.32" r="1.45" fill="#1b8ca6"/>
<circle cx="255.07" cy="122.31" r="1.45" fill="#1b8ca6"/>
<circle cx="249.19" cy="123.60" r="1.45" fill="#1b8ca6"/>
<circle cx="250.28" cy="123.88" r="1.45" fill="#1b8ca6"/>
<circle cx="251.60" cy="124.09" r="1.45" fill="#1b8ca6"/>
<circle cx="256.02" cy="124.23" r="1.45" fill="#1b8ca6"/>
<circle cx="248.74" cy="121.29" r="1.45" fill="#1b8ca6"/>
<circle cx="252.13" cy="124.62" r="1.45" fill="#1b8ca6"/>
<circle cx="253.05" cy="120.91" r="1.45" fill="#1b8ca6"/>
<circle cx="256.13" cy="120.78" r="1.45" fill="#1b8ca6"/>
<circle cx="255.54" cy="125.21" r="1.45" fill="#1b8ca6"/>
<circle cx="255.95" cy="125.42" r="1.45" fill="#1b8ca6"/>
<circle cx="250.56" cy="120.37" r="1.45" fill="#1b8ca6"/>
<circle cx="251.82" cy="120.16" r="1.45" fill="#1b8ca6"/>
<circle cx="248.05" cy="126.14" r="1.45" fill="#1b8ca6"/>
<circle cx="251.30" cy="126.17" r="1.45" fill="#1b8ca6"/>
<circle cx="256.13" cy="119.43" r="1.45" fill="#1b8ca6"/>
<circle cx="256.81" cy="126.91" r="1.45" fill="#1b8ca6"/>
<circle cx="248.40" cy="118.53" r="1.45" fill="#1b8ca6"/>
<circle cx="252.60" cy="116.99" r="1.45" fill="#1b8ca6"/>
<circle cx="276.00" cy="80.10" r="1.45" fill="#000"/>
<circle cx="278.80" cy="80.65" r="1.45" fill="#000"/>
<circle cx="273.20" cy="79.26" r="1.45" fill="#000"/>
<circle cx="272.93" cy="81.49" r="1.45" fill="#000"/>
<circle cx="277.75" cy="77.87" r="1.45" fill="#000"/>
<circle cx="276.00" cy="82.88" r="1.45" fill="#000"/>
<circle cx="274.95" cy="77.03" r="1.45" fill="#000"/>
<circle cx="272.15" cy="76.49" r="1.45" fill="#000"/>
<circle cx="278.80" cy="83.72" r="1.45" fill="#000"/>
<circle cx="273.55" cy="84.27" r="1.45" fill="#000"/>
<circle cx="279.50" cy="75.64" r="1.45" fill="#000"/>
<circle cx="273.15" cy="85.11" r="1.45" fill="#000"/>
<circle cx="276.70" cy="74.80" r="1.45" fill="#000"/>
<circle cx="276.00" cy="85.95" r="1.45" fill="#000"/>
<circle cx="273.90" cy="74.26" r="1.45" fill="#000"/>
<circle cx="278.80" cy="86.50" r="1.45" fill="#000"/>
<circle cx="273.64" cy="73.41" r="1.45" fill="#000"/>
<circle cx="273.65" cy="87.34" r="1.45" fill="#000"/>
<circle cx="276.00" cy="72.03" r="1.45" fill="#000"/>
<circle cx="276.00" cy="88.73" r="1.45" fill="#000"/>
<circle cx="278.80" cy="71.18" r="1.45" fill="#000"/>
<circle cx="273.55" cy="70.64" r="1.45" fill="#000"/>
<circle cx="278.80" cy="89.57" r="1.45" fill="#000"/>
<circle cx="273.55" cy="90.11" r="1.45" fill="#000"/>
<circle cx="275.87" cy="69.80" r="1.45" fill="#000"/>
<circle cx="276.78" cy="90.96" r="1.45" fill="#000"/>
<circle cx="273.91" cy="68.95" r="1.45" fill="#000"/>
<circle cx="271.64" cy="91.80" r="1.45" fill="#000"/>
<circle cx="278.45" cy="68.41" r="1.45" fill="#000"/>
<circle cx="275.29" cy="67.57" r="1.45" fill="#000"/>
<circle cx="276.00" cy="93.87" r="1.45" fill="#000"/>
<circle cx="276.00" cy="98.41" r="1.45" fill="#000"/>
<circle cx="276.00" cy="60.41" r="1.45" fill="#000"/>
<circle cx="276.00" cy="57.11" r="1.45" fill="#000"/>
<circle cx="276.00" cy="104.60" r="1.45" fill="#000"/>
<circle cx="290.40" cy="121.17" r="1.45" fill="#1b8ca6"/>
<circle cx="293.20" cy="121.03" r="1.45" fill="#1b8ca6"/>
<circle cx="287.60" cy="121.43" r="1.45" fill="#1b8ca6"/>
<circle cx="285.84" cy="121.45" r="1.45" fill="#1b8ca6"/>
<circle cx="293.99" cy="121.74" r="1.45" fill="#1b8ca6"/>
<circle cx="291.50" cy="120.57" r="1.45" fill="#1b8ca6"/>
<circle cx="287.03" cy="120.56" r="1.45" fill="#1b8ca6"/>
<circle cx="288.02" cy="120.55" r="1.45" fill="#1b8ca6"/>
<circle cx="288.93" cy="120.44" r="1.45" fill="#1b8ca6"/>
<circle cx="289.10" cy="122.02" r="1.45" fill="#1b8ca6"/>
<circle cx="286.78" cy="122.05" r="1.45" fill="#1b8ca6"/>
<circle cx="293.75" cy="122.11" r="1.45" fill="#1b8ca6"/>
<circle cx="295.13" cy="120.16" r="1.45" fill="#1b8ca6"/>
<circle cx="290.07" cy="122.36" r="1.45" fill="#1b8ca6"/>
<circle cx="290.24" cy="119.97" r="1.45" fill="#1b8ca6"/>
<circle cx="286.42" cy="119.79" r="1.45" fill="#1b8ca6"/>
<circle cx="286.58" cy="122.66" r="1.45" fill="#1b8ca6"/>
<circle cx="288.89" cy="119.41" r="1.45" fill="#1b8ca6"/>
<circle cx="288.14" cy="119.14" r="1.45" fill="#1b8ca6"/>
<circle cx="293.56" cy="123.37" r="1.45" fill="#1b8ca6"/>
<circle cx="287.15" cy="118.84" r="1.45" fill="#1b8ca6"/>
<circle cx="285.82" cy="123.56" r="1.45" fill="#1b8ca6"/>
<circle cx="294.73" cy="118.72" r="1.45" fill="#1b8ca6"/>
<circle cx="290.67" cy="123.86" r="1.45" fill="#1b8ca6"/>
<circle cx="287.01" cy="124.36" r="1.45" fill="#1b8ca6"/>
<circle cx="290.81" cy="124.59" r="1.45" fill="#1b8ca6"/>
<circle cx="290.40" cy="116.99" r="1.45" fill="#1b8ca6"/>
<circle cx="289.35" cy="126.91" r="1.45" fill="#1b8ca6"/>
<line x1="247.60" y1="122.36" x2="257.60" y2="122.36" stroke="#222" stroke-width="0.9"/>
<line x1="285.40" y1="121.74" x2="295.40" y2="121.74" stroke="#222" stroke-width="0.9"/>
<polyline points="238.30,99.90 238.30,92.60 253.50,92.60 253.50,113.40" fill="none" stroke="#1a1a1a" stroke-width="1.1" stroke-linejoin="round"/>
<text x="245.00" y="91.88" font-size="8.7" text-anchor="middle">***</text>
<polyline points="275.40,54.60 275.40,46.90 290.60,46.90 290.60,116.40" fill="none" stroke="#1a1a1a" stroke-width="1.1" stroke-linejoin="round"/>
<text x="282.60" y="46.28" font-size="8.7" text-anchor="middle">***</text>
<line x1="369.60" y1="43.10" x2="369.60" y2="134.20" stroke="#1a1a1a" stroke-width="1.2"/>
<line x1="363.40" y1="134.20" x2="569.90" y2="134.20" stroke="#1a1a1a" stroke-width="1.2"/>
<line x1="363.40" y1="134.20" x2="369.60" y2="134.20" stroke="#1a1a1a" stroke-width="1.2"/>
<text x="360.50" y="137.80" font-size="10" text-anchor="end">0</text>
<line x1="363.40" y1="111.55" x2="369.60" y2="111.55" stroke="#1a1a1a" stroke-width="1.2"/>
<text x="360.50" y="115.15" font-size="10" text-anchor="end">10</text>
<line x1="363.40" y1="88.90" x2="369.60" y2="88.90" stroke="#1a1a1a" stroke-width="1.2"/>
<text x="360.50" y="92.50" font-size="10" text-anchor="end">20</text>
<line x1="363.40" y1="66.25" x2="369.60" y2="66.25" stroke="#1a1a1a" stroke-width="1.2"/>
<text x="360.50" y="69.85" font-size="10" text-anchor="end">30</text>
<line x1="363.40" y1="43.60" x2="369.60" y2="43.60" stroke="#1a1a1a" stroke-width="1.2"/>
<text x="360.50" y="47.20" font-size="10" text-anchor="end">40</text>
<text x="341.80" y="91.80" font-size="9.15" text-anchor="middle" transform="rotate(-90 341.80 91.80)">Relative mRNA levels</text>
<rect x="371.60" y="18.00" width="8.60" height="8.60" fill="none" stroke="#1a1a1a" stroke-width="1.1"/>
<rect x="371.60" y="31.20" width="8.60" height="8.60" fill="url(#hatchK)" stroke="#1a1a1a" stroke-width="1.1"/>
<rect x="474.60" y="19.10" width="8.00" height="7.90" fill="none" stroke="#1b8ca6" stroke-width="1.1"/>
<rect x="474.60" y="32.30" width="8.00" height="7.90" fill="url(#hatchT)" stroke="#1b8ca6" stroke-width="1.1"/>
<text x="386.00" y="26.20" font-size="9.2">WT+control RNAi</text>
<text x="386.00" y="38.80" font-size="9.2"><tspan font-style="italic">glp-1</tspan>+control RNAi</text>
<text x="488.60" y="26.20" font-size="9.2">WT+<tspan font-style="italic">elo-3</tspan> RNAi</text>
<text x="488.60" y="38.60" font-size="9.2"><tspan font-style="italic">glp-1</tspan>+<tspan font-style="italic">elo-3</tspan> RNAi</text>
<line x1="400.90" y1="134.20" x2="400.90" y2="138.00" stroke="#1a1a1a" stroke-width="1.1"/>
<text x="401.40" y="147.90" font-size="9.3" text-anchor="middle" font-style="italic">gcs-1</text>
<rect x="374.40" y="131.94" width="10.00" height="2.26" fill="#fff" stroke="#1a1a1a" stroke-width="1.2"/>
<circle cx="376.40" cy="131.74" r="1.15" fill="#111"/>
<circle cx="379.40" cy="131.74" r="1.15" fill="#111"/>
<circle cx="382.40" cy="131.74" r="1.15" fill="#111"/>
<rect x="388.90" y="132.16" width="10.00" height="2.04" fill="#fff" stroke="#1b8ca6" stroke-width="1.2"/>
<circle cx="390.90" cy="131.96" r="1.15" fill="#111"/>
<circle cx="393.90" cy="131.96" r="1.15" fill="#111"/>
<circle cx="396.90" cy="131.96" r="1.15" fill="#111"/>
<rect x="403.60" y="126.95" width="10.00" height="7.25" fill="url(#hatchK)" stroke="#1a1a1a" stroke-width="1.2"/>
<circle cx="407.80" cy="126.27" r="1.3" fill="#111"/>
<circle cx="409.40" cy="126.95" r="1.3" fill="#111"/>
<circle cx="408.60" cy="127.63" r="1.3" fill="#111"/>
<rect x="418.10" y="130.58" width="10.00" height="3.62" fill="url(#hatchT)" stroke="#1b8ca6" stroke-width="1.2"/>
<circle cx="420.10" cy="130.15" r="1.15" fill="#111"/>
<circle cx="423.10" cy="130.60" r="1.15" fill="#111"/>
<circle cx="426.10" cy="130.38" r="1.15" fill="#111"/>
<line x1="469.40" y1="134.20" x2="469.40" y2="138.00" stroke="#1a1a1a" stroke-width="1.1"/>
<text x="469.90" y="147.90" font-size="9.3" text-anchor="middle" font-style="italic">gst-5</text>
<rect x="442.90" y="131.94" width="10.00" height="2.26" fill="#fff" stroke="#1a1a1a" stroke-width="1.2"/>
<circle cx="444.90" cy="131.74" r="1.15" fill="#111"/>
<circle cx="447.90" cy="131.74" r="1.15" fill="#111"/>
<circle cx="450.90" cy="131.74" r="1.15" fill="#111"/>
<rect x="457.40" y="133.52" width="10.00" height="0.68" fill="#fff" stroke="#1b8ca6" stroke-width="1.2"/>
<circle cx="459.40" cy="133.32" r="1.15" fill="#111"/>
<circle cx="462.40" cy="133.32" r="1.15" fill="#111"/>
<circle cx="465.40" cy="133.32" r="1.15" fill="#111"/>
<rect x="472.10" y="120.16" width="10.00" height="14.04" fill="url(#hatchK)" stroke="#1a1a1a" stroke-width="1.2"/>
<circle cx="477.90" cy="119.93" r="1.3" fill="#111"/>
<circle cx="477.10" cy="121.06" r="1.3" fill="#111"/>
<rect x="486.60" y="128.08" width="10.00" height="6.12" fill="url(#hatchT)" stroke="#1b8ca6" stroke-width="1.2"/>
<circle cx="490.80" cy="127.18" r="1.3" fill="#111"/>
<circle cx="492.40" cy="128.08" r="1.3" fill="#111"/>
<circle cx="491.60" cy="128.99" r="1.3" fill="#111"/>
<line x1="537.70" y1="134.20" x2="537.70" y2="138.00" stroke="#1a1a1a" stroke-width="1.1"/>
<text x="538.20" y="147.90" font-size="9.3" text-anchor="middle" font-style="italic">gst-10</text>
<rect x="511.20" y="131.94" width="10.00" height="2.26" fill="#fff" stroke="#1a1a1a" stroke-width="1.2"/>
<circle cx="513.20" cy="131.74" r="1.15" fill="#111"/>
<circle cx="516.20" cy="131.74" r="1.15" fill="#111"/>
<circle cx="519.20" cy="131.74" r="1.15" fill="#111"/>
<rect x="525.70" y="133.86" width="10.00" height="0.60" fill="#fff" stroke="#1b8ca6" stroke-width="1.2"/>
<circle cx="527.70" cy="133.66" r="1.15" fill="#111"/>
<circle cx="530.70" cy="133.66" r="1.15" fill="#111"/>
<circle cx="533.70" cy="133.66" r="1.15" fill="#111"/>
<rect x="540.40" y="89.58" width="10.00" height="44.62" fill="url(#hatchK)" stroke="#1a1a1a" stroke-width="1.2"/>
<circle cx="546.20" cy="92.30" r="1.3" fill="#111"/>
<circle cx="545.40" cy="113.14" r="1.3" fill="#111"/>
<rect x="554.90" y="121.97" width="10.00" height="12.23" fill="url(#hatchT)" stroke="#1b8ca6" stroke-width="1.2"/>
<circle cx="559.10" cy="118.34" r="1.3" fill="#111"/>
<circle cx="560.70" cy="119.48" r="1.3" fill="#111"/>
<circle cx="559.90" cy="127.63" r="1.3" fill="#111"/>
<line x1="363.40" y1="134.20" x2="569.90" y2="134.20" stroke="#1a1a1a" stroke-width="1.2"/>
<line x1="476.90" y1="120.16" x2="476.90" y2="115.50" stroke="#1a1a1a" stroke-width="1.1"/>
<path d="M474.9,117 L476.9,113.6 L478.9,117 Z" fill="#111"/>
<line x1="545.20" y1="89.58" x2="545.20" y2="65.50" stroke="#1a1a1a" stroke-width="1.1"/>
<path d="M543.0,66.6 L545.2,62.6 L547.4,66.6 Z" fill="#111"/>
<line x1="559.90" y1="121.97" x2="559.90" y2="117.50" stroke="#1b8ca6" stroke-width="1.1"/>
<line x1="557.70" y1="117.50" x2="562.10" y2="117.50" stroke="#1b8ca6" stroke-width="1.1"/>
<polyline points="378.70,128.00 378.70,111.70 407.20,111.70 407.20,122.80" fill="none" stroke="#1a1a1a" stroke-width="1.1" stroke-linejoin="round"/>
<polyline points="409.50,122.80 409.50,111.70 423.30,111.70 423.30,128.60" fill="none" stroke="#1a1a1a" stroke-width="1.1" stroke-linejoin="round"/>
<text x="393.00" y="111.77" font-size="11" text-anchor="middle">***</text>
<text x="416.20" y="112.07" font-size="11" text-anchor="middle">***</text>
<polyline points="447.50,130.00 447.50,102.30 475.80,102.30 475.80,112.00" fill="none" stroke="#1a1a1a" stroke-width="1.1" stroke-linejoin="round"/>
<polyline points="477.90,112.00 477.90,102.30 492.00,102.30 492.00,125.50" fill="none" stroke="#1a1a1a" stroke-width="1.1" stroke-linejoin="round"/>
<text x="460.00" y="102.87" font-size="11" text-anchor="middle">***</text>
<text x="484.50" y="102.87" font-size="11" text-anchor="middle">**</text>
<polyline points="515.20,130.50 515.20,51.00 544.60,51.00 544.60,61.50" fill="none" stroke="#1a1a1a" stroke-width="1.1" stroke-linejoin="round"/>
<polyline points="546.70,61.50 546.70,51.00 559.40,51.00 559.40,116.20" fill="none" stroke="#1a1a1a" stroke-width="1.1" stroke-linejoin="round"/>
<text x="529.00" y="51.27" font-size="11" text-anchor="middle">*</text>
<text x="539.30" y="48.00" font-size="9">p=0.052</text>
<line x1="631.50" y1="37.50" x2="631.50" y2="131.80" stroke="#1a1a1a" stroke-width="1.2"/>
<line x1="625.40" y1="131.80" x2="685.00" y2="131.80" stroke="#1a1a1a" stroke-width="1.2"/>
<line x1="625.40" y1="131.80" x2="631.50" y2="131.80" stroke="#1a1a1a" stroke-width="1.2"/>
<text x="622.30" y="135.40" font-size="10" text-anchor="end">0</text>
<line x1="625.40" y1="108.35" x2="631.50" y2="108.35" stroke="#1a1a1a" stroke-width="1.2"/>
<text x="622.30" y="111.95" font-size="10" text-anchor="end">1</text>
<line x1="625.40" y1="84.90" x2="631.50" y2="84.90" stroke="#1a1a1a" stroke-width="1.2"/>
<text x="622.30" y="88.50" font-size="10" text-anchor="end">2</text>
<line x1="625.40" y1="61.45" x2="631.50" y2="61.45" stroke="#1a1a1a" stroke-width="1.2"/>
<text x="622.30" y="65.05" font-size="10" text-anchor="end">3</text>
<line x1="625.40" y1="38.00" x2="631.50" y2="38.00" stroke="#1a1a1a" stroke-width="1.2"/>
<text x="622.30" y="41.60" font-size="10" text-anchor="end">4</text>
<text x="610.60" y="88.10" font-size="9.2" text-anchor="middle" transform="rotate(-90 610.60 88.10)">Relative mRNA levels</text>
<text x="650.60" y="33.40" font-size="9" text-anchor="middle" font-style="italic">elo-3</text>
<rect x="638.80" y="108.35" width="15.00" height="23.45" fill="#fff" stroke="#1a1a1a" stroke-width="1.2"/>
<rect x="661.60" y="64.50" width="14.80" height="67.30" fill="#fff" stroke="#c1272d" stroke-width="1.3"/>
<circle cx="642.50" cy="108.35" r="1.5" fill="#000"/>
<circle cx="646.10" cy="108.35" r="1.5" fill="#000"/>
<circle cx="649.70" cy="108.35" r="1.5" fill="#000"/>
<line x1="625.40" y1="131.80" x2="685.00" y2="131.80" stroke="#1a1a1a" stroke-width="1.2"/>
<line x1="669.30" y1="49.10" x2="669.30" y2="80.10" stroke="#c1272d" stroke-width="1.2"/>
<line x1="665.30" y1="49.10" x2="673.20" y2="49.10" stroke="#c1272d" stroke-width="1.2"/>
<line x1="665.30" y1="80.10" x2="673.20" y2="80.10" stroke="#c1272d" stroke-width="1.2"/>
<circle cx="669.30" cy="48.00" r="1.6" fill="#000"/>
<circle cx="669.30" cy="68.20" r="1.6" fill="#000"/>
<circle cx="669.30" cy="78.30" r="1.6" fill="#000"/>
<text x="669.30" y="45.18" font-size="8.5" text-anchor="middle">**</text>
<line x1="646.10" y1="131.80" x2="646.10" y2="135.60" stroke="#1a1a1a" stroke-width="1.1"/>
<line x1="668.90" y1="131.80" x2="668.90" y2="135.60" stroke="#1a1a1a" stroke-width="1.1"/>
<text x="645.80" y="146.30" font-size="9.3" text-anchor="middle">WT</text>
<text x="668.60" y="146.30" font-size="9.3" text-anchor="middle"><tspan font-style="italic">g<tspan dx="0.8">l</tspan><tspan dx="0.8">p</tspan>-1</tspan></text>
<text x="99.20" y="186.60" font-size="9.3" text-anchor="middle">SKN-1::GFP</text>
<line x1="43.00" y1="191.40" x2="155.80" y2="191.40" stroke="#1a1a1a" stroke-width="1.1"/>
<text x="28.90" y="201.00" font-size="8.9">control</text>
<text x="60.30" y="201.00" font-size="9.3">RNAi</text>
<text x="111.70" y="201.20" font-size="9.3"><tspan font-style="italic">elo-3</tspan></text>
<text x="135.30" y="201.20" font-size="9.3">RNAi</text>
<text x="14.80" y="235.50" font-size="9.3" text-anchor="middle" transform="rotate(-90 14.80 235.50)">WT</text>
<text x="12.40" y="292.90" font-size="9.3" text-anchor="middle" transform="rotate(-90 12.40 292.90)"><tspan font-style="italic">glp-1</tspan></text>
<line x1="265.60" y1="212.30" x2="265.60" y2="306.60" stroke="#1a1a1a" stroke-width="1.2"/>
<line x1="259.40" y1="306.60" x2="350.20" y2="306.60" stroke="#1a1a1a" stroke-width="1.2"/>
<line x1="259.40" y1="306.60" x2="265.60" y2="306.60" stroke="#1a1a1a" stroke-width="1.2"/>
<text x="256.20" y="310.20" font-size="10" text-anchor="end">0</text>
<line x1="259.40" y1="287.84" x2="265.60" y2="287.84" stroke="#1a1a1a" stroke-width="1.2"/>
<text x="256.20" y="291.44" font-size="10" text-anchor="end">20</text>
<line x1="259.40" y1="269.08" x2="265.60" y2="269.08" stroke="#1a1a1a" stroke-width="1.2"/>
<text x="256.20" y="272.68" font-size="10" text-anchor="end">40</text>
<line x1="259.40" y1="250.32" x2="265.60" y2="250.32" stroke="#1a1a1a" stroke-width="1.2"/>
<text x="256.20" y="253.92" font-size="10" text-anchor="end">60</text>
<line x1="259.40" y1="231.56" x2="265.60" y2="231.56" stroke="#1a1a1a" stroke-width="1.2"/>
<text x="256.20" y="235.16" font-size="10" text-anchor="end">80</text>
<line x1="259.40" y1="212.80" x2="265.60" y2="212.80" stroke="#1a1a1a" stroke-width="1.2"/>
<text x="256.20" y="216.40" font-size="10" text-anchor="end">100</text>
<text x="227.60" y="263.50" font-size="8.9" text-anchor="middle" transform="rotate(-90 227.60 263.50)">% of SKN-1::GFP levels</text>
<text x="238.60" y="262.50" font-size="8.9" text-anchor="middle" transform="rotate(-90 238.60 262.50)">in the nucleus</text>
<rect x="269.20" y="212.80" width="16.50" height="93.80" fill="#fff" stroke="#1a1a1a" stroke-width="1.2"/>
<rect x="269.20" y="212.80" width="16.50" height="15.01" fill="#d3d3d3" stroke="#1a1a1a" stroke-width="1.2"/>
<line x1="277.50" y1="306.60" x2="277.50" y2="309.60" stroke="#1a1a1a" stroke-width="1.1"/>
<rect x="289.40" y="212.80" width="16.50" height="93.80" fill="#fff" stroke="#1a1a1a" stroke-width="1.2"/>
<rect x="289.40" y="212.80" width="16.50" height="2.81" fill="#d3d3d3" stroke="#1a1a1a" stroke-width="1.2"/>
<line x1="297.70" y1="306.60" x2="297.70" y2="309.60" stroke="#1a1a1a" stroke-width="1.1"/>
<rect x="309.90" y="212.80" width="16.50" height="93.80" fill="#fff" stroke="#1a1a1a" stroke-width="1.2"/>
<rect x="309.90" y="278.46" width="16.50" height="25.33" fill="#d3d3d3" stroke="#1a1a1a" stroke-width="1.2"/>
<rect x="309.90" y="212.80" width="16.50" height="65.66" fill="#000" stroke="#1a1a1a" stroke-width="1.2"/>
<line x1="318.20" y1="306.60" x2="318.20" y2="309.60" stroke="#1a1a1a" stroke-width="1.1"/>
<rect x="330.40" y="212.80" width="16.50" height="93.80" fill="#fff" stroke="#1a1a1a" stroke-width="1.2"/>
<rect x="330.40" y="214.68" width="16.50" height="14.07" fill="#d3d3d3" stroke="#1a1a1a" stroke-width="1.2"/>
<rect x="330.40" y="212.80" width="16.50" height="1.88" fill="#000" stroke="#1a1a1a" stroke-width="1.2"/>
<line x1="338.70" y1="306.60" x2="338.70" y2="309.60" stroke="#1a1a1a" stroke-width="1.1"/>
<text x="275.60" y="318.20" font-size="9.3" text-anchor="end" transform="rotate(-45 275.60 318.20)">control</text>
<text x="296.40" y="318.20" font-size="9.3" text-anchor="end" font-style="italic" transform="rotate(-45 296.40 318.20)">elo-3</text>
<text x="316.70" y="318.20" font-size="9.3" text-anchor="end" transform="rotate(-45 316.70 318.20)">control</text>
<text x="337.20" y="318.20" font-size="9.3" text-anchor="end" font-style="italic" transform="rotate(-45 337.20 318.20)">elo-3</text>
<text x="238.00" y="322.40" font-size="9.3">RNAi</text>
<text x="286.60" y="194.40" font-size="9.3" text-anchor="middle">WT</text>
<line x1="272.20" y1="197.70" x2="302.50" y2="197.70" stroke="#1a1a1a" stroke-width="1.1"/>
<text x="327.30" y="194.40" font-size="9.3" text-anchor="middle"><tspan font-style="italic">glp-1</tspan></text>
<line x1="315.60" y1="197.40" x2="341.90" y2="197.40" stroke="#1a1a1a" stroke-width="1.1"/>
<polyline points="278.10,210.90 278.10,204.30 316.20,204.30 316.20,210.90" fill="none" stroke="#1a1a1a" stroke-width="1.2" stroke-linejoin="round"/>
<polyline points="318.60,210.90 318.60,204.30 338.60,204.30 338.60,210.90" fill="none" stroke="#1a1a1a" stroke-width="1.2" stroke-linejoin="round"/>
<text x="296.50" y="205.33" font-size="8.8" text-anchor="middle">***</text>
<text x="327.10" y="205.33" font-size="8.8" text-anchor="middle">***</text>
<rect x="353.30" y="241.70" width="8.30" height="8.60" fill="#000" stroke="#1a1a1a" stroke-width="1.2"/>
<rect x="353.30" y="255.40" width="8.30" height="8.60" fill="#d3d3d3" stroke="#1a1a1a" stroke-width="1.2"/>
<rect x="353.30" y="269.50" width="8.30" height="8.20" fill="#fff" stroke="#1a1a1a" stroke-width="1.2"/>
<text x="372.00" y="248.50" font-size="9.3" text-anchor="middle">H</text>
<text x="372.00" y="262.10" font-size="9.3" text-anchor="middle">M</text>
<text x="372.30" y="276.70" font-size="9.3" text-anchor="middle">L</text>
<line x1="443.30" y1="212.20" x2="443.30" y2="303.80" stroke="#1a1a1a" stroke-width="1.2"/>
<line x1="436.30" y1="303.80" x2="593.70" y2="303.80" stroke="#1a1a1a" stroke-width="1.2"/>
<line x1="436.30" y1="303.80" x2="443.30" y2="303.80" stroke="#1a1a1a" stroke-width="1.2"/>
<text x="434.60" y="307.40" font-size="10" text-anchor="end">0</text>
<line x1="436.30" y1="258.25" x2="443.30" y2="258.25" stroke="#1a1a1a" stroke-width="1.2"/>
<text x="434.60" y="261.85" font-size="10" text-anchor="end">50</text>
<line x1="436.30" y1="212.70" x2="443.30" y2="212.70" stroke="#1a1a1a" stroke-width="1.2"/>
<text x="434.60" y="216.30" font-size="10" text-anchor="end">100</text>
<line x1="443.30" y1="303.80" x2="443.30" y2="306.80" stroke="#1a1a1a" stroke-width="1.1"/>
<text x="443.30" y="319.90" font-size="10" text-anchor="middle">0</text>
<line x1="493.45" y1="303.80" x2="493.45" y2="306.80" stroke="#1a1a1a" stroke-width="1.1"/>
<text x="493.45" y="319.90" font-size="10" text-anchor="middle">5</text>
<line x1="543.60" y1="303.80" x2="543.60" y2="306.80" stroke="#1a1a1a" stroke-width="1.1"/>
<text x="543.60" y="319.90" font-size="10" text-anchor="middle">10</text>
<line x1="593.75" y1="303.80" x2="593.75" y2="306.80" stroke="#1a1a1a" stroke-width="1.1"/>
<text x="593.75" y="319.90" font-size="10" text-anchor="middle">15</text>
<text x="518.20" text-anchor="middle" y="331.00" font-size="9">hours</text>
<text x="421.40" y="261.90" font-size="9.2" text-anchor="middle" transform="rotate(-90 421.40 261.90)">Percent survival</text>
<text x="513.30" y="209.50" font-size="9" text-anchor="middle">TBHP</text>
<polyline points="443.30,212.70 473.39,212.70 493.45,215.52 513.51,224.91 553.63,294.23 573.69,302.62 593.75,303.80" fill="none" stroke="#222" stroke-width="1.35" stroke-linejoin="round" stroke-dasharray="3,2.6"/>
<polyline points="443.30,212.70 473.39,219.08 493.45,226.73 513.51,245.86 533.57,286.76 553.63,301.98 573.69,303.80" fill="none" stroke="#2597b2" stroke-width="1.35" stroke-linejoin="round" stroke-dasharray="3,2.6"/>
<polyline points="443.30,212.70 472.89,215.52 493.85,228.46 533.57,291.96 553.63,303.25" fill="none" stroke="#111" stroke-width="1.35" stroke-linejoin="round"/>
<polyline points="443.30,212.70 472.89,223.27 493.85,243.67 533.57,299.61 553.63,303.25" fill="none" stroke="#2597b2" stroke-width="1.35" stroke-linejoin="round"/>
<line x1="540.20" y1="217.60" x2="564.40" y2="217.60" stroke="#111" stroke-width="1.5"/>
<line x1="540.20" y1="228.00" x2="564.40" y2="228.00" stroke="#2597b2" stroke-width="1.7"/>
<line x1="540.20" y1="239.20" x2="564.40" y2="239.20" stroke="#222" stroke-width="1.5" stroke-dasharray="3,2.8"/>
<line x1="540.20" y1="250.20" x2="564.40" y2="250.20" stroke="#2597b2" stroke-width="1.5" stroke-dasharray="3,2.8"/>
<text x="578.00" y="220.60" font-size="9.1">WT + control RNAi</text>
<text x="578.00" y="230.60" font-size="9.1">WT + <tspan font-style="italic">elo-3</tspan> RNAi</text>
<text x="578.00" y="242.00" font-size="9.1"><tspan font-style="italic">glp-1</tspan> + control RNAi</text>
<text x="578.00" y="252.80" font-size="9.1"><tspan font-style="italic">glp-1</tspan> + <tspan font-style="italic">elo-3</tspan> RNAi</text>
<polyline points="661.10,216.30 668.00,216.30 668.00,250.00 661.10,250.00" fill="none" stroke="#1a1a1a" stroke-width="1.3" stroke-linejoin="round"/>
<rect x="661.10" y="237.20" width="6.90" height="3.10" fill="#666" stroke="none" stroke-width="0"/>
<text x="677.40" y="232.22" font-size="11.5" text-anchor="middle">***</text>
<text x="677.40" y="251.02" font-size="11.5" text-anchor="middle">***</text>
<line x1="46.20" y1="386.25" x2="46.20" y2="483.00" stroke="#1a1a1a" stroke-width="1.2"/>
<line x1="39.10" y1="483.00" x2="193.80" y2="483.00" stroke="#1a1a1a" stroke-width="1.2"/>
<line x1="39.10" y1="483.00" x2="46.20" y2="483.00" stroke="#1a1a1a" stroke-width="1.2"/>
<text x="37.90" y="486.60" font-size="10" text-anchor="end">0</text>
<line x1="39.10" y1="434.88" x2="46.20" y2="434.88" stroke="#1a1a1a" stroke-width="1.2"/>
<text x="37.90" y="438.48" font-size="10" text-anchor="end">50</text>
<line x1="39.10" y1="386.75" x2="46.20" y2="386.75" stroke="#1a1a1a" stroke-width="1.2"/>
<text x="37.90" y="390.35" font-size="10" text-anchor="end">100</text>
<line x1="46.20" y1="483.00" x2="46.20" y2="486.20" stroke="#1a1a1a" stroke-width="1.1"/>
<text x="46.20" y="498.90" font-size="10" text-anchor="middle">0</text>
<line x1="83.10" y1="483.00" x2="83.10" y2="486.20" stroke="#1a1a1a" stroke-width="1.1"/>
<text x="83.10" y="498.90" font-size="10" text-anchor="middle">10</text>
<line x1="120.00" y1="483.00" x2="120.00" y2="486.20" stroke="#1a1a1a" stroke-width="1.1"/>
<text x="120.00" y="498.90" font-size="10" text-anchor="middle">20</text>
<line x1="156.90" y1="483.00" x2="156.90" y2="486.20" stroke="#1a1a1a" stroke-width="1.1"/>
<text x="156.90" y="498.90" font-size="10" text-anchor="middle">30</text>
<line x1="193.80" y1="483.00" x2="193.80" y2="486.20" stroke="#1a1a1a" stroke-width="1.1"/>
<text x="193.80" y="498.90" font-size="10" text-anchor="middle">40</text>
<text x="120.00" y="508.60" font-size="9" text-anchor="middle">days</text>
<text x="16.80" y="438.90" font-size="9.2" text-anchor="middle" transform="rotate(-90 16.80 438.90)">Percent survival</text>
<text x="51.30" y="478.30" font-size="9"><tspan font-style="italic">glp-1</tspan></text>
<polyline points="46.20,386.70 83.60,386.70 87.00,387.30 97.60,389.70 105.10,399.30 112.60,407.90 120.10,412.20 127.60,418.70 135.20,428.30 143.70,442.30 150.20,456.30 156.60,470.20 165.20,476.70 178.10,483.10" fill="none" stroke="#111" stroke-width="1.2" stroke-linejoin="round"/>
<polyline points="46.20,386.70 83.60,386.70 90.00,400.40 96.50,420.80 102.90,446.60 112.60,472.40 120.10,480.30 126.60,483.10" fill="none" stroke="#2597b2" stroke-width="1.3" stroke-linejoin="round"/>
<line x1="121.50" y1="388.60" x2="145.60" y2="388.60" stroke="#111" stroke-width="1.2"/>
<line x1="121.50" y1="398.30" x2="145.60" y2="398.30" stroke="#2597b2" stroke-width="1.4"/>
<text x="160.00" y="391.90" font-size="9.1">control RNAi</text>
<text x="160.00" y="400.60" font-size="9.1"><tspan font-style="italic">elo-3</tspan> RNAi</text>
<polyline points="213.70,387.70 218.80,387.70 218.80,398.90 213.70,398.90" fill="none" stroke="#1a1a1a" stroke-width="1.1" stroke-linejoin="round"/>
<text x="227.50" y="397.87" font-size="11" text-anchor="middle">***</text>
<line x1="318.50" y1="382.90" x2="318.50" y2="479.80" stroke="#1a1a1a" stroke-width="1.2"/>
<line x1="311.60" y1="479.80" x2="466.40" y2="479.80" stroke="#1a1a1a" stroke-width="1.2"/>
<line x1="311.60" y1="479.80" x2="318.50" y2="479.80" stroke="#1a1a1a" stroke-width="1.2"/>
<text x="310.50" y="483.40" font-size="10" text-anchor="end">0</text>
<line x1="311.60" y1="431.60" x2="318.50" y2="431.60" stroke="#1a1a1a" stroke-width="1.2"/>
<text x="310.50" y="435.20" font-size="10" text-anchor="end">50</text>
<line x1="311.60" y1="383.40" x2="318.50" y2="383.40" stroke="#1a1a1a" stroke-width="1.2"/>
<text x="310.50" y="387.00" font-size="10" text-anchor="end">100</text>
<line x1="318.50" y1="479.80" x2="318.50" y2="483.00" stroke="#1a1a1a" stroke-width="1.1"/>
<text x="318.50" y="495.30" font-size="10" text-anchor="middle">0</text>
<line x1="367.80" y1="479.80" x2="367.80" y2="483.00" stroke="#1a1a1a" stroke-width="1.1"/>
<text x="367.80" y="495.30" font-size="10" text-anchor="middle">10</text>
<line x1="417.10" y1="479.80" x2="417.10" y2="483.00" stroke="#1a1a1a" stroke-width="1.1"/>
<text x="417.10" y="495.30" font-size="10" text-anchor="middle">20</text>
<line x1="466.40" y1="479.80" x2="466.40" y2="483.00" stroke="#1a1a1a" stroke-width="1.1"/>
<text x="466.40" y="495.30" font-size="10" text-anchor="middle">30</text>
<text x="392.00" y="505.60" font-size="9" text-anchor="middle">days</text>
<text x="292.00" y="435.90" font-size="9.2" text-anchor="middle" transform="rotate(-90 292.00 435.90)">Percent survival</text>
<text x="320.40" y="476.60" font-size="9.8">WT</text>
<polyline points="318.90,383.60 327.90,384.70 333.30,386.20 338.60,386.80 342.90,387.90 354.80,394.30 363.30,398.60 373.00,410.50 381.60,420.10 393.40,430.40 402.00,431.30 411.70,443.80 422.40,454.50 432.10,470.60 441.80,479.90" fill="none" stroke="#111" stroke-width="1.2" stroke-linejoin="round"/>
<polyline points="318.90,383.60 332.20,384.00 340.80,385.30 354.80,394.30 364.40,404.00 373.00,414.80 381.60,420.60 392.40,426.10 402.00,434.10 411.70,454.50 422.40,470.60 432.10,476.40 440.70,479.90" fill="none" stroke="#2597b2" stroke-width="1.3" stroke-linejoin="round"/>
<line x1="385.60" y1="384.10" x2="409.70" y2="384.10" stroke="#111" stroke-width="1.2"/>
<line x1="385.60" y1="393.70" x2="409.70" y2="393.70" stroke="#2597b2" stroke-width="1.4"/>
<text x="422.50" y="387.00" font-size="9.1">control RNAi</text>
<text x="422.50" y="396.30" font-size="9.1"><tspan font-style="italic">elo-3</tspan> RNAi</text>
<polyline points="476.90,384.30 482.40,384.30 482.40,394.60 476.90,394.60" fill="none" stroke="#1a1a1a" stroke-width="1.2" stroke-linejoin="round"/>
<text x="486.00" y="391.60" font-size="9">ns</text>
</svg>
</body></html>
